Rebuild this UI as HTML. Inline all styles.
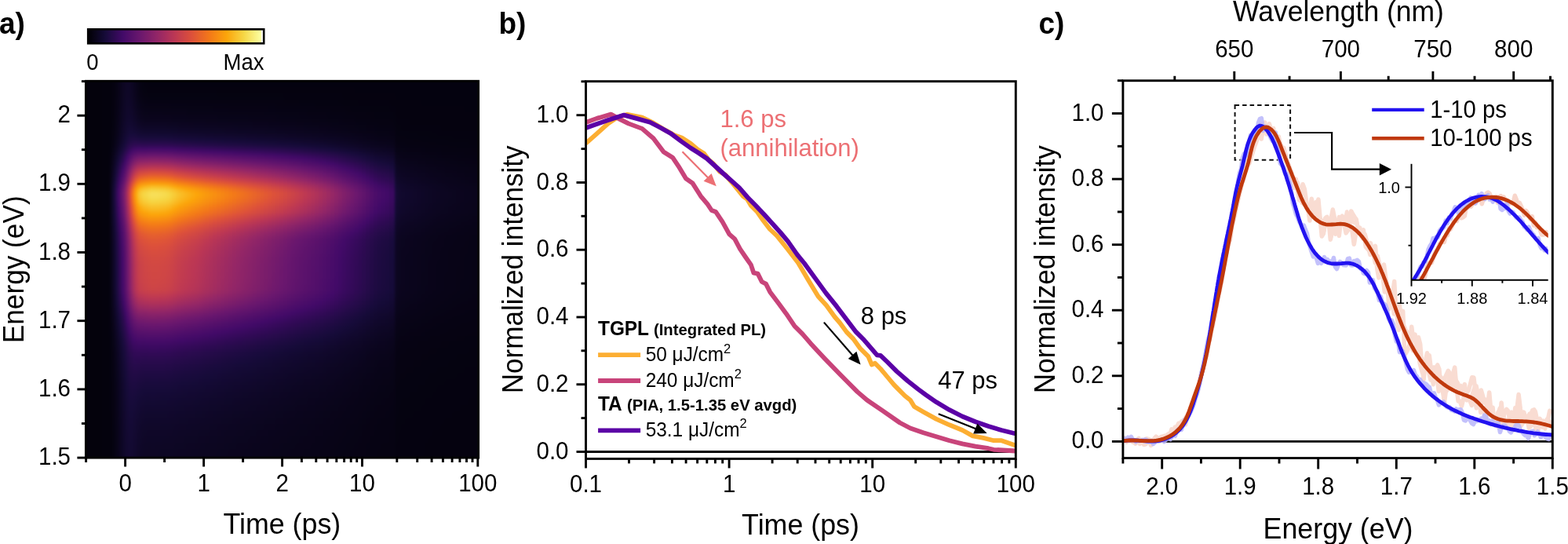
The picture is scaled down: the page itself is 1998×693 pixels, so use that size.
<!DOCTYPE html>
<html><head><meta charset="utf-8"><style>
html,body{margin:0;padding:0;background:#fff}
body{width:1998px;height:693px;overflow:hidden;position:relative}
#hm{position:absolute;left:109px;top:103px;width:501px;height:481px;overflow:hidden}
#hmi div{position:absolute;top:0;height:100%}
svg{position:absolute;left:0;top:0}
text{font-family:"Liberation Sans", Arial, sans-serif}
</style></head><body>
<div id="hm"><div id="hmi" style="position:absolute;left:-6px;top:-6px;width:513px;height:493px;filter:blur(1.2px)"><div style="left:0px;width:3px;background:linear-gradient(#04020c 0px,#04020c 493px)"></div><div style="left:3px;width:3px;background:linear-gradient(#04020c 0px,#04020c 493px)"></div><div style="left:6px;width:3px;background:linear-gradient(#04020c 0px,#04020c 493px)"></div><div style="left:9px;width:3px;background:linear-gradient(#04020c 0px,#04020c 493px)"></div><div style="left:12px;width:3px;background:linear-gradient(#04020c 0px,#04020c 493px)"></div><div style="left:15px;width:3px;background:linear-gradient(#04020c 0px,#04020c 493px)"></div><div style="left:18px;width:3px;background:linear-gradient(#04020c 0px,#04020c 493px)"></div><div style="left:21px;width:3px;background:linear-gradient(#04020c 0px,#04020c 493px)"></div><div style="left:24px;width:3px;background:linear-gradient(#04020c 0px,#04020c 493px)"></div><div style="left:27px;width:3px;background:linear-gradient(#04020d 0px,#04020d 493px)"></div><div style="left:30px;width:3px;background:linear-gradient(#04020d 0px,#04020d 493px)"></div><div style="left:33px;width:3px;background:linear-gradient(#04020d 0px,#04020d 493px)"></div><div style="left:36px;width:2px;background:linear-gradient(#04020d 0px,#04020d 64px,#04020e 72px,#04020e 93px,#04020f 96px,#04020f 97px,#05020f 101px,#05020f 105px,#050210 109px,#050210 112px,#050310 113px,#050311 117px,#050311 121px,#060311 125px,#060312 128px,#060312 136px,#060313 137px,#060313 177px,#060312 181px,#060312 200px,#060311 201px,#060311 208px,#050311 216px,#050311 281px,#050310 285px,#050310 293px,#050210 296px,#050210 305px,#05020f 309px,#05020f 321px,#04020f 325px,#04020f 329px,#04020e 336px,#04020e 424px,#04020d 432px,#04020d 493px)"></div><div style="left:38px;width:2px;background:linear-gradient(#04020e 0px,#04020e 56px,#04020f 64px,#05020f 72px,#05020f 73px,#050210 77px,#050210 81px,#050310 85px,#050311 88px,#050311 89px,#060312 93px,#060313 96px,#060313 97px,#070314 101px,#070315 104px,#070415 105px,#080416 109px,#080417 112px,#080417 113px,#090419 117px,#090419 120px,#09051a 121px,#0a051b 125px,#0a051c 128px,#0a051c 129px,#0b051d 133px,#0b051e 136px,#0b061f 137px,#0c0620 141px,#0c0621 144px,#0c0621 145px,#0c0622 149px,#0c0622 153px,#0c0621 157px,#0c0621 161px,#0c0620 165px,#0c0620 169px,#0b061f 173px,#0b061f 177px,#0b051e 181px,#0b051e 185px,#0a051d 189px,#0a051d 192px,#0a051c 193px,#0a051c 201px,#0a051b 208px,#09051b 216px,#09051a 224px,#09051a 256px,#09041a 264px,#090419 272px,#090419 281px,#080418 285px,#080418 289px,#080417 293px,#080417 297px,#070416 301px,#070416 304px,#070415 305px,#070415 309px,#070315 312px,#070314 313px,#070314 320px,#060314 321px,#060313 325px,#060313 329px,#060312 336px,#060312 344px,#050311 352px,#050311 360px,#050310 368px,#050310 376px,#050210 384px,#050210 400px,#05020f 408px,#05020f 456px,#04020f 464px,#04020f 493px)"></div><div style="left:40px;width:2px;background:linear-gradient(#05020f 0px,#05020f 32px,#050210 40px,#050210 48px,#050310 56px,#050311 64px,#060311 72px,#060311 73px,#060312 77px,#060312 80px,#060313 81px,#060313 85px,#070314 88px,#070314 89px,#070416 93px,#080417 96px,#080418 97px,#090419 101px,#09051b 104px,#0a051b 105px,#0a051d 109px,#0b051e 112px,#0b061f 113px,#0c0621 117px,#0d0622 120px,#0d0623 121px,#0e0725 125px,#0e0726 128px,#0e0727 129px,#0f0829 133px,#10082b 136px,#10082b 137px,#11092e 141px,#12092f 144px,#12092f 145px,#120930 149px,#120930 157px,#12092f 160px,#12092f 161px,#12092e 165px,#11092e 168px,#11092d 169px,#11082d 173px,#11082c 176px,#10082c 177px,#10082b 181px,#10082a 184px,#10082a 185px,#0f0829 189px,#0f0728 192px,#0f0728 193px,#0e0727 197px,#0e0726 200px,#0e0726 201px,#0e0725 208px,#0d0724 216px,#0d0724 224px,#0d0723 232px,#0d0623 240px,#0d0623 272px,#0d0622 273px,#0c0622 277px,#0c0621 280px,#0c0621 281px,#0c0620 285px,#0c0620 288px,#0b0620 289px,#0b061f 293px,#0b051e 296px,#0b051e 297px,#0a051d 301px,#0a051c 304px,#0a051c 305px,#0a051b 309px,#09051a 312px,#09051a 313px,#090419 317px,#090419 321px,#080418 325px,#080418 328px,#080417 329px,#080416 336px,#070415 344px,#070314 352px,#070314 360px,#060313 368px,#060313 384px,#060312 392px,#060312 416px,#060311 424px,#060311 432px,#050311 440px,#050311 493px)"></div><div style="left:42px;width:2px;background:linear-gradient(#050311 0px,#050311 24px,#060311 32px,#060312 40px,#060312 56px,#060313 64px,#070314 72px,#070314 73px,#070415 77px,#070416 80px,#070416 81px,#080417 85px,#080418 88px,#090419 89px,#09051b 93px,#0a051d 96px,#0a051d 97px,#0c0620 101px,#0c0622 104px,#0d0622 105px,#0e0725 109px,#0f0727 112px,#0f0728 113px,#10082b 117px,#11082d 120px,#11092e 121px,#120930 125px,#130a32 128px,#140a33 129px,#150a36 133px,#160b39 136px,#170b3a 137px,#190b3c 141px,#1b0b3e 144px,#1b0b3f 145px,#1c0b40 149px,#1c0b40 153px,#1c0b3f 157px,#1b0b3f 160px,#1b0b3e 161px,#1a0b3d 165px,#190b3c 168px,#190b3c 169px,#180b3b 173px,#170b3a 176px,#170b3a 177px,#160b39 181px,#150b37 184px,#150b37 185px,#150a36 189px,#140a35 192px,#140a34 193px,#140a33 197px,#130a32 200px,#130a32 201px,#130931 208px,#120930 216px,#12092f 224px,#12092e 232px,#11092e 240px,#11092e 256px,#11092d 264px,#11082d 272px,#11082d 273px,#11082c 277px,#10082b 280px,#10082b 281px,#10082a 285px,#0f0829 288px,#0f0829 289px,#0f0727 293px,#0e0726 296px,#0e0726 297px,#0e0725 301px,#0d0724 304px,#0d0623 305px,#0c0622 309px,#0c0621 312px,#0c0621 313px,#0c0620 317px,#0b061f 320px,#0b061f 321px,#0b051e 325px,#0a051d 328px,#0a051d 329px,#0a051b 336px,#09051a 344px,#090419 352px,#080418 360px,#080417 368px,#080416 376px,#070416 384px,#070416 392px,#070415 400px,#070315 408px,#070314 416px,#070314 440px,#060314 448px,#060313 456px,#060313 493px)"></div><div style="left:44px;width:2px;background:linear-gradient(#060313 0px,#060313 24px,#070314 32px,#070314 40px,#070315 48px,#070415 56px,#080416 64px,#080417 72px,#080418 73px,#090419 77px,#09041a 80px,#09051a 81px,#0a051b 85px,#0a051d 88px,#0b051d 89px,#0c0620 93px,#0d0623 96px,#0d0723 97px,#0f0727 101px,#10082a 104px,#10082a 105px,#11092e 109px,#130931 112px,#130932 113px,#150a35 117px,#160b38 120px,#160b39 121px,#190b3d 125px,#1c0b3f 128px,#1c0b40 129px,#200b44 133px,#230b47 136px,#240b48 137px,#270b4b 141px,#290b4e 144px,#2a0b4e 145px,#2b0b50 149px,#2b0b50 153px,#2b0b4f 157px,#2a0b4e 160px,#290b4e 161px,#280b4c 165px,#270b4b 168px,#270b4b 169px,#260b4a 173px,#240b48 176px,#240b48 177px,#220b46 181px,#210b45 184px,#210b44 185px,#1f0b43 189px,#1e0b42 192px,#1e0b41 193px,#1c0b40 197px,#1b0b3f 200px,#1b0b3e 201px,#1a0b3d 208px,#190b3c 216px,#180b3b 224px,#170b3a 232px,#170b3a 240px,#160b3a 248px,#160b39 256px,#160b39 264px,#160b38 272px,#160b38 273px,#150b37 277px,#150a36 280px,#150a36 281px,#140a34 285px,#140a33 288px,#130a33 289px,#130931 293px,#120930 296px,#12092f 297px,#11092e 301px,#11082c 304px,#10082c 305px,#10082a 309px,#0f0829 312px,#0f0828 313px,#0f0727 317px,#0e0726 320px,#0e0726 321px,#0d0724 325px,#0d0723 328px,#0d0623 329px,#0c0621 336px,#0b061f 344px,#0b051d 352px,#0a051c 360px,#0a051b 368px,#09051b 376px,#09051a 384px,#090419 392px,#090419 400px,#080418 408px,#080418 424px,#080417 432px,#080417 456px,#080416 464px,#080416 472px,#070416 480px,#070416 493px)"></div><div style="left:46px;width:2px;background:linear-gradient(#070416 0px,#070416 8px,#080416 16px,#080416 24px,#080417 32px,#080417 40px,#080418 48px,#090419 56px,#09051a 64px,#0a051b 72px,#0a051c 73px,#0a051d 77px,#0b051e 80px,#0b061f 81px,#0c0620 85px,#0d0622 88px,#0d0623 89px,#0e0726 93px,#10082a 96px,#10082b 97px,#12092f 101px,#130a32 104px,#140a33 105px,#150b38 109px,#180b3b 112px,#190b3c 113px,#1d0b40 117px,#200b44 120px,#210b45 121px,#250b49 125px,#280b4c 128px,#290b4d 129px,#2d0a52 133px,#310a55 136px,#320a57 137px,#360a5b 141px,#390a5e 144px,#3a0a5f 145px,#3b0a61 149px,#3b0a61 153px,#3a0a60 157px,#390a5f 160px,#390a5e 161px,#370a5d 165px,#360a5b 168px,#360a5b 169px,#340a59 173px,#330a58 176px,#320a57 177px,#300a55 181px,#2f0a53 184px,#2e0a53 185px,#2c0a51 189px,#2b0b4f 192px,#2a0b4f 193px,#290b4d 197px,#270b4c 200px,#270b4b 201px,#250b49 208px,#240b48 216px,#230b47 224px,#220b46 232px,#210b45 240px,#210b45 256px,#210b44 264px,#200b44 272px,#200b43 273px,#1f0b42 277px,#1e0b41 280px,#1d0b41 281px,#1c0b3f 285px,#1b0b3e 288px,#1a0b3d 289px,#180b3c 293px,#170b3a 296px,#170b3a 297px,#150b37 301px,#150a35 304px,#140a35 305px,#130a33 309px,#130931 312px,#130931 313px,#12092f 317px,#11092e 320px,#11092d 321px,#10082c 325px,#10082a 328px,#10082a 329px,#0f0727 336px,#0e0725 344px,#0d0623 352px,#0c0622 360px,#0c0620 368px,#0b061f 376px,#0b061f 384px,#0b051e 392px,#0a051d 400px,#0a051d 408px,#0a051c 416px,#0a051c 424px,#0a051b 432px,#09051b 440px,#09051a 448px,#09051a 472px,#09041a 480px,#09041a 493px)"></div><div style="left:48px;width:2px;background:linear-gradient(#090419 0px,#090419 24px,#09051a 32px,#09051a 40px,#0a051b 48px,#0a051c 56px,#0b051d 64px,#0b0620 72px,#0c0620 73px,#0c0621 77px,#0d0623 80px,#0d0623 81px,#0e0726 85px,#0f0728 88px,#0f0829 89px,#11082d 93px,#130931 96px,#130a32 97px,#150b37 101px,#180b3b 104px,#190b3c 105px,#1d0b41 109px,#210b45 112px,#220b46 113px,#270b4b 117px,#2b0b4f 120px,#2c0b50 121px,#310a56 125px,#340a59 128px,#350a5b 129px,#3b0a60 133px,#3f0a65 136px,#400a66 137px,#450b69 141px,#480c69 144px,#490c69 145px,#4b0d69 149px,#4b0d69 153px,#4a0d69 157px,#490c69 160px,#490c69 161px,#470c69 165px,#450b69 168px,#450b68 169px,#430a68 173px,#420a68 176px,#410a67 177px,#3f0a64 181px,#3d0a62 184px,#3c0a62 185px,#390a5f 189px,#380a5d 192px,#370a5d 193px,#350a5a 197px,#340a59 200px,#330a58 201px,#310a56 208px,#2f0a54 216px,#2e0a53 224px,#2d0a52 232px,#2d0a51 240px,#2c0a51 248px,#2c0a51 256px,#2c0b50 264px,#2b0b4f 272px,#2b0b4f 273px,#290b4e 277px,#280b4c 280px,#270b4c 281px,#260b4a 285px,#240b48 288px,#240b48 289px,#220b45 293px,#200b44 296px,#1f0b43 297px,#1d0b40 301px,#1b0b3e 304px,#1b0b3e 305px,#180b3c 309px,#170b3a 312px,#160b3a 313px,#150b37 317px,#150a36 320px,#140a35 321px,#140a33 325px,#130932 328px,#130931 329px,#11092e 336px,#10082b 344px,#0f0829 352px,#0f0727 360px,#0e0726 368px,#0d0724 376px,#0d0623 384px,#0d0622 392px,#0c0622 400px,#0c0621 408px,#0c0620 416px,#0b0620 424px,#0b061f 432px,#0b061f 440px,#0b051e 448px,#0b051e 472px,#0b051d 480px,#0a051d 488px,#0a051d 493px)"></div><div style="left:50px;width:2px;background:linear-gradient(#0a051c 0px,#0a051c 16px,#0a051d 24px,#0b051d 32px,#0b051e 40px,#0b061f 48px,#0c0620 56px,#0c0622 64px,#0d0724 72px,#0d0724 73px,#0e0726 77px,#0f0728 80px,#0f0828 81px,#10082b 85px,#11092e 88px,#12092f 89px,#140a34 93px,#160b38 96px,#160b39 97px,#1c0b3f 101px,#200b43 104px,#210b45 105px,#260b4a 109px,#2a0b4e 112px,#2c0b50 113px,#310a56 117px,#360a5b 120px,#370a5c 121px,#3d0a62 125px,#410a67 128px,#420a68 129px,#480c69 133px,#4c0d6a 136px,#4e0e6a 137px,#53106b 141px,#57116b 144px,#58116b 145px,#5a126c 149px,#5a126c 153px,#59116b 157px,#58116b 160px,#57116b 161px,#55106b 165px,#54106b 168px,#53106b 169px,#510f6a 173px,#4f0e6a 176px,#4e0e6a 177px,#4c0d69 181px,#4a0d69 184px,#490c69 185px,#460b69 189px,#450b68 192px,#440b68 193px,#420a68 197px,#400a66 200px,#400a66 201px,#3d0a63 208px,#3b0a61 216px,#390a5f 224px,#380a5e 232px,#380a5d 240px,#370a5d 248px,#370a5c 256px,#370a5c 264px,#360a5b 272px,#350a5b 273px,#340a59 277px,#320a57 280px,#320a57 281px,#300a54 285px,#2e0a53 288px,#2d0a52 289px,#2b0b4f 293px,#290b4d 296px,#280b4c 297px,#250b49 301px,#230b47 304px,#230b46 305px,#200b44 309px,#1e0b42 312px,#1e0b41 313px,#1c0b3f 317px,#1a0b3d 320px,#1a0b3d 321px,#180b3b 325px,#160b39 328px,#160b39 329px,#140a35 336px,#130931 344px,#12092f 352px,#11082d 360px,#10082b 368px,#10082a 376px,#0f0828 384px,#0f0727 392px,#0e0726 400px,#0e0726 408px,#0e0725 416px,#0d0724 424px,#0d0724 432px,#0d0623 440px,#0d0623 448px,#0d0622 456px,#0c0622 464px,#0c0622 472px,#0c0621 480px,#0c0621 493px)"></div><div style="left:52px;width:2px;background:linear-gradient(#0b0620 0px,#0b0620 8px,#0c0620 16px,#0c0620 24px,#0c0621 32px,#0c0622 40px,#0d0623 48px,#0d0724 56px,#0e0726 64px,#0f0828 72px,#0f0829 73px,#10082b 77px,#11082d 80px,#11092d 81px,#120930 85px,#140a33 88px,#140a35 89px,#170b3a 93px,#1b0b3e 96px,#1d0b40 97px,#230b46 101px,#270b4b 104px,#280b4d 105px,#2e0a53 109px,#330a58 112px,#350a5a 113px,#3b0a61 117px,#400a66 120px,#420a68 121px,#480c69 125px,#4c0d69 128px,#4d0e6a 129px,#54106b 133px,#59116b 136px,#5a126c 137px,#61146d 141px,#65156d 144px,#66166d 145px,#69176e 149px,#69176e 152px,#68176e 153px,#67166e 157px,#66166d 160px,#65156d 161px,#63156d 165px,#61146d 168px,#60146d 169px,#5e136c 173px,#5c126c 176px,#5b126c 177px,#58116b 181px,#56106b 184px,#55106b 185px,#520f6a 189px,#500f6a 192px,#4f0e6a 193px,#4d0e6a 197px,#4b0d69 200px,#4b0d69 201px,#480c69 208px,#460b69 216px,#440b68 224px,#430a68 232px,#420a68 240px,#420a68 256px,#410a67 264px,#400a66 272px,#400a66 273px,#3e0a64 277px,#3c0a62 280px,#3c0a61 281px,#390a5f 285px,#370a5d 288px,#370a5c 289px,#340a59 293px,#320a56 296px,#310a56 297px,#2e0a52 301px,#2b0b50 304px,#2a0b4f 305px,#280b4c 309px,#260b4a 312px,#250b49 313px,#230b46 317px,#210b45 320px,#200b44 321px,#1e0b42 325px,#1c0b40 328px,#1c0b3f 329px,#180b3b 336px,#160b38 344px,#140a35 352px,#130a32 360px,#120930 368px,#12092f 376px,#11092d 384px,#11082c 392px,#10082b 400px,#10082a 408px,#0f0829 416px,#0f0829 424px,#0f0728 432px,#0f0727 440px,#0e0727 448px,#0e0726 456px,#0e0726 480px,#0e0725 488px,#0e0725 493px)"></div><div style="left:54px;width:2px;background:linear-gradient(#0d0623 0px,#0d0623 16px,#0d0723 24px,#0d0724 32px,#0e0725 40px,#0e0726 48px,#0f0727 56px,#10082a 64px,#11082d 72px,#11092d 73px,#120930 77px,#130932 80px,#130a32 81px,#150a36 85px,#160b39 88px,#170b3a 89px,#1d0b40 93px,#210b45 96px,#230b47 97px,#2a0b4e 101px,#2f0a54 104px,#310a56 105px,#370a5d 109px,#3d0a62 112px,#3f0a64 113px,#460b69 117px,#4b0d69 120px,#4c0d6a 121px,#53106b 125px,#58116b 128px,#5a126c 129px,#61146d 133px,#67166e 136px,#69176e 137px,#70196d 141px,#751b6c 144px,#761b6c 145px,#791d6b 149px,#791d6b 153px,#781c6c 157px,#761b6c 160px,#751b6c 161px,#731a6d 165px,#70196d 168px,#70196d 169px,#6d186e 173px,#6b176e 176px,#6a176e 177px,#66166d 181px,#63156d 184px,#63156d 185px,#5f136c 189px,#5d136c 192px,#5c126c 193px,#59126b 197px,#57116b 200px,#57116b 201px,#54106b 208px,#510f6a 216px,#4f0e6a 224px,#4e0e6a 232px,#4d0e6a 240px,#4d0e6a 248px,#4d0d6a 256px,#4c0d69 264px,#4b0d69 272px,#4b0d69 273px,#490c69 277px,#470c69 280px,#460b69 281px,#440b68 285px,#420a68 288px,#410a67 289px,#3e0a63 293px,#3b0a61 296px,#3a0a60 297px,#370a5c 301px,#340a59 304px,#330a58 305px,#300a55 309px,#2d0a52 312px,#2d0a51 313px,#2a0b4e 317px,#280b4c 320px,#270b4b 321px,#250b49 325px,#230b47 328px,#220b46 329px,#1e0b42 336px,#1a0b3e 344px,#170b3a 352px,#160b38 360px,#150a36 368px,#140a34 376px,#130a32 384px,#130931 392px,#120930 400px,#12092f 408px,#11092e 416px,#11092d 424px,#11082c 432px,#10082c 440px,#10082b 448px,#10082b 456px,#10082a 464px,#10082a 472px,#100829 480px,#0f0829 488px,#0f0829 493px)"></div><div style="left:56px;width:2px;background:linear-gradient(#0e0725 0px,#0e0725 16px,#0e0726 24px,#0e0727 32px,#0f0728 40px,#0f0829 48px,#10082b 56px,#11092d 64px,#130931 72px,#130931 73px,#140a34 77px,#150b37 80px,#150b38 81px,#180b3b 85px,#1b0b3f 88px,#1d0b40 89px,#230b47 93px,#290b4d 96px,#2b0b4f 97px,#330a58 101px,#390a5e 104px,#3b0a60 105px,#420a68 109px,#480c69 112px,#4a0d69 113px,#520f6a 117px,#58116b 120px,#5a126c 121px,#62146d 125px,#67166e 128px,#69176e 129px,#721a6d 133px,#791d6b 136px,#7c1d6b 137px,#842169 141px,#8a2369 144px,#8b2368 145px,#8f2568 149px,#8f2568 153px,#8d2468 157px,#8b2368 160px,#8b2368 161px,#872269 165px,#852169 168px,#84206a 169px,#811f6a 173px,#7e1e6b 176px,#7d1e6b 177px,#791c6c 181px,#751b6c 184px,#741b6c 185px,#70196d 189px,#6d186d 192px,#6c186e 193px,#69176e 197px,#67166e 200px,#66166d 201px,#62156d 208px,#60146c 216px,#5d136c 224px,#5c126c 232px,#5b126c 240px,#5a126c 248px,#5a126c 256px,#59126c 264px,#58116b 272px,#58116b 273px,#56106b 277px,#53106b 280px,#530f6b 281px,#500e6a 285px,#4d0e6a 288px,#4d0d6a 289px,#490c69 293px,#460b69 296px,#450b69 297px,#410a67 301px,#3e0a64 304px,#3d0a63 305px,#390a5f 309px,#370a5c 312px,#360a5b 313px,#330a58 317px,#300a55 320px,#2f0a54 321px,#2c0a51 325px,#2a0b4f 328px,#2a0b4e 329px,#250b49 336px,#200b44 344px,#1d0b40 352px,#1a0b3e 360px,#180b3b 368px,#160b39 376px,#150b38 384px,#150a36 392px,#140a35 400px,#140a33 408px,#130a32 416px,#130931 424px,#120930 432px,#12092f 440px,#12092f 448px,#12092e 456px,#11092e 464px,#11092d 472px,#11092d 480px,#11082d 488px,#11082d 493px)"></div><div style="left:58px;width:2px;background:linear-gradient(#0e0726 0px,#0e0726 8px,#0e0727 16px,#0f0727 24px,#0f0828 32px,#10082a 40px,#10082b 48px,#11082d 56px,#120930 64px,#140a34 72px,#140a35 73px,#160b38 77px,#180b3b 80px,#190b3c 81px,#1d0b40 85px,#210b44 88px,#220b46 89px,#2a0b4e 93px,#300a55 96px,#320a57 97px,#3c0a61 101px,#430a68 104px,#450b68 105px,#4d0e6a 109px,#54106b 112px,#56116b 113px,#60146c 117px,#67166e 120px,#69176e 121px,#731a6d 125px,#7a1d6b 128px,#7c1e6b 129px,#862169 133px,#8f2468 136px,#922567 137px,#9c2a63 141px,#a22c60 144px,#a42d5f 145px,#a82f5d 149px,#a92f5d 152px,#a82f5d 153px,#a62e5e 157px,#a42d5f 160px,#a32d60 161px,#9f2b61 165px,#9c2a63 168px,#9b2963 169px,#972865 173px,#942667 176px,#932667 177px,#8e2468 181px,#8a2369 184px,#892269 185px,#84206a 189px,#811f6a 192px,#801f6a 193px,#7c1d6b 197px,#791c6b 200px,#781c6c 201px,#731a6c 208px,#70196d 216px,#6d186d 224px,#6c186e 232px,#6a176e 240px,#6a176e 248px,#69176e 256px,#69176e 264px,#67166e 272px,#67166e 273px,#64156d 277px,#62146d 280px,#61146d 281px,#5d136c 285px,#5a126c 288px,#59126c 289px,#55106b 293px,#520f6a 296px,#510f6a 297px,#4c0d6a 301px,#490c69 304px,#480c69 305px,#440b68 309px,#410a67 312px,#400a66 313px,#3c0a61 317px,#390a5e 320px,#380a5e 321px,#350a5a 325px,#320a57 328px,#310a56 329px,#2c0b50 336px,#260b4a 344px,#220b46 352px,#1f0b43 360px,#1d0b40 368px,#1b0b3e 376px,#190b3c 384px,#170b3a 392px,#160b39 400px,#150b37 408px,#150a36 416px,#140a35 424px,#140a34 432px,#130a33 440px,#130a32 448px,#130931 456px,#130931 464px,#120930 472px,#120930 493px)"></div><div style="left:60px;width:2px;background:linear-gradient(#0e0726 0px,#0e0726 8px,#0e0727 16px,#0f0727 24px,#0f0829 32px,#10082a 40px,#11082c 48px,#11092e 56px,#130932 64px,#150b37 72px,#150b37 73px,#180b3b 77px,#1b0b3e 80px,#1c0b3f 81px,#200b44 85px,#250b49 88px,#270b4b 89px,#2f0a54 93px,#370a5c 96px,#3a0a5f 97px,#450b68 101px,#4c0d6a 104px,#4f0e6a 105px,#58116b 109px,#60146d 112px,#63156d 113px,#6e186d 117px,#771c6c 120px,#791d6b 121px,#842169 125px,#8c2468 128px,#8f2568 129px,#9b2963 133px,#a52e5f 136px,#a82f5d 137px,#b53457 141px,#bc3754 144px,#be3853 145px,#c23c4f 149px,#c23c4f 152px,#c23b50 153px,#c03a51 157px,#be3853 160px,#bd3853 161px,#b83556 165px,#b53457 168px,#b43358 169px,#af325a 173px,#ab305c 176px,#aa2f5c 177px,#a42d5f 181px,#a02b61 184px,#9e2b62 185px,#982865 189px,#942766 192px,#932667 193px,#8f2468 197px,#8b2368 200px,#8a2368 201px,#852169 208px,#81206a 216px,#7e1e6b 224px,#7c1e6b 232px,#7b1d6b 240px,#7a1d6b 248px,#791d6b 256px,#791c6c 264px,#771c6c 272px,#761b6c 273px,#731a6c 277px,#70196d 280px,#6f196d 281px,#6b176e 285px,#68166e 288px,#66166d 289px,#62146d 293px,#5e136c 296px,#5d136c 297px,#57116b 301px,#53106b 304px,#520f6a 305px,#4d0e6a 309px,#4a0d69 312px,#490c69 313px,#450b68 317px,#420a68 320px,#410a66 321px,#3c0a62 325px,#390a5f 328px,#380a5e 329px,#320a57 336px,#2c0b50 344px,#270b4b 352px,#230b47 360px,#200b44 368px,#1e0b41 376px,#1c0b3f 384px,#1a0b3d 392px,#180b3b 400px,#170b3a 408px,#160b38 416px,#150b37 424px,#150a36 432px,#140a35 440px,#140a34 448px,#140a33 456px,#130a32 464px,#130a32 472px,#130931 480px,#130931 493px)"></div><div style="left:62px;width:2px;background:linear-gradient(#0e0725 0px,#0e0725 16px,#0e0726 24px,#0f0728 32px,#100829 40px,#10082b 48px,#11092e 56px,#130a32 64px,#160b38 72px,#160b39 73px,#1a0b3d 77px,#1d0b40 80px,#1e0b42 81px,#240b48 85px,#290b4d 88px,#2b0b4f 89px,#350a5a 93px,#3e0a64 96px,#410a67 97px,#4d0e6a 101px,#56106b 104px,#59116b 105px,#64156d 109px,#6d186d 112px,#70196d 113px,#7e1e6b 117px,#872269 120px,#8b2368 121px,#982865 125px,#a12c61 128px,#a42d5f 129px,#b23358 133px,#bd3853 136px,#c03b50 137px,#cc4348 141px,#d34942 144px,#d54a41 145px,#d94e3d 149px,#da4e3d 152px,#d94e3d 153px,#d74c3f 157px,#d54a41 160px,#d44a41 161px,#cf4645 165px,#cc4447 168px,#cb4348 169px,#c73f4c 173px,#c33d4e 176px,#c23c4f 177px,#bc3754 181px,#b73556 184px,#b63457 185px,#af325a 189px,#aa305c 192px,#a92f5d 193px,#a42d5f 197px,#a02b61 200px,#9f2b62 201px,#982864 208px,#942667 216px,#902567 224px,#8e2468 232px,#8c2468 240px,#8c2368 248px,#8b2368 256px,#8a2369 264px,#882269 272px,#872269 273px,#83206a 277px,#801f6a 280px,#7f1f6a 281px,#7a1d6b 285px,#761b6c 288px,#751b6c 289px,#6f196d 293px,#6a176e 296px,#69176e 297px,#63156d 301px,#5e136c 304px,#5c136c 305px,#57116b 309px,#53106b 312px,#520f6a 313px,#4d0e6a 317px,#490c69 320px,#480c69 321px,#440b68 325px,#410a67 328px,#3f0a65 329px,#380a5d 336px,#310a56 344px,#2b0b4f 352px,#270b4b 360px,#240b47 368px,#210b44 376px,#1e0b42 384px,#1c0b3f 392px,#1a0b3d 400px,#180b3c 408px,#170b3a 416px,#160b38 424px,#150b37 432px,#150a36 440px,#140a35 448px,#140a34 456px,#140a33 464px,#130a32 472px,#130a32 480px,#130932 488px,#130932 493px)"></div><div style="left:64px;width:2px;background:linear-gradient(#0d0623 0px,#0d0623 16px,#0d0724 24px,#0e0726 32px,#0f0728 40px,#10082a 48px,#11082d 56px,#130931 64px,#160b38 72px,#160b39 73px,#1a0b3e 77px,#1e0b42 80px,#200b43 81px,#260b4a 85px,#2c0b50 88px,#2e0a53 89px,#3a0a5f 93px,#440b68 96px,#470c69 97px,#54106b 101px,#5e136c 104px,#61146d 105px,#6e196d 109px,#791d6b 112px,#7d1e6b 113px,#8c2368 117px,#972865 120px,#9b2963 121px,#a92f5d 125px,#b43458 128px,#b73556 129px,#c53e4d 133px,#d04744 136px,#d34942 137px,#df5537 141px,#e45e2f 144px,#e6612d 145px,#e96727 149px,#ea6727 152px,#e96727 153px,#e8642a 157px,#e6612d 160px,#e55f2e 161px,#e25933 165px,#df5537 168px,#de5338 169px,#da4f3c 173px,#d64c3f 176px,#d54b40 177px,#cf4645 181px,#ca4249 184px,#c8414a 185px,#c23c4f 189px,#be3952 192px,#bd3853 193px,#b73556 197px,#b23358 200px,#b13259 201px,#aa305c 208px,#a52d5f 216px,#a12c61 224px,#9e2b62 232px,#9c2a63 240px,#9c2a63 248px,#9b2963 256px,#9a2964 264px,#972865 272px,#972765 273px,#922667 277px,#8e2468 280px,#8d2468 281px,#882269 285px,#83206a 288px,#81206a 289px,#7b1d6b 293px,#761b6c 296px,#741b6c 297px,#6d186e 301px,#67166e 304px,#66166d 305px,#5f146c 309px,#5b126c 312px,#5a126c 313px,#54106b 317px,#500f6a 320px,#4f0e6a 321px,#4a0d69 325px,#460b69 328px,#450b68 329px,#3d0a63 336px,#350a5a 344px,#2e0a53 352px,#290b4e 360px,#260b4a 368px,#220b46 376px,#200b43 384px,#1d0b41 392px,#1b0b3e 400px,#190b3c 408px,#170b3a 416px,#160b39 424px,#150b37 432px,#150a36 440px,#140a35 448px,#140a34 456px,#130a33 464px,#130a32 472px,#130931 480px,#130931 493px)"></div><div style="left:66px;width:2px;background:linear-gradient(#0b0620 0px,#0b0620 8px,#0c0620 16px,#0c0621 24px,#0d0623 32px,#0e0725 40px,#0f0728 48px,#10082b 56px,#120930 64px,#150b37 72px,#160b39 73px,#1a0b3e 77px,#1f0b42 80px,#200b44 81px,#270b4b 85px,#2e0a52 88px,#300a55 89px,#3d0a63 93px,#480c69 96px,#4b0d69 97px,#5a126c 101px,#65156d 104px,#69176e 105px,#771c6c 109px,#83206a 112px,#872269 113px,#982865 117px,#a42d5f 120px,#a82f5d 121px,#b93656 125px,#c33c4f 128px,#c63f4c 129px,#d44a41 133px,#df5437 136px,#e25933 137px,#eb6a25 141px,#f1741c 144px,#f3771a 145px,#f47f17 149px,#f58016 152px,#f47f17 153px,#f47b18 157px,#f2771a 160px,#f2761b 161px,#ee6f20 165px,#eb6a25 168px,#ea6926 169px,#e7622b 173px,#e45d30 176px,#e35b32 177px,#de5338 181px,#d94e3d 184px,#d84d3e 185px,#d14744 189px,#cc4447 192px,#cb4348 193px,#c53e4d 197px,#c13b50 200px,#c03a51 201px,#ba3655 208px,#b43458 216px,#af325a 224px,#ac305b 232px,#aa305c 240px,#a92f5d 248px,#a92f5d 256px,#a72e5e 264px,#a52d5f 272px,#a42d5f 273px,#9f2b61 277px,#9b2963 280px,#992964 281px,#932667 285px,#8e2468 288px,#8d2468 289px,#852169 293px,#801f6a 296px,#7e1e6b 297px,#761b6c 301px,#70196d 304px,#6e186d 305px,#67166d 309px,#62146d 312px,#60146d 313px,#5a126c 317px,#56106b 320px,#54106b 321px,#4f0e6a 325px,#4b0d69 328px,#490c69 329px,#410a67 336px,#380a5d 344px,#300a55 352px,#2b0b50 360px,#270b4b 368px,#230b47 376px,#200b44 384px,#1d0b41 392px,#1b0b3e 400px,#190b3c 408px,#170b3a 416px,#160b38 424px,#150a36 432px,#140a35 440px,#140a33 448px,#130a32 456px,#130931 464px,#120931 472px,#120930 480px,#12092f 488px,#12092f 493px)"></div><div style="left:68px;width:2px;background:linear-gradient(#0a051c 0px,#0a051c 8px,#0a051d 16px,#0b051e 24px,#0c0620 32px,#0d0622 40px,#0e0725 48px,#0f0829 56px,#11092e 64px,#150a36 72px,#150b38 73px,#1a0b3d 77px,#1e0b42 80px,#200b44 81px,#280b4c 85px,#2f0a53 88px,#320a57 89px,#400a66 93px,#4b0d69 96px,#4f0e6a 97px,#5f136c 101px,#6b176e 104px,#6f196d 105px,#7f1f6a 109px,#8c2368 112px,#902567 113px,#a22c60 117px,#b0325a 120px,#b43457 121px,#c43d4e 125px,#ce4645 128px,#d24843 129px,#e05735 133px,#e96529 136px,#eb6a24 137px,#f47e17 141px,#f78b13 144px,#f78e12 145px,#f9970f 149px,#f9980e 152px,#f9970f 153px,#f89310 157px,#f78e12 160px,#f78c12 161px,#f58415 165px,#f47e17 168px,#f47c18 169px,#f1751c 173px,#ee6f21 176px,#ed6d23 177px,#e8642a 181px,#e45d30 184px,#e25b32 185px,#de5239 189px,#d94e3d 192px,#d74d3e 193px,#d14843 197px,#cd4546 200px,#cc4348 201px,#c53e4d 208px,#c03a51 216px,#bc3754 224px,#b93656 232px,#b73556 240px,#b63457 248px,#b53457 256px,#b33358 264px,#b03259 272px,#b0325a 273px,#aa305c 277px,#a62e5e 280px,#a42d5f 281px,#9d2a62 285px,#982865 288px,#962766 289px,#8e2468 293px,#882269 296px,#862169 297px,#7d1e6b 301px,#771c6c 304px,#741b6c 305px,#6d186e 309px,#67166e 312px,#66166d 313px,#5f136c 317px,#5a126c 320px,#59116b 321px,#530f6a 325px,#4e0e6a 328px,#4d0d6a 329px,#430a68 336px,#3a0a5f 344px,#320a57 352px,#2c0a51 360px,#270b4c 368px,#240b47 376px,#200b44 384px,#1d0b41 392px,#1a0b3e 400px,#180b3b 408px,#160b39 416px,#150b37 424px,#140a35 432px,#140a33 440px,#130a32 448px,#130931 456px,#120930 464px,#12092f 472px,#11092e 480px,#11092d 488px,#11092d 493px)"></div><div style="left:70px;width:2px;background:linear-gradient(#090419 0px,#090419 8px,#09041a 16px,#0a051b 24px,#0a051d 32px,#0b061f 40px,#0d0622 48px,#0e0726 56px,#11082c 64px,#140a35 72px,#150a36 73px,#190b3c 77px,#1e0b41 80px,#200b43 81px,#270b4c 85px,#2f0a54 88px,#320a57 89px,#410a67 93px,#4d0e6a 96px,#510f6a 97px,#62146d 101px,#6f196d 104px,#731a6c 105px,#852169 109px,#922667 112px,#972865 113px,#aa305c 117px,#b93656 120px,#bd3853 121px,#cc4447 125px,#d74d3e 128px,#db4f3c 129px,#e7632b 133px,#f0721e 136px,#f37819 137px,#f78e12 141px,#fa9c0d 144px,#fba00c 145px,#fbaa10 149px,#fbaa11 152px,#fbaa10 153px,#fca50a 157px,#fba00c 160px,#fb9e0c 161px,#f9950f 165px,#f88f11 168px,#f78c12 169px,#f58415 173px,#f47d17 176px,#f37a18 177px,#ef711f 181px,#eb6925 184px,#e96727 185px,#e45e2f 189px,#e15735 192px,#e05636 193px,#da4f3c 197px,#d64b40 200px,#d54a41 201px,#cd4546 208px,#c8414a 216px,#c43d4e 224px,#c13b50 232px,#bf3952 240px,#be3952 248px,#bd3853 256px,#bc3754 264px,#b93655 272px,#b83556 273px,#b33358 277px,#ae315b 280px,#ac305b 281px,#a52d5f 285px,#9f2b61 288px,#9d2a62 289px,#952766 293px,#8e2468 296px,#8c2368 297px,#83206a 301px,#7c1d6b 304px,#791d6b 305px,#711a6d 309px,#6b176e 312px,#69176e 313px,#62156d 317px,#5d136c 320px,#5c126c 321px,#55106b 325px,#500f6a 328px,#4f0e6a 329px,#450b68 336px,#3b0a60 344px,#320a57 352px,#2c0a51 360px,#270b4c 368px,#230b47 376px,#200b43 384px,#1c0b40 392px,#1a0b3d 400px,#170b3a 408px,#150b38 416px,#150a35 424px,#140a33 432px,#130931 440px,#120930 448px,#12092f 456px,#11092e 464px,#11082d 472px,#11082c 480px,#10082b 488px,#10082b 493px)"></div><div style="left:72px;width:2px;background:linear-gradient(#070416 0px,#070416 8px,#080417 16px,#080418 24px,#09051a 32px,#0a051d 40px,#0c0620 48px,#0d0724 56px,#10082a 64px,#140a33 72px,#140a35 73px,#180b3b 77px,#1d0b41 80px,#1f0b43 81px,#270b4c 85px,#2f0a54 88px,#330a58 89px,#420a68 93px,#4f0e6a 96px,#53106b 97px,#65156d 101px,#731a6c 104px,#771c6c 105px,#892269 109px,#982865 112px,#9d2a62 113px,#b13259 117px,#bf3a51 120px,#c33d4e 121px,#d34942 125px,#de5338 128px,#e15834 129px,#ed6d23 133px,#f47e17 136px,#f68515 137px,#fa9d0d 141px,#fbac12 144px,#fbb018 145px,#f9bb25 149px,#f9bc25 152px,#f9bb25 153px,#fab61f 157px,#fbb017 160px,#fbae15 161px,#fca40a 165px,#fa9d0d 168px,#fa9b0d 169px,#f89210 173px,#f78a13 176px,#f68714 177px,#f47c18 181px,#f1741c 184px,#ef711f 185px,#ea6827 189px,#e6612c 192px,#e55f2e 193px,#e05735 197px,#dd513a 200px,#dc503b 201px,#d44a41 208px,#cf4645 216px,#ca4249 224px,#c7404b 232px,#c53e4d 240px,#c43e4d 248px,#c43d4e 256px,#c23c4f 264px,#c03a51 272px,#bf3952 273px,#ba3655 277px,#b53457 280px,#b33358 281px,#ab305c 285px,#a52e5f 288px,#a32d5f 289px,#9a2964 293px,#942667 296px,#912567 297px,#872269 301px,#801f6a 304px,#7d1e6b 305px,#751b6c 309px,#6f196d 312px,#6d186e 313px,#65156d 317px,#60146c 320px,#5e136c 321px,#57116b 325px,#520f6a 328px,#510f6a 329px,#460b69 336px,#3c0a61 344px,#330a58 352px,#2c0a51 360px,#270b4b 368px,#230b47 376px,#1f0b43 384px,#1c0b3f 392px,#190b3c 400px,#160b39 408px,#150a36 416px,#140a34 424px,#130a32 432px,#120930 440px,#12092e 448px,#11082d 456px,#10082c 464px,#10082b 472px,#10082a 480px,#100829 488px,#100829 493px)"></div><div style="left:74px;width:2px;background:linear-gradient(#060314 0px,#060314 8px,#070314 16px,#070416 24px,#080418 32px,#09051b 40px,#0b051e 48px,#0c0622 56px,#0f0828 64px,#130a32 72px,#140a33 73px,#170b3a 77px,#1c0b40 80px,#1e0b42 81px,#270b4b 85px,#2f0a54 88px,#330a58 89px,#430a68 93px,#500e6a 96px,#54106b 97px,#67166e 101px,#751b6c 104px,#7a1d6b 105px,#8c2468 109px,#9b2963 112px,#a02c61 113px,#b53457 117px,#c33d4e 120px,#c7404b 121px,#d84d3e 125px,#e15933 128px,#e45e2f 129px,#f0731d 133px,#f68714 136px,#f78d12 137px,#fca60b 141px,#fab71f 144px,#f9bb25 145px,#f8c733 149px,#f8c733 152px,#f8c732 153px,#f9c12c 157px,#f9bb25 160px,#fab922 161px,#fbae15 165px,#fca60c 168px,#fca40a 169px,#fa9b0d 173px,#f89310 176px,#f89011 177px,#f58415 181px,#f47b18 184px,#f37819 185px,#ed6e21 189px,#ea6727 192px,#e86529 193px,#e45d30 197px,#e05735 200px,#df5536 201px,#d94e3d 208px,#d34942 216px,#cf4645 224px,#cb4348 232px,#c94249 240px,#c8414a 248px,#c8404b 256px,#c63f4c 264px,#c43d4e 272px,#c33c4f 273px,#be3952 277px,#b93655 280px,#b73556 281px,#af325a 285px,#a92f5d 288px,#a72e5e 289px,#9e2b62 293px,#972865 296px,#942766 297px,#8a2369 301px,#82206a 304px,#801f6a 305px,#771c6c 309px,#71196d 312px,#6f196d 313px,#67166e 317px,#61146d 320px,#5f146c 321px,#58116b 325px,#53106b 328px,#520f6a 329px,#470c69 336px,#3c0a62 344px,#330a58 352px,#2c0a51 360px,#270b4b 368px,#220b46 376px,#1e0b42 384px,#1b0b3e 392px,#180b3b 400px,#160b38 408px,#140a35 416px,#130a33 424px,#120930 432px,#12092e 440px,#11082d 448px,#10082b 456px,#10082a 464px,#0f0829 472px,#0f0728 480px,#0f0728 493px)"></div><div style="left:76px;width:2px;background:linear-gradient(#060312 0px,#060312 16px,#070314 24px,#080416 32px,#090419 40px,#0a051c 48px,#0c0620 56px,#0f0727 64px,#130931 72px,#130a32 73px,#160b39 77px,#1c0b3f 80px,#1e0b41 81px,#260b4a 85px,#2f0a54 88px,#320a57 89px,#430a68 93px,#500e6a 96px,#54106b 97px,#67166e 101px,#761b6c 104px,#7b1d6b 105px,#8e2468 109px,#9d2a62 112px,#a22c60 113px,#b73556 117px,#c53e4d 120px,#c94249 121px,#da4f3c 125px,#e35c31 128px,#e6612d 129px,#f2771a 133px,#f78b13 136px,#f89210 137px,#fbab12 141px,#f9bd26 144px,#f9c12c 145px,#f7cd3a 149px,#f7ce3b 152px,#f7cd3a 153px,#f8c733 157px,#f9c12c 160px,#f9bf29 161px,#fab41c 165px,#fbac12 168px,#fba90f 169px,#fb9f0c 173px,#f9980e 176px,#f9950f 177px,#f68913 181px,#f47f17 184px,#f47c18 185px,#ef721e 189px,#eb6b24 192px,#ea6826 193px,#e6602d 197px,#e25a32 200px,#e15834 201px,#db503b 208px,#d54b40 216px,#d14744 224px,#cd4546 232px,#cb4348 240px,#ca4249 248px,#ca4249 256px,#c8414a 264px,#c63e4d 272px,#c53e4d 273px,#c03a51 277px,#bb3754 280px,#b93655 281px,#b13359 285px,#ab305c 288px,#a92f5d 289px,#a02b61 293px,#982865 296px,#962766 297px,#8b2368 301px,#84206a 304px,#811f6a 305px,#781c6c 309px,#711a6d 312px,#6f196d 313px,#67166e 317px,#62146d 320px,#60146c 321px,#59116b 325px,#54106b 328px,#520f6a 329px,#470c69 336px,#3c0a61 344px,#320a57 352px,#2c0b50 360px,#260b4a 368px,#220b45 376px,#1e0b41 384px,#1a0b3d 392px,#170b3a 400px,#150b37 408px,#140a34 416px,#130931 424px,#12092f 432px,#11092d 440px,#10082b 448px,#10082a 456px,#0f0829 464px,#0f0728 472px,#0e0727 480px,#0e0726 488px,#0e0726 493px)"></div><div style="left:78px;width:2px;background:linear-gradient(#050311 0px,#050311 16px,#060313 24px,#070415 32px,#080418 40px,#0a051b 48px,#0b061f 56px,#0e0726 64px,#120930 72px,#130931 73px,#160b39 77px,#1b0b3f 80px,#1d0b41 81px,#260b4a 85px,#2f0a53 88px,#320a57 89px,#430a68 93px,#500f6a 96px,#55106b 97px,#68166e 101px,#771c6c 104px,#7b1d6b 105px,#8f2468 109px,#9e2b62 112px,#a32d5f 113px,#b93655 117px,#c73f4c 120px,#cb4348 121px,#dc503b 125px,#e55e2f 128px,#e7632b 129px,#f37a18 133px,#f78e12 136px,#f9950f 137px,#fbb017 141px,#f9c12c 144px,#f8c632 145px,#f7d240 149px,#f7d240 153px,#f7cc39 157px,#f8c631 160px,#f8c32e 161px,#fab922 165px,#fbb017 168px,#fbae14 169px,#fca30b 173px,#fa9b0d 176px,#f9980e 177px,#f78c12 181px,#f58315 184px,#f58016 185px,#f1741c 189px,#ed6d22 192px,#ec6b24 193px,#e7632b 197px,#e35d30 200px,#e25b32 201px,#dd513a 208px,#d74c3f 216px,#d24942 224px,#cf4645 232px,#cd4447 240px,#cc4447 248px,#cb4348 256px,#ca4249 264px,#c7404b 272px,#c63f4c 273px,#c13b50 277px,#bd3754 280px,#bb3755 281px,#b33358 285px,#ad315b 288px,#aa305c 289px,#a12c61 293px,#9a2964 296px,#972865 297px,#8c2468 301px,#852169 304px,#82206a 305px,#791c6b 309px,#721a6d 312px,#70196d 313px,#68166e 317px,#62146d 320px,#60146d 321px,#59126b 325px,#54106b 328px,#520f6a 329px,#470c69 336px,#3c0a61 344px,#320a57 352px,#2b0b50 360px,#260b4a 368px,#210b45 376px,#1d0b41 384px,#1a0b3d 392px,#160b39 400px,#150a36 408px,#140a33 416px,#130931 424px,#12092e 432px,#11082c 440px,#10082a 448px,#0f0829 456px,#0f0728 464px,#0e0727 472px,#0e0726 480px,#0e0725 488px,#0e0725 493px)"></div><div style="left:80px;width:3px;background:linear-gradient(#050210 0px,#050210 8px,#050310 16px,#060312 24px,#070314 32px,#080417 40px,#09051a 48px,#0b051e 56px,#0e0725 64px,#12092f 72px,#130931 73px,#160b38 77px,#1b0b3e 80px,#1d0b40 81px,#260b4a 85px,#2f0a53 88px,#320a57 89px,#430a68 93px,#500f6a 96px,#55106b 97px,#68166e 101px,#771c6c 104px,#7c1e6b 105px,#902568 109px,#9f2b61 112px,#a52d5f 113px,#ba3655 117px,#c8414a 120px,#cc4447 121px,#dd5239 125px,#e6612d 128px,#e96629 129px,#f47d17 133px,#f89210 136px,#f9980e 137px,#fab41c 141px,#f8c531 144px,#f8ca37 145px,#f6d645 149px,#f6d746 152px,#f6d645 153px,#f7d03e 157px,#f8ca36 160px,#f8c733 161px,#f9bd26 165px,#fab41c 168px,#fbb119 169px,#fca70c 173px,#fb9e0c 176px,#fa9c0d 177px,#f88f11 181px,#f68614 184px,#f58315 185px,#f2771a 189px,#ee6f20 192px,#ed6d22 193px,#e86529 197px,#e55f2e 200px,#e45d30 201px,#de5338 208px,#d94e3d 216px,#d44a41 224px,#d14744 232px,#cf4645 240px,#ce4546 248px,#cd4447 256px,#cb4348 264px,#c8414a 272px,#c8404b 273px,#c33c4f 277px,#be3952 280px,#bc3754 281px,#b53457 285px,#ae315a 288px,#ac305c 289px,#a22c60 293px,#9b2963 296px,#982865 297px,#8d2468 301px,#852169 304px,#83206a 305px,#791d6b 309px,#731a6c 312px,#71196d 313px,#69176e 317px,#63156d 320px,#61146d 321px,#5a126c 325px,#54106b 328px,#530f6a 329px,#470c69 336px,#3c0a61 344px,#320a57 352px,#2b0b50 360px,#260b4a 368px,#210b45 376px,#1d0b40 384px,#190b3c 392px,#160b39 400px,#150a36 408px,#130a33 416px,#120930 424px,#11092e 432px,#10082c 440px,#10082a 448px,#0f0828 456px,#0f0727 464px,#0e0726 472px,#0e0725 480px,#0d0725 488px,#0d0725 493px)"></div><div style="left:83px;width:3px;background:linear-gradient(#05020f 0px,#05020f 8px,#050210 16px,#060311 24px,#060314 32px,#080417 40px,#09051a 48px,#0b051e 56px,#0e0725 64px,#12092f 72px,#120930 73px,#160b38 77px,#1b0b3e 80px,#1d0b40 81px,#260b4a 85px,#2f0a53 88px,#320a57 89px,#430a68 93px,#510f6a 96px,#55106b 97px,#69176e 101px,#781c6c 104px,#7d1e6b 105px,#912567 109px,#a12c61 112px,#a62e5e 113px,#bc3754 117px,#c94249 120px,#ce4546 121px,#df5438 125px,#e7632b 128px,#ea6827 129px,#f47f17 133px,#f99410 136px,#fa9b0d 137px,#fab720 141px,#f8c935 144px,#f7ce3b 145px,#f6d94c 149px,#f6da4d 152px,#f6d94b 153px,#f6d443 157px,#f7ce3b 160px,#f7cb38 161px,#f9c02b 165px,#fab821 168px,#fab51d 169px,#fbaa10 173px,#fba10b 176px,#fb9f0c 177px,#f89210 181px,#f68814 184px,#f68515 185px,#f37919 189px,#ef721e 192px,#ee6f20 193px,#e96727 197px,#e6612d 200px,#e55f2e 201px,#df5537 208px,#da4f3c 216px,#d54b40 224px,#d24843 232px,#d04744 240px,#cf4645 248px,#ce4546 256px,#cd4447 264px,#ca4249 272px,#c9414a 273px,#c43d4e 277px,#bf3a51 280px,#be3853 281px,#b63557 285px,#af325a 288px,#ad315b 289px,#a32d5f 293px,#9c2a63 296px,#992964 297px,#8e2468 301px,#862169 304px,#84206a 305px,#7a1d6b 309px,#741b6c 312px,#721a6d 313px,#69176e 317px,#63156d 320px,#61146d 321px,#5a126c 325px,#55106b 328px,#53106b 329px,#480c69 336px,#3c0a62 344px,#320a57 352px,#2b0b50 360px,#260b4a 368px,#210b45 376px,#1d0b40 384px,#190b3c 392px,#160b39 400px,#140a35 408px,#130a32 416px,#120930 424px,#11092d 432px,#10082b 440px,#100829 448px,#0f0728 456px,#0e0727 464px,#0e0726 472px,#0e0725 480px,#0d0724 488px,#0d0724 493px)"></div><div style="left:86px;width:3px;background:linear-gradient(#04020f 0px,#04020f 8px,#05020f 16px,#050311 24px,#060313 32px,#080416 40px,#09041a 48px,#0b051e 56px,#0e0725 64px,#12092f 72px,#120931 73px,#160b38 77px,#1b0b3e 80px,#1d0b40 81px,#260b4a 85px,#2f0a54 88px,#330a58 89px,#440b68 93px,#510f6a 96px,#56116b 97px,#6a176e 101px,#791d6b 104px,#7e1e6b 105px,#922667 109px,#a22c60 112px,#a72e5e 113px,#bd3853 117px,#cb4348 120px,#cf4645 121px,#e05636 125px,#e8642a 128px,#eb6a25 129px,#f58216 133px,#f9970f 136px,#fb9e0c 137px,#f9bb24 141px,#f7cc39 144px,#f7d13f 145px,#f7dc52 149px,#f7dd53 152px,#f7dc52 153px,#f6d847 157px,#f7d13f 160px,#f7cf3c 161px,#f8c42f 165px,#f9bb24 168px,#fab821 169px,#fbad14 173px,#fca40a 176px,#fba10b 177px,#f9950f 181px,#f78b13 184px,#f68814 185px,#f47b18 189px,#f1741d 192px,#ef711f 193px,#ea6926 197px,#e7632b 200px,#e6612d 201px,#e05735 208px,#dc503b 216px,#d74c3f 224px,#d34942 232px,#d14843 240px,#d04744 248px,#cf4645 256px,#ce4546 264px,#cb4348 272px,#ca4249 273px,#c53e4d 277px,#c03a51 280px,#bf3952 281px,#b73556 285px,#b13259 288px,#ae315a 289px,#a52d5f 293px,#9d2a62 296px,#9b2964 297px,#902568 301px,#872269 304px,#852169 305px,#7b1d6b 309px,#751b6c 312px,#721a6d 313px,#6a176e 317px,#64156d 320px,#62146d 321px,#5b126c 325px,#55106b 328px,#54106b 329px,#480c69 336px,#3c0a62 344px,#330a58 352px,#2c0b50 360px,#260b4a 368px,#210b45 376px,#1d0b40 384px,#190b3c 392px,#160b39 400px,#150a35 408px,#130a32 416px,#120930 424px,#11092d 432px,#10082b 440px,#100829 448px,#0f0728 456px,#0e0727 464px,#0e0725 472px,#0e0725 480px,#0d0724 488px,#0d0724 493px)"></div><div style="left:89px;width:3px;background:linear-gradient(#04020f 0px,#04020f 8px,#05020f 16px,#050311 24px,#060313 32px,#080416 40px,#09041a 48px,#0b051e 56px,#0e0725 64px,#12092f 72px,#130931 73px,#160b38 77px,#1b0b3e 80px,#1d0b41 81px,#260b4a 85px,#2f0a54 88px,#330a58 89px,#440b68 93px,#520f6a 96px,#56116b 97px,#6a176e 101px,#7a1d6b 104px,#7f1f6a 105px,#932667 109px,#a32c60 112px,#a82f5d 113px,#be3952 117px,#cc4348 120px,#d04744 121px,#e05735 125px,#e96629 128px,#ec6b24 129px,#f58315 133px,#fa990e 136px,#fba00c 137px,#f9bd26 141px,#f7cf3c 144px,#f6d342 145px,#f7de56 149px,#f7de57 152px,#f7de56 153px,#f6d94b 157px,#f6d342 160px,#f7d13e 161px,#f8c631 165px,#f9bd27 168px,#f9ba23 169px,#fbaf16 173px,#fca60b 176px,#fca30b 177px,#f9960f 181px,#f78d12 184px,#f68913 185px,#f47d17 189px,#f1751c 192px,#f0731d 193px,#eb6a25 197px,#e8642a 200px,#e6622c 201px,#e15834 208px,#dd513a 216px,#d84d3e 224px,#d44a41 232px,#d24843 240px,#d14843 248px,#d04744 256px,#cf4645 264px,#cc4447 272px,#cb4348 273px,#c63f4c 277px,#c13b50 280px,#c03a51 281px,#b83656 285px,#b23359 288px,#af325a 289px,#a62e5e 293px,#9e2b62 296px,#9b2963 297px,#902567 301px,#882269 304px,#852169 305px,#7c1e6b 309px,#751b6c 312px,#731a6c 313px,#6a176e 317px,#65156d 320px,#63156d 321px,#5b126c 325px,#56106b 328px,#54106b 329px,#480c69 336px,#3d0a62 344px,#330a58 352px,#2c0b50 360px,#260b4a 368px,#210b45 376px,#1d0b41 384px,#190b3d 392px,#160b39 400px,#150a36 408px,#130a33 416px,#120930 424px,#11092d 432px,#10082b 440px,#100829 448px,#0f0728 456px,#0e0727 464px,#0e0726 472px,#0e0725 480px,#0d0724 488px,#0d0724 493px)"></div><div style="left:92px;width:3px;background:linear-gradient(#04020f 0px,#04020f 8px,#05020f 16px,#050311 24px,#060313 32px,#080416 40px,#09041a 48px,#0b051e 56px,#0e0725 64px,#12092f 72px,#130931 73px,#160b38 77px,#1b0b3e 80px,#1d0b41 81px,#260b4a 85px,#2f0a54 88px,#330a58 89px,#440b68 93px,#520f6a 96px,#57116b 97px,#6a176e 101px,#7a1d6b 104px,#7f1f6a 105px,#932667 109px,#a32d60 112px,#a82f5d 113px,#be3952 117px,#cc4348 120px,#d04744 121px,#e05735 125px,#e96628 128px,#ec6b24 129px,#f58315 133px,#fa990e 136px,#fba00c 137px,#f9bd26 141px,#f7cf3c 144px,#f6d442 145px,#f7de57 149px,#f7df58 152px,#f7de57 153px,#f6d94c 157px,#f6d342 160px,#f7d13f 161px,#f8c631 165px,#f9bd27 168px,#f9ba24 169px,#fbaf16 173px,#fca60b 176px,#fca30b 177px,#f9960f 181px,#f78d12 184px,#f68913 185px,#f47d17 189px,#f1751c 192px,#f0731d 193px,#eb6a25 197px,#e8642a 200px,#e7622c 201px,#e15834 208px,#dd513a 216px,#d84d3e 224px,#d44a41 232px,#d24942 240px,#d14843 248px,#d04744 256px,#cf4645 264px,#cc4447 272px,#cb4348 273px,#c63f4c 277px,#c13b50 280px,#c03a51 281px,#b83656 285px,#b23359 288px,#af325a 289px,#a62e5e 293px,#9e2b62 296px,#9b2963 297px,#902567 301px,#882269 304px,#862169 305px,#7c1e6b 309px,#751b6c 312px,#731a6c 313px,#6b176e 317px,#65156d 320px,#63156d 321px,#5b126c 325px,#56106b 328px,#54106b 329px,#480c69 336px,#3d0a62 344px,#330a58 352px,#2c0b50 360px,#260b4a 368px,#210b45 376px,#1d0b41 384px,#190b3d 392px,#160b39 400px,#150a36 408px,#130a33 416px,#120930 424px,#11092d 432px,#10082b 440px,#100829 448px,#0f0728 456px,#0e0727 464px,#0e0726 472px,#0e0725 480px,#0d0724 488px,#0d0724 493px)"></div><div style="left:95px;width:3px;background:linear-gradient(#04020f 0px,#04020f 8px,#05020f 16px,#050311 24px,#060313 32px,#080416 40px,#09041a 48px,#0b051e 56px,#0e0725 64px,#12092f 72px,#120931 73px,#160b38 77px,#1b0b3e 80px,#1d0b41 81px,#260b4a 85px,#2f0a54 88px,#330a58 89px,#440b68 93px,#520f6a 96px,#56116b 97px,#6a176e 101px,#7a1d6b 104px,#7f1f6a 105px,#932667 109px,#a32c60 112px,#a82f5d 113px,#be3853 117px,#cb4348 120px,#d04744 121px,#e05635 125px,#e96529 128px,#eb6b24 129px,#f58315 133px,#f9980e 136px,#fba00c 137px,#f9bc26 141px,#f7ce3c 144px,#f6d341 145px,#f7de56 149px,#f7de57 152px,#f7de56 153px,#f6d94b 157px,#f6d341 160px,#f7d03e 161px,#f8c531 165px,#f9bd26 168px,#f9ba23 169px,#fbaf16 173px,#fca60b 176px,#fca30b 177px,#f9960f 181px,#f78c12 184px,#f68913 185px,#f47d17 189px,#f1751c 192px,#f0731e 193px,#eb6a25 197px,#e7642a 200px,#e6622c 201px,#e15834 208px,#dd513a 216px,#d84d3e 224px,#d44a41 232px,#d24843 240px,#d14843 248px,#d04744 256px,#cf4645 264px,#cc4348 272px,#cb4348 273px,#c63f4c 277px,#c13b50 280px,#bf3a51 281px,#b83556 285px,#b13359 288px,#af325a 289px,#a52e5e 293px,#9e2a62 296px,#9b2963 297px,#902567 301px,#882269 304px,#852169 305px,#7c1d6b 309px,#751b6c 312px,#731a6c 313px,#6a176e 317px,#64156d 320px,#63156d 321px,#5b126c 325px,#56106b 328px,#54106b 329px,#480c69 336px,#3d0a62 344px,#330a58 352px,#2c0b50 360px,#260b4a 368px,#210b45 376px,#1d0b41 384px,#190b3d 392px,#160b39 400px,#150a35 408px,#130a32 416px,#120930 424px,#11092d 432px,#10082b 440px,#100829 448px,#0f0728 456px,#0e0727 464px,#0e0725 472px,#0e0725 480px,#0d0724 488px,#0d0724 493px)"></div><div style="left:98px;width:3px;background:linear-gradient(#04020f 0px,#04020f 8px,#05020f 16px,#050311 24px,#060313 32px,#080416 40px,#09041a 48px,#0b051e 56px,#0e0725 64px,#12092f 72px,#120930 73px,#160b38 77px,#1b0b3e 80px,#1d0b40 81px,#260b4a 85px,#2f0a54 88px,#330a58 89px,#440b68 93px,#510f6a 96px,#56116b 97px,#6a176e 101px,#791d6b 104px,#7e1e6b 105px,#922667 109px,#a22c60 112px,#a82f5d 113px,#be3853 117px,#cb4348 120px,#d04645 121px,#e05636 125px,#e86529 128px,#eb6a25 129px,#f58216 133px,#f9980e 136px,#fb9f0c 137px,#f9bb25 141px,#f7cd3a 144px,#f7d240 145px,#f7dd54 149px,#f7dd55 152px,#f7dd54 153px,#f6d849 157px,#f7d240 160px,#f7d03d 161px,#f8c430 165px,#f9bc25 168px,#fab922 169px,#fbae15 173px,#fca50a 176px,#fba20b 177px,#f9950f 181px,#f78c12 184px,#f68814 185px,#f47c18 189px,#f1741c 192px,#f0721e 193px,#eb6925 197px,#e7632b 200px,#e6612c 201px,#e15735 208px,#dc503b 216px,#d74c3f 224px,#d44a41 232px,#d24843 240px,#d14744 248px,#d04744 256px,#ce4546 264px,#cb4348 272px,#cb4348 273px,#c53e4d 277px,#c13b50 280px,#bf3952 281px,#b83556 285px,#b13259 288px,#af315a 289px,#a52d5f 293px,#9d2a62 296px,#9b2963 297px,#902568 301px,#882269 304px,#852169 305px,#7b1d6b 309px,#751b6c 312px,#731a6d 313px,#6a176e 317px,#64156d 320px,#62156d 321px,#5b126c 325px,#55106b 328px,#54106b 329px,#480c69 336px,#3c0a62 344px,#330a58 352px,#2c0b50 360px,#260b4a 368px,#210b45 376px,#1d0b40 384px,#190b3c 392px,#160b39 400px,#150a35 408px,#130a32 416px,#120930 424px,#11092d 432px,#10082b 440px,#100829 448px,#0f0728 456px,#0e0727 464px,#0e0725 472px,#0d0725 480px,#0d0724 488px,#0d0724 493px)"></div><div style="left:101px;width:3px;background:linear-gradient(#04020f 0px,#04020f 8px,#05020f 16px,#050311 24px,#060313 32px,#080416 40px,#09041a 48px,#0b051e 56px,#0e0725 64px,#12092f 72px,#120930 73px,#160b38 77px,#1b0b3e 80px,#1d0b40 81px,#260b4a 85px,#2f0a54 88px,#320a57 89px,#440b68 93px,#510f6a 96px,#56106b 97px,#6a176e 101px,#791c6b 104px,#7e1e6b 105px,#922667 109px,#a22c60 112px,#a72e5e 113px,#bd3853 117px,#cb4249 120px,#cf4645 121px,#df5536 125px,#e8642a 128px,#eb6925 129px,#f58216 133px,#f9970f 136px,#fb9e0c 137px,#f9ba24 141px,#f7cc39 144px,#f7d13f 145px,#f7dc52 149px,#f7dc53 152px,#f7dc51 153px,#f6d747 157px,#f7d13f 160px,#f7ce3c 161px,#f8c32e 165px,#f9bb24 168px,#fab821 169px,#fbad14 173px,#fca40a 176px,#fba10b 177px,#f99410 181px,#f78b13 184px,#f68814 185px,#f47b18 189px,#f0731d 192px,#ef711f 193px,#ea6926 197px,#e7622b 200px,#e6602d 201px,#e05735 208px,#dc503b 216px,#d74c3f 224px,#d34942 232px,#d14843 240px,#d04744 248px,#cf4645 256px,#ce4546 264px,#cb4348 272px,#ca4249 273px,#c53e4d 277px,#c03a51 280px,#bf3952 281px,#b73556 285px,#b13259 288px,#ae315a 289px,#a52d5f 293px,#9d2a62 296px,#9a2964 297px,#8f2568 301px,#872269 304px,#852169 305px,#7b1d6b 309px,#741b6c 312px,#721a6d 313px,#6a176e 317px,#64156d 320px,#62146d 321px,#5b126c 325px,#55106b 328px,#53106b 329px,#480c69 336px,#3c0a62 344px,#320a57 352px,#2c0b50 360px,#260b4a 368px,#210b45 376px,#1d0b40 384px,#190b3c 392px,#160b39 400px,#140a35 408px,#130a32 416px,#120930 424px,#11092d 432px,#10082b 440px,#0f0829 448px,#0f0728 456px,#0e0727 464px,#0e0725 472px,#0d0724 480px,#0d0724 493px)"></div><div style="left:104px;width:3px;background:linear-gradient(#04020f 0px,#04020f 8px,#05020f 16px,#050311 24px,#060313 32px,#080416 40px,#090419 48px,#0b051e 56px,#0e0725 64px,#12092f 72px,#120930 73px,#160b38 77px,#1b0b3e 80px,#1d0b40 81px,#260b4a 85px,#2f0a53 88px,#320a57 89px,#430a68 93px,#510f6a 96px,#56106b 97px,#69176e 101px,#791c6c 104px,#7d1e6b 105px,#912567 109px,#a12c60 112px,#a72e5e 113px,#bd3754 117px,#ca4249 120px,#ce4645 121px,#df5537 125px,#e7632a 128px,#ea6926 129px,#f58116 133px,#f9960f 136px,#fa9d0d 137px,#fab922 141px,#f7cb37 144px,#f7d03d 145px,#f7db4f 149px,#f7db50 152px,#f7db4f 153px,#f6d645 157px,#f7cf3d 160px,#f7cd3a 161px,#f9c22d 165px,#fab922 168px,#fab71f 169px,#fbac12 173px,#fca30b 176px,#fba00c 177px,#f89310 181px,#f78a13 184px,#f68614 185px,#f37a18 189px,#f0731e 192px,#ef701f 193px,#ea6827 197px,#e6622c 200px,#e5602e 201px,#e05636 208px,#db4f3c 216px,#d64c3f 224px,#d34942 232px,#d14744 240px,#d04645 248px,#cf4645 256px,#cd4546 264px,#ca4249 272px,#ca4249 273px,#c43e4d 277px,#c03a51 280px,#be3952 281px,#b73556 285px,#b0325a 288px,#ae315b 289px,#a42d5f 293px,#9c2a63 296px,#9a2964 297px,#8f2468 301px,#872269 304px,#84216a 305px,#7b1d6b 309px,#741b6c 312px,#721a6d 313px,#69176e 317px,#64156d 320px,#62146d 321px,#5a126c 325px,#55106b 328px,#53106b 329px,#480c69 336px,#3c0a62 344px,#320a57 352px,#2b0b50 360px,#260b4a 368px,#210b45 376px,#1d0b40 384px,#190b3c 392px,#160b39 400px,#140a35 408px,#130a32 416px,#120930 424px,#11092d 432px,#10082b 440px,#0f0829 448px,#0f0728 456px,#0e0726 464px,#0e0725 472px,#0d0724 480px,#0d0724 493px)"></div><div style="left:107px;width:3px;background:linear-gradient(#04020f 0px,#04020f 8px,#05020f 16px,#050311 24px,#060313 32px,#080416 40px,#090419 48px,#0b051e 56px,#0e0725 64px,#12092f 72px,#120930 73px,#150b38 77px,#1a0b3e 80px,#1d0b40 81px,#260b4a 85px,#2e0a53 88px,#320a57 89px,#430a68 93px,#510f6a 96px,#55106b 97px,#69176e 101px,#781c6c 104px,#7d1e6b 105px,#912567 109px,#a02c61 112px,#a62e5e 113px,#bc3754 117px,#c9414a 120px,#ce4546 121px,#de5438 125px,#e7622b 128px,#ea6827 129px,#f47f17 133px,#f99410 136px,#fa9b0d 137px,#fab720 141px,#f8c935 144px,#f7ce3b 145px,#f6d94c 149px,#f6da4d 152px,#f6d94b 153px,#f6d443 157px,#f7ce3b 160px,#f7cb38 161px,#f9c02b 165px,#fab820 168px,#fab51d 169px,#fbaa10 173px,#fba10b 176px,#fb9e0c 177px,#f89210 181px,#f68814 184px,#f68515 185px,#f37919 189px,#ef721e 192px,#ee6f20 193px,#e96728 197px,#e6612d 200px,#e55f2e 201px,#df5537 208px,#da4f3c 216px,#d54b40 224px,#d24843 232px,#d04744 240px,#cf4645 248px,#ce4546 256px,#cd4447 264px,#ca4249 272px,#c9414a 273px,#c43d4e 277px,#bf3952 280px,#bd3853 281px,#b63457 285px,#af325a 288px,#ad315b 289px,#a32d5f 293px,#9c2a63 296px,#992964 297px,#8e2468 301px,#862169 304px,#84206a 305px,#7a1d6b 309px,#731a6c 312px,#711a6d 313px,#69176e 317px,#63156d 320px,#61146d 321px,#5a126c 325px,#54106b 328px,#530f6b 329px,#470c69 336px,#3c0a61 344px,#320a57 352px,#2b0b50 360px,#250b49 368px,#210b44 376px,#1d0b40 384px,#190b3c 392px,#160b38 400px,#140a35 408px,#130a32 416px,#12092f 424px,#11092d 432px,#10082b 440px,#0f0829 448px,#0f0728 456px,#0e0726 464px,#0e0725 472px,#0d0724 480px,#0d0724 493px)"></div><div style="left:110px;width:3px;background:linear-gradient(#04020f 0px,#04020f 8px,#05020f 16px,#050311 24px,#060313 32px,#080416 40px,#090419 48px,#0b051e 56px,#0d0724 64px,#12092e 72px,#120930 73px,#150b37 77px,#1a0b3d 80px,#1c0b40 81px,#250b49 85px,#2e0a53 88px,#320a56 89px,#420a68 93px,#500f6a 96px,#55106b 97px,#68166e 101px,#771c6c 104px,#7c1e6b 105px,#902568 109px,#9f2b61 112px,#a52d5f 113px,#ba3655 117px,#c8404b 120px,#cc4447 121px,#de5239 125px,#e6612d 128px,#e96628 129px,#f47d17 133px,#f89210 136px,#fa990e 137px,#fab41c 141px,#f8c632 144px,#f7cb37 145px,#f6d746 149px,#f6d747 152px,#f6d746 153px,#f7d13f 157px,#f7cb37 160px,#f8c834 161px,#f9bd27 165px,#fab51d 168px,#fab219 169px,#fca70d 173px,#fb9f0c 176px,#fa9c0d 177px,#f89011 181px,#f68614 184px,#f58315 185px,#f2771a 189px,#ee7020 192px,#ed6d22 193px,#e86529 197px,#e55f2e 200px,#e45d30 201px,#de5338 208px,#d94e3d 216px,#d44a41 224px,#d14744 232px,#cf4645 240px,#ce4546 248px,#cd4447 256px,#cb4348 264px,#c8414a 272px,#c8404b 273px,#c33c4f 277px,#be3853 280px,#bc3754 281px,#b53457 285px,#ae315b 288px,#ac305c 289px,#a22c60 293px,#9b2963 296px,#982865 297px,#8d2468 301px,#852169 304px,#83206a 305px,#791d6b 309px,#731a6d 312px,#70196d 313px,#68166e 317px,#62156d 320px,#61146d 321px,#59126b 325px,#54106b 328px,#520f6a 329px,#470c69 336px,#3b0a61 344px,#320a56 352px,#2b0b4f 360px,#250b49 368px,#200b44 376px,#1c0b40 384px,#190b3c 392px,#160b38 400px,#140a35 408px,#130932 416px,#12092f 424px,#11082d 432px,#10082b 440px,#0f0829 448px,#0f0727 456px,#0e0726 464px,#0e0725 472px,#0d0724 480px,#0d0724 493px)"></div><div style="left:113px;width:3px;background:linear-gradient(#04020f 0px,#04020f 8px,#05020f 16px,#050311 24px,#060313 32px,#070416 40px,#090419 48px,#0b051d 56px,#0d0724 64px,#11092e 72px,#120930 73px,#150b37 77px,#1a0b3d 80px,#1c0b3f 81px,#250b49 85px,#2d0a52 88px,#310a56 89px,#420a68 93px,#4f0e6a 96px,#54106b 97px,#67166e 101px,#761b6c 104px,#7b1d6b 105px,#8e2468 109px,#9e2a62 112px,#a32d60 113px,#b83656 117px,#c63f4c 120px,#cb4348 121px,#dc503b 125px,#e45e2f 128px,#e7632b 129px,#f37a18 133px,#f88f11 136px,#f9950f 137px,#fbb017 141px,#f9c22c 144px,#f8c632 145px,#f7d240 149px,#f6d341 152px,#f7d240 153px,#f7cd3a 157px,#f8c632 160px,#f8c42f 161px,#fab922 165px,#fbb118 168px,#fbae15 169px,#fca30b 173px,#fa9b0d 176px,#f9980e 177px,#f78c12 181px,#f58315 184px,#f58016 185px,#f1741c 189px,#ed6d22 192px,#ec6b24 193px,#e7622b 197px,#e35c30 200px,#e25a32 201px,#dd513a 208px,#d74c3f 216px,#d24843 224px,#cf4645 232px,#cd4447 240px,#cc4348 248px,#cb4348 256px,#ca4249 264px,#c73f4c 272px,#c63f4c 273px,#c13b50 277px,#bc3754 280px,#ba3655 281px,#b33358 285px,#ac305b 288px,#aa2f5c 289px,#a02c61 293px,#992864 296px,#962765 297px,#8c2368 301px,#84206a 304px,#811f6a 305px,#781c6c 309px,#711a6d 312px,#6f196d 313px,#67166e 317px,#61146d 320px,#5f146c 321px,#58116b 325px,#53106b 328px,#510f6a 329px,#460b69 336px,#3a0a60 344px,#310a56 352px,#2a0b4e 360px,#250b49 368px,#200b44 376px,#1c0b3f 384px,#180b3b 392px,#150b38 400px,#140a34 408px,#130931 416px,#12092f 424px,#11082c 432px,#10082a 440px,#0f0829 448px,#0f0727 456px,#0e0726 464px,#0e0725 472px,#0d0724 480px,#0d0723 488px,#0d0723 493px)"></div><div style="left:116px;width:3px;background:linear-gradient(#04020f 0px,#04020f 8px,#05020f 16px,#050311 24px,#060313 32px,#070416 40px,#090419 48px,#0a051d 56px,#0d0724 64px,#11092e 72px,#12092f 73px,#150a36 77px,#190b3d 80px,#1b0b3f 81px,#240b48 85px,#2d0a51 88px,#300a55 89px,#410a67 93px,#4e0e6a 96px,#530f6a 97px,#66166d 101px,#741b6c 104px,#791d6b 105px,#8c2468 109px,#9c2a63 112px,#a12c61 113px,#b63557 117px,#c43e4d 120px,#c9414a 121px,#da4e3d 125px,#e35b31 128px,#e6602d 129px,#f2761a 133px,#f78b13 136px,#f89111 137px,#fbab12 141px,#f9bd26 144px,#f9c12c 145px,#f7cd3a 149px,#f7ce3b 152px,#f7cd3a 153px,#f8c833 157px,#f9c12c 160px,#f9bf29 161px,#fab41c 165px,#fbac12 168px,#fca90f 169px,#fb9f0c 173px,#f9970f 176px,#f99410 177px,#f68814 181px,#f47f17 184px,#f47c18 185px,#ef711f 189px,#eb6a25 192px,#ea6827 193px,#e5602e 197px,#e25a33 200px,#e15834 201px,#db4f3c 208px,#d54a41 216px,#d04744 224px,#cd4447 232px,#cb4348 240px,#ca4249 248px,#c9414a 256px,#c7404b 264px,#c53e4d 272px,#c43d4e 273px,#bf3952 277px,#ba3655 280px,#b83556 281px,#b03259 285px,#aa2f5c 288px,#a82f5d 289px,#9e2b62 293px,#972865 296px,#942766 297px,#8a2369 301px,#82206a 304px,#801f6a 305px,#761c6c 309px,#70196d 312px,#6e186d 313px,#66166d 317px,#60146d 320px,#5e136c 321px,#57116b 325px,#520f6a 328px,#500f6a 329px,#450b68 336px,#3a0a5f 344px,#300a55 352px,#290b4e 360px,#240b48 368px,#1f0b43 376px,#1b0b3f 384px,#180b3b 392px,#150b37 400px,#140a34 408px,#130931 416px,#12092e 424px,#11082c 432px,#10082a 440px,#0f0828 448px,#0e0727 456px,#0e0726 464px,#0e0725 472px,#0d0724 480px,#0d0623 488px,#0d0623 493px)"></div><div style="left:119px;width:3px;background:linear-gradient(#04020f 0px,#04020f 8px,#05020f 16px,#050311 24px,#060313 32px,#070416 40px,#090419 48px,#0a051d 56px,#0d0724 64px,#11092d 72px,#12092f 73px,#150a36 77px,#190b3c 80px,#1b0b3e 81px,#230b47 85px,#2c0b50 88px,#2f0a54 89px,#400a66 93px,#4d0e6a 96px,#510f6a 97px,#64156d 101px,#731a6d 104px,#771c6c 105px,#8a2368 109px,#992964 112px,#9f2b62 113px,#b43458 117px,#c23c4f 120px,#c63f4c 121px,#d74c3f 125px,#e15834 128px,#e45d30 129px,#f0731d 133px,#f68714 136px,#f78d12 137px,#fca60c 141px,#fab720 144px,#f9bc26 145px,#f8c834 149px,#f8c834 152px,#f8c833 153px,#f9c22d 157px,#f9bc25 160px,#fab923 161px,#fbaf16 165px,#fca70c 168px,#fca40a 169px,#fa9b0d 173px,#f89310 176px,#f89011 177px,#f58415 181px,#f47b18 184px,#f37819 185px,#ed6e22 189px,#e96728 192px,#e86529 193px,#e35d30 197px,#e05735 200px,#df5537 201px,#d84d3e 208px,#d24942 216px,#ce4546 224px,#ca4249 232px,#c9414a 240px,#c8404b 248px,#c73f4c 256px,#c53e4d 264px,#c33c4f 272px,#c23c4f 273px,#bd3853 277px,#b83556 280px,#b63457 281px,#ae315a 285px,#a82f5d 288px,#a52e5e 289px,#9c2a63 293px,#952766 296px,#922667 297px,#882269 301px,#801f6a 304px,#7e1e6b 305px,#751b6c 309px,#6e196d 312px,#6c186e 313px,#64156d 317px,#5f136c 320px,#5d136c 321px,#56106b 325px,#510f6a 328px,#4f0e6a 329px,#440b68 336px,#390a5e 344px,#2f0a54 352px,#290b4d 360px,#230b47 368px,#1f0b42 376px,#1b0b3e 384px,#170b3a 392px,#150b37 400px,#140a33 408px,#120931 416px,#11092e 424px,#10082c 432px,#10082a 440px,#0f0728 448px,#0e0727 456px,#0e0725 464px,#0d0724 472px,#0d0723 480px,#0d0623 488px,#0d0623 493px)"></div><div style="left:122px;width:3px;background:linear-gradient(#04020f 0px,#04020f 8px,#05020f 16px,#050311 24px,#060313 32px,#070416 40px,#090419 48px,#0a051d 56px,#0d0723 64px,#11082d 72px,#12092e 73px,#150a35 77px,#180b3c 80px,#1a0b3e 81px,#230b47 85px,#2b0b50 88px,#2f0a53 89px,#3f0a65 93px,#4c0d69 96px,#500f6a 97px,#63156d 101px,#711a6d 104px,#761b6c 105px,#892269 109px,#972865 112px,#9d2a63 113px,#b13359 117px,#c03a51 120px,#c43e4d 121px,#d54b40 125px,#e05536 128px,#e25a32 129px,#ee7020 133px,#f58315 136px,#f68913 137px,#fba20b 141px,#fab21a 144px,#fab720 145px,#f8c22d 149px,#f8c32e 152px,#f8c22d 153px,#f9bd27 157px,#fab71f 160px,#fab41c 161px,#fbaa10 165px,#fba20b 168px,#fba00c 169px,#f9970f 173px,#f88f11 176px,#f78c12 177px,#f58016 181px,#f3771a 184px,#f1751c 185px,#eb6b24 189px,#e8642a 192px,#e6622c 193px,#e25a33 197px,#df5438 200px,#dd5239 201px,#d64b40 208px,#d04744 216px,#cc4348 224px,#c8414a 232px,#c63f4c 240px,#c53e4d 248px,#c53e4d 256px,#c33d4e 264px,#c13b50 272px,#c03a51 273px,#bb3655 277px,#b53457 280px,#b33358 281px,#ac305c 285px,#a52e5e 288px,#a32d5f 289px,#9a2964 293px,#932667 296px,#912567 297px,#862169 301px,#7f1f6a 304px,#7c1e6b 305px,#731a6c 309px,#6d186e 312px,#6b176e 313px,#63156d 317px,#5e136c 320px,#5c126c 321px,#55106b 325px,#500e6a 328px,#4e0e6a 329px,#430a68 336px,#380a5d 344px,#2f0a53 352px,#280b4c 360px,#230b47 368px,#1e0b42 376px,#1a0b3e 384px,#170b3a 392px,#150a36 400px,#130a33 408px,#120930 416px,#11092e 424px,#10082b 432px,#100829 440px,#0f0728 448px,#0e0726 456px,#0e0725 464px,#0d0724 472px,#0d0623 480px,#0d0623 493px)"></div><div style="left:125px;width:3px;background:linear-gradient(#04020f 0px,#04020f 8px,#05020f 16px,#050311 24px,#060313 32px,#070416 40px,#090419 48px,#0a051d 56px,#0d0623 64px,#11082c 72px,#11092e 73px,#140a35 77px,#180b3b 80px,#1a0b3d 81px,#220b46 85px,#2b0b4f 88px,#2e0a53 89px,#3e0a64 93px,#4b0d69 96px,#4f0e6a 97px,#62146d 101px,#70196d 104px,#741b6c 105px,#872269 109px,#962766 112px,#9b2963 113px,#af325a 117px,#be3952 120px,#c33c4f 121px,#d34942 125px,#de5338 128px,#e15834 129px,#ed6d22 133px,#f47f17 136px,#f68614 137px,#fb9e0c 141px,#fbae15 144px,#fab21a 145px,#f9be28 149px,#f9be28 153px,#fab821 157px,#fab21a 160px,#fbb017 161px,#fca60b 165px,#fb9e0c 168px,#fa9c0d 169px,#f89310 173px,#f78b13 176px,#f68814 177px,#f47d17 181px,#f1741c 184px,#ef721e 185px,#ea6827 189px,#e6612c 192px,#e55f2e 193px,#e05735 197px,#dd513a 200px,#dc503b 201px,#d44a41 208px,#ce4546 216px,#ca4249 224px,#c63f4c 232px,#c53e4d 240px,#c43d4e 248px,#c33c4f 256px,#c13b50 264px,#bf3952 272px,#be3952 273px,#b93656 277px,#b33358 280px,#b13359 281px,#aa2f5c 285px,#a32d5f 288px,#a12c60 289px,#982865 293px,#912567 296px,#8f2468 297px,#852169 301px,#7d1e6b 304px,#7b1d6b 305px,#721a6d 309px,#6c186e 312px,#6a176e 313px,#62146d 317px,#5c136c 320px,#5b126c 321px,#54106b 325px,#4f0e6a 328px,#4d0e6a 329px,#420a68 336px,#370a5c 344px,#2e0a53 352px,#280b4c 360px,#220b46 368px,#1e0b41 376px,#1a0b3d 384px,#160b39 392px,#150a36 400px,#130a33 408px,#120930 416px,#11092d 424px,#10082b 432px,#0f0829 440px,#0f0727 448px,#0e0726 456px,#0e0725 464px,#0d0724 472px,#0d0623 480px,#0d0622 488px,#0d0622 493px)"></div><div style="left:128px;width:3px;background:linear-gradient(#04020f 0px,#04020f 8px,#05020f 16px,#050311 24px,#060313 32px,#070416 40px,#090419 48px,#0a051d 56px,#0d0623 64px,#11082c 72px,#11092e 73px,#140a35 77px,#180b3b 80px,#190b3d 81px,#220b46 85px,#2a0b4e 88px,#2d0a52 89px,#3d0a63 93px,#4a0d69 96px,#4f0e6a 97px,#61146d 101px,#6f196d 104px,#731a6c 105px,#862169 109px,#942666 112px,#992964 113px,#ae315b 117px,#bd3853 120px,#c13b50 121px,#d14843 125px,#dd513a 128px,#e05536 129px,#eb6b24 133px,#f47c18 136px,#f58315 137px,#fa9b0d 141px,#fbaa10 144px,#fbaf16 145px,#faba23 149px,#f9ba24 152px,#faba23 153px,#fab41d 157px,#fbae15 160px,#fbac13 161px,#fba20b 165px,#fa9b0d 168px,#fa990e 169px,#f89011 173px,#f68814 176px,#f68515 177px,#f37a18 181px,#f0721e 184px,#ee6f20 185px,#e96529 189px,#e55f2e 192px,#e45d30 193px,#df5537 197px,#db503b 200px,#da4e3d 201px,#d24942 208px,#cd4447 216px,#c8404b 224px,#c53e4d 232px,#c33c4f 240px,#c23c4f 248px,#c13b50 256px,#c03a51 264px,#bd3853 272px,#bc3754 273px,#b73556 277px,#b13359 280px,#af325a 281px,#a82f5d 285px,#a22c60 288px,#a02b61 289px,#972865 293px,#902568 296px,#8d2468 297px,#83206a 301px,#7c1e6b 304px,#791d6b 305px,#71196d 309px,#6a176e 312px,#68176e 313px,#61146d 317px,#5c126c 320px,#5a126c 321px,#53106b 325px,#4e0e6a 328px,#4c0d6a 329px,#420a68 336px,#360a5c 344px,#2d0a52 352px,#270b4b 360px,#220b46 368px,#1d0b41 376px,#190b3d 384px,#160b39 392px,#150a35 400px,#130a32 408px,#12092f 416px,#11092d 424px,#10082b 432px,#0f0829 440px,#0f0727 448px,#0e0726 456px,#0e0725 464px,#0d0724 472px,#0d0623 480px,#0d0622 488px,#0d0622 493px)"></div><div style="left:131px;width:3px;background:linear-gradient(#04020f 0px,#04020f 8px,#05020f 16px,#050311 24px,#060313 32px,#070416 40px,#090419 48px,#0a051c 56px,#0d0623 64px,#11082c 72px,#11092d 73px,#140a34 77px,#170b3a 80px,#190b3c 81px,#210b45 85px,#2a0b4e 88px,#2d0a51 89px,#3d0a62 93px,#490c69 96px,#4e0e6a 97px,#60146c 101px,#6e186d 104px,#721a6d 105px,#84216a 109px,#932667 112px,#982865 113px,#ac305b 117px,#bb3754 120px,#bf3a51 121px,#d04645 125px,#db4f3c 128px,#de5338 129px,#ea6826 133px,#f37919 136px,#f58016 137px,#f9980e 141px,#fca60c 144px,#fbab11 145px,#fab61e 149px,#fab71f 152px,#fab61e 153px,#fbb118 157px,#fbab11 160px,#fca80e 161px,#fb9f0c 165px,#f9980e 168px,#f9960f 169px,#f78d12 173px,#f68515 176px,#f58216 177px,#f3771a 181px,#ee7020 184px,#ed6d22 185px,#e7632b 189px,#e45d30 192px,#e25b32 193px,#de5339 197px,#da4e3d 200px,#d84d3e 201px,#d14744 208px,#cb4348 216px,#c63f4c 224px,#c33d4e 232px,#c13b50 240px,#c03b50 248px,#c03a51 256px,#be3952 264px,#bc3754 272px,#bb3655 273px,#b53457 277px,#b0325a 280px,#ae315b 281px,#a62e5e 285px,#a02c61 288px,#9e2b62 289px,#952766 293px,#8e2468 296px,#8c2368 297px,#82206a 301px,#7b1d6b 304px,#781c6c 305px,#70196d 309px,#69176e 312px,#67166e 313px,#60146c 317px,#5b126c 320px,#59116b 321px,#520f6a 325px,#4d0e6a 328px,#4c0d69 329px,#410a67 336px,#360a5b 344px,#2d0a51 352px,#270b4b 360px,#210b45 368px,#1d0b40 376px,#190b3c 384px,#160b39 392px,#140a35 400px,#130a32 408px,#12092f 416px,#11082d 424px,#10082b 432px,#0f0829 440px,#0f0727 448px,#0e0726 456px,#0d0724 464px,#0d0723 472px,#0d0623 480px,#0c0622 488px,#0c0622 493px)"></div><div style="left:134px;width:3px;background:linear-gradient(#04020f 0px,#04020f 8px,#05020f 16px,#050311 24px,#060313 32px,#070415 40px,#080418 48px,#0a051c 56px,#0d0623 64px,#10082c 72px,#11092d 73px,#140a34 77px,#170b3a 80px,#190b3c 81px,#210b45 85px,#290b4d 88px,#2c0a51 89px,#3c0a62 93px,#490c69 96px,#4d0e6a 97px,#5f136c 101px,#6c186e 104px,#711a6d 105px,#83206a 109px,#912567 112px,#962766 113px,#aa305c 117px,#b93655 120px,#be3952 121px,#ce4546 125px,#d94e3d 128px,#dd513a 129px,#e96628 133px,#f2771a 136px,#f47d17 137px,#f9950f 141px,#fca30b 144px,#fca70d 145px,#fab21a 149px,#fab31b 152px,#fab21a 153px,#fbad14 157px,#fca70d 160px,#fca50a 161px,#fa9c0d 165px,#f9950f 168px,#f89310 169px,#f78a13 173px,#f58216 176px,#f58016 177px,#f1751c 181px,#ed6d22 184px,#eb6b24 185px,#e6612c 189px,#e25a32 192px,#e15834 193px,#dd513a 197px,#d84d3e 200px,#d64c3f 201px,#cf4645 208px,#c94249 216px,#c53e4d 224px,#c23c4f 232px,#c03a51 240px,#bf3952 248px,#be3952 256px,#bd3853 264px,#ba3655 272px,#b93655 273px,#b33358 277px,#ae315b 280px,#ac305b 281px,#a52d5f 285px,#9f2b62 288px,#9d2a63 289px,#942667 293px,#8d2468 296px,#8b2368 297px,#811f6a 301px,#791d6b 304px,#771c6c 305px,#6e196d 309px,#68166e 312px,#66166d 313px,#5f136c 317px,#5a126c 320px,#58116b 321px,#510f6a 325px,#4c0d6a 328px,#4b0d69 329px,#400a66 336px,#350a5a 344px,#2c0a51 352px,#260b4a 360px,#210b45 368px,#1d0b40 376px,#190b3c 384px,#160b38 392px,#140a35 400px,#130932 408px,#12092f 416px,#11082c 424px,#10082a 432px,#0f0828 440px,#0e0727 448px,#0e0725 456px,#0d0724 464px,#0d0623 472px,#0d0622 480px,#0c0622 488px,#0c0622 493px)"></div><div style="left:137px;width:3px;background:linear-gradient(#04020f 0px,#04020f 8px,#05020f 16px,#050311 24px,#060313 32px,#070415 40px,#080418 48px,#0a051c 56px,#0d0622 64px,#10082b 72px,#11082d 73px,#140a34 77px,#170b3a 80px,#180b3c 81px,#210b44 85px,#290b4d 88px,#2c0b50 89px,#3b0a61 93px,#480c69 96px,#4c0d6a 97px,#5e136c 101px,#6b186e 104px,#70196d 105px,#82206a 109px,#902568 112px,#952766 113px,#a92f5d 117px,#b83556 120px,#bd3754 121px,#cc4447 125px,#d84d3e 128px,#dc503b 129px,#e8642a 133px,#f1741c 136px,#f37a18 137px,#f89210 141px,#fba00c 144px,#fca40a 145px,#fbaf16 149px,#fbaf16 153px,#fbaa0f 157px,#fca40a 160px,#fba20b 161px,#fa990e 165px,#f89210 168px,#f89011 169px,#f68714 173px,#f47f17 176px,#f47d17 177px,#f0721e 181px,#ec6b24 184px,#ea6826 185px,#e55f2e 189px,#e15834 192px,#e05635 193px,#db4f3c 197px,#d64c3f 200px,#d54a41 201px,#cd4546 208px,#c8404b 216px,#c33d4e 224px,#c03a51 232px,#be3952 240px,#be3853 248px,#bd3853 256px,#bb3754 264px,#b83556 272px,#b73556 273px,#b23359 277px,#ac305b 280px,#aa305c 281px,#a32d5f 285px,#9d2a62 288px,#9b2963 289px,#932667 293px,#8c2368 296px,#892269 297px,#801f6a 301px,#781c6c 304px,#761b6c 305px,#6d186d 309px,#67166e 312px,#66166d 313px,#5e136c 317px,#59116b 320px,#57116b 321px,#510f6a 325px,#4c0d69 328px,#4a0d69 329px,#400a65 336px,#350a5a 344px,#2c0b50 352px,#260b4a 360px,#200b44 368px,#1c0b40 376px,#180b3c 384px,#160b38 392px,#140a34 400px,#130931 408px,#12092f 416px,#11082c 424px,#10082a 432px,#0f0728 440px,#0e0727 448px,#0e0725 456px,#0d0724 464px,#0d0623 472px,#0d0622 480px,#0c0622 488px,#0c0622 493px)"></div><div style="left:140px;width:3px;background:linear-gradient(#04020f 0px,#04020f 8px,#05020f 16px,#050311 24px,#060313 32px,#070415 40px,#080418 48px,#0a051c 56px,#0d0622 64px,#10082b 72px,#11082d 73px,#140a33 77px,#160b39 80px,#180b3b 81px,#200b44 85px,#280b4c 88px,#2b0b50 89px,#3b0a60 93px,#470c69 96px,#4c0d69 97px,#5d136c 101px,#6a176e 104px,#6f196d 105px,#811f6a 109px,#8f2468 112px,#932667 113px,#a72e5e 117px,#b63557 120px,#bb3754 121px,#cb4348 125px,#d64b40 128px,#da4f3c 129px,#e6622c 133px,#f0721e 136px,#f37719 137px,#f88f11 141px,#fa9d0d 144px,#fba10b 145px,#fbab12 149px,#fbac12 152px,#fbab11 153px,#fca60b 157px,#fba10b 160px,#fb9f0c 161px,#f9960f 165px,#f88f11 168px,#f78d12 169px,#f58415 173px,#f47d17 176px,#f37a18 177px,#ef7020 181px,#ea6926 184px,#e96628 185px,#e45d30 189px,#e05636 192px,#df5437 193px,#d94e3d 197px,#d54a41 200px,#d34942 201px,#cc4348 208px,#c63f4c 216px,#c23c4f 224px,#bf3952 232px,#bd3853 240px,#bc3754 248px,#bb3754 256px,#ba3655 264px,#b73557 272px,#b63457 273px,#b0325a 277px,#ab305c 280px,#a92f5d 281px,#a22c60 285px,#9c2a63 288px,#9a2964 289px,#912567 293px,#8a2368 296px,#882269 297px,#7e1e6b 301px,#771c6c 304px,#751b6c 305px,#6c186e 309px,#66166d 312px,#65156d 313px,#5d136c 317px,#58116b 320px,#56116b 321px,#500e6a 325px,#4b0d69 328px,#490c69 329px,#3f0a65 336px,#340a59 344px,#2b0b50 352px,#250b49 360px,#200b44 368px,#1c0b3f 376px,#180b3b 384px,#150b38 392px,#140a34 400px,#130931 408px,#12092e 416px,#11082c 424px,#10082a 432px,#0f0728 440px,#0e0726 448px,#0e0725 456px,#0d0724 464px,#0d0623 472px,#0c0622 480px,#0c0622 493px)"></div><div style="left:143px;width:3px;background:linear-gradient(#04020f 0px,#04020f 8px,#05020f 16px,#050311 24px,#060313 32px,#070415 40px,#080418 48px,#0a051c 56px,#0c0622 64px,#10082b 72px,#11082c 73px,#140a33 77px,#160b39 80px,#180b3b 81px,#200b43 85px,#280b4c 88px,#2b0b4f 89px,#3a0a5f 93px,#470c69 96px,#4b0d69 97px,#5c136c 101px,#69176e 104px,#6e186d 105px,#7f1f6a 109px,#8d2468 112px,#922667 113px,#a62e5e 117px,#b43458 120px,#b93655 121px,#c9414a 125px,#d44a41 128px,#d84d3e 129px,#e5602e 133px,#ee7020 136px,#f1751b 137px,#f78c12 141px,#fa9a0e 144px,#fb9e0c 145px,#fca80d 149px,#fca80e 152px,#fca80d 153px,#fca30b 157px,#fb9e0c 160px,#fa9c0d 161px,#f89310 165px,#f78c12 168px,#f78a13 169px,#f58116 173px,#f37a18 176px,#f37819 177px,#ed6e21 181px,#e96728 184px,#e8642a 185px,#e25b32 189px,#df5437 192px,#de5239 193px,#d84d3e 197px,#d34942 200px,#d24843 201px,#ca4249 208px,#c53e4d 216px,#c13b50 224px,#bd3853 232px,#bc3754 240px,#bb3655 248px,#ba3655 256px,#b83556 264px,#b53457 272px,#b43458 273px,#ae315a 277px,#a92f5d 280px,#a72e5e 281px,#a02c61 285px,#9a2964 288px,#982865 289px,#902568 293px,#892269 296px,#872269 297px,#7d1e6b 301px,#761b6c 304px,#741b6c 305px,#6b176e 309px,#66166d 312px,#64156d 313px,#5c136c 317px,#57116b 320px,#56106b 321px,#4f0e6a 325px,#4a0d69 328px,#490c69 329px,#3e0a64 336px,#330a58 344px,#2b0b4f 352px,#250b49 360px,#200b43 368px,#1b0b3f 376px,#180b3b 384px,#150b37 392px,#140a34 400px,#130931 408px,#11092e 416px,#10082c 424px,#10082a 432px,#0f0728 440px,#0e0726 448px,#0e0725 456px,#0d0724 464px,#0d0623 472px,#0c0622 480px,#0c0621 488px,#0c0621 493px)"></div><div style="left:146px;width:3px;background:linear-gradient(#04020f 0px,#04020f 8px,#05020f 16px,#050311 24px,#060313 32px,#070415 40px,#080418 48px,#0a051c 56px,#0c0622 64px,#10082b 72px,#11082c 73px,#130a33 77px,#160b39 80px,#170b3b 81px,#1f0b43 85px,#270b4b 88px,#2a0b4f 89px,#390a5f 93px,#460b69 96px,#4a0d69 97px,#5c126c 101px,#68176e 104px,#6d186e 105px,#7e1e6b 109px,#8c2368 112px,#912567 113px,#a42d5f 117px,#b33358 120px,#b83556 121px,#c8404b 125px,#d34942 128px,#d74c3f 129px,#e45e2f 133px,#ed6e22 136px,#f0731d 137px,#f68913 141px,#f9970f 144px,#fa9b0d 145px,#fca50a 149px,#fca50a 152px,#fca40a 153px,#fba00c 157px,#fa9b0d 160px,#fa990e 161px,#f89011 165px,#f68913 168px,#f68714 169px,#f47f17 173px,#f37719 176px,#f1751b 177px,#ec6c23 181px,#e8642a 184px,#e7622c 185px,#e15934 189px,#de5239 192px,#dc513a 193px,#d64b40 197px,#d14843 200px,#d04744 201px,#c9414a 208px,#c33d4e 216px,#bf3952 224px,#bc3754 232px,#ba3655 240px,#b93656 248px,#b83556 256px,#b63557 264px,#b33358 272px,#b23359 273px,#ad315b 277px,#a72e5e 280px,#a62e5e 281px,#9f2b62 285px,#992864 288px,#972865 289px,#8e2468 293px,#882269 296px,#852169 297px,#7c1e6b 301px,#751b6c 304px,#731a6d 305px,#6a176e 309px,#65156d 312px,#63156d 313px,#5c126c 317px,#56116b 320px,#55106b 321px,#4e0e6a 325px,#4a0c69 328px,#480c69 329px,#3e0a63 336px,#330a58 344px,#2a0b4f 352px,#240b48 360px,#1f0b43 368px,#1b0b3e 376px,#170b3b 384px,#150b37 392px,#140a33 400px,#120930 408px,#11092e 416px,#10082b 424px,#0f0829 432px,#0f0727 440px,#0e0726 448px,#0e0725 456px,#0d0723 464px,#0d0622 472px,#0c0622 480px,#0c0621 488px,#0c0621 493px)"></div><div style="left:149px;width:3px;background:linear-gradient(#04020f 0px,#04020f 8px,#05020f 16px,#050311 24px,#060313 32px,#070415 40px,#080418 48px,#0a051c 56px,#0c0622 64px,#10082a 72px,#11082c 73px,#130a32 77px,#160b38 80px,#170b3a 81px,#1f0b43 85px,#270b4b 88px,#2a0b4e 89px,#390a5e 93px,#450b69 96px,#4a0c69 97px,#5b126c 101px,#68166e 104px,#6c186e 105px,#7d1e6b 109px,#8b2368 112px,#8f2568 113px,#a32c60 117px,#b13359 120px,#b63557 121px,#c63f4c 125px,#d14843 128px,#d54b40 129px,#e35b31 133px,#ec6b24 136px,#ef711f 137px,#f68614 141px,#f99410 144px,#f9980e 145px,#fba20b 149px,#fba20b 152px,#fba10b 153px,#fa9d0d 157px,#f9980e 160px,#f9960f 161px,#f78d12 165px,#f68714 168px,#f58415 169px,#f47c18 173px,#f1751b 176px,#f0731d 177px,#eb6925 181px,#e7622c 184px,#e5602e 185px,#e05636 189px,#dc503b 192px,#da4f3c 193px,#d44a41 197px,#cf4645 200px,#ce4546 201px,#c73f4c 208px,#c13b50 216px,#bd3853 224px,#ba3655 232px,#b73556 240px,#b63557 248px,#b53457 256px,#b43458 264px,#b13259 272px,#b0325a 273px,#aa305c 277px,#a52e5f 280px,#a42d5f 281px,#9d2a63 285px,#972865 288px,#952766 289px,#8d2468 293px,#862169 296px,#84206a 297px,#7a1d6b 301px,#731a6c 304px,#711a6d 305px,#69176e 309px,#63156d 312px,#61146d 313px,#5a126c 317px,#55106b 320px,#54106b 321px,#4d0e6a 325px,#490c69 328px,#470c69 329px,#3d0a62 336px,#320a57 344px,#2a0b4e 352px,#240b48 360px,#1f0b42 368px,#1b0b3e 376px,#170b3a 384px,#150a36 392px,#130a33 400px,#120930 408px,#11092d 416px,#10082b 424px,#0f0829 432px,#0f0727 440px,#0e0726 448px,#0d0724 456px,#0d0623 464px,#0d0622 472px,#0c0621 480px,#0c0621 493px)"></div><div style="left:152px;width:3px;background:linear-gradient(#04020f 0px,#04020f 8px,#05020f 16px,#050311 24px,#060313 32px,#070415 40px,#080418 48px,#0a051c 56px,#0c0622 64px,#10082a 72px,#10082c 73px,#130a32 77px,#160b38 80px,#170b3a 81px,#1f0b42 85px,#260b4a 88px,#290b4e 89px,#380a5e 93px,#450b68 96px,#490c69 97px,#5a126c 101px,#67166d 104px,#6b176e 105px,#7c1e6b 109px,#8a2369 112px,#8e2468 113px,#a12c60 117px,#b0325a 120px,#b43458 121px,#c53e4d 125px,#d04744 128px,#d44a41 129px,#e25933 133px,#eb6925 136px,#ee6f21 137px,#f58415 141px,#f89111 144px,#f9950f 145px,#fb9f0c 149px,#fb9f0c 153px,#fa9a0e 157px,#f9950f 160px,#f89310 161px,#f78b13 165px,#f58415 168px,#f58216 169px,#f37919 173px,#f0731d 176px,#ef711f 177px,#e96727 181px,#e5602e 184px,#e45d30 185px,#df5438 189px,#da4f3c 192px,#d84d3e 193px,#d24843 197px,#cd4546 200px,#cc4348 201px,#c43e4d 208px,#bf3a51 216px,#bb3655 224px,#b73556 232px,#b53457 240px,#b43458 248px,#b33358 256px,#b13359 264px,#ae315a 272px,#ae315b 273px,#a82f5d 277px,#a32d60 280px,#a12c60 281px,#9b2963 285px,#952766 288px,#932667 289px,#8b2368 293px,#84216a 296px,#82206a 297px,#791c6c 301px,#721a6d 304px,#70196d 305px,#67166e 309px,#62146d 312px,#60146d 313px,#59126b 317px,#54106b 320px,#520f6a 321px,#4c0d6a 325px,#480c69 328px,#460b69 329px,#3c0a61 336px,#310a56 344px,#290b4d 352px,#230b47 360px,#1e0b42 368px,#1a0b3d 376px,#170b3a 384px,#150a36 392px,#130a32 400px,#120930 408px,#11082d 416px,#10082b 424px,#0f0829 432px,#0e0727 440px,#0e0725 448px,#0d0724 456px,#0d0623 464px,#0c0622 472px,#0c0621 480px,#0c0621 493px)"></div><div style="left:155px;width:3px;background:linear-gradient(#04020f 0px,#04020f 8px,#05020f 16px,#050311 24px,#060313 32px,#070415 40px,#080418 48px,#0a051c 56px,#0c0621 64px,#10082a 72px,#10082b 73px,#130a32 77px,#150b38 80px,#170b3a 81px,#1e0b42 85px,#260b4a 88px,#290b4d 89px,#380a5d 93px,#440b68 96px,#480c69 97px,#59116b 101px,#66166d 104px,#6a176e 105px,#7b1d6b 109px,#882269 112px,#8d2468 113px,#a02b61 117px,#ae315a 120px,#b33358 121px,#c43d4e 125px,#ce4546 128px,#d24843 129px,#e15834 133px,#ea6727 136px,#ec6c23 137px,#f58116 141px,#f88f11 144px,#f89210 145px,#fa9c0d 149px,#fa9c0d 153px,#f9970f 157px,#f89210 160px,#f89011 161px,#f68814 165px,#f58116 168px,#f47f17 169px,#f2771a 173px,#ef701f 176px,#ed6e21 177px,#e86529 181px,#e45d30 184px,#e35b32 185px,#dd513a 189px,#d84d3e 192px,#d64c3f 193px,#d04744 197px,#cb4348 200px,#ca4249 201px,#c23c4f 208px,#bd3853 216px,#b83556 224px,#b53457 232px,#b33358 240px,#b13359 248px,#b13259 256px,#af325a 264px,#ac305b 272px,#ab305c 273px,#a62e5e 277px,#a12c61 280px,#9f2b61 281px,#992864 285px,#932667 288px,#912567 289px,#892269 293px,#82206a 296px,#801f6a 297px,#771c6c 301px,#70196d 304px,#6e186d 305px,#66166d 309px,#61146d 312px,#5f136c 313px,#58116b 317px,#53106b 320px,#510f6a 321px,#4b0d69 325px,#470b69 328px,#450b68 329px,#3b0a60 336px,#300a55 344px,#280b4c 352px,#220b46 360px,#1e0b41 368px,#1a0b3d 376px,#160b39 384px,#140a35 392px,#130a32 400px,#12092f 408px,#11082d 416px,#10082a 424px,#0f0828 432px,#0e0727 440px,#0e0725 448px,#0d0724 456px,#0d0623 464px,#0c0622 472px,#0c0621 480px,#0c0621 493px)"></div><div style="left:158px;width:5px;background:linear-gradient(#04020f 0px,#04020f 8px,#05020f 16px,#050311 24px,#060313 32px,#070415 40px,#080418 48px,#0a051b 56px,#0c0621 64px,#10082a 72px,#10082b 73px,#130931 77px,#150b37 80px,#160b39 81px,#1e0b41 85px,#250b49 88px,#280b4d 89px,#370a5c 93px,#430a68 96px,#470c69 97px,#58116b 101px,#64156d 104px,#69176e 105px,#791d6b 109px,#872169 112px,#8b2368 113px,#9e2b62 117px,#ac305b 120px,#b13259 121px,#c23b50 125px,#cc4447 128px,#d04744 129px,#df5537 133px,#e8642a 136px,#eb6a25 137px,#f47d17 141px,#f78b13 144px,#f88f11 145px,#f9980e 149px,#f9980e 153px,#f89310 157px,#f78e12 160px,#f78d12 161px,#f58415 165px,#f47e17 168px,#f47c18 169px,#f1741c 173px,#ed6d22 176px,#ec6b24 177px,#e6612c 181px,#e25a32 184px,#e15834 185px,#db4f3c 189px,#d54b40 192px,#d44a41 193px,#cd4447 197px,#c8414a 200px,#c7404b 201px,#c03a51 208px,#ba3655 216px,#b53457 224px,#b13359 232px,#af325a 240px,#ae315a 248px,#ad315b 256px,#ac305b 264px,#a92f5d 272px,#a82f5d 273px,#a32d60 277px,#9e2b62 280px,#9c2a63 281px,#962766 285px,#902567 288px,#8e2468 289px,#862169 293px,#801f6a 296px,#7e1e6b 297px,#751b6c 301px,#6e196d 304px,#6c186e 305px,#64156d 309px,#5f136c 312px,#5d136c 313px,#56116b 317px,#510f6a 320px,#500f6a 321px,#4a0d69 325px,#450b68 328px,#440b68 329px,#3a0a5f 336px,#2f0a54 344px,#270b4c 352px,#220b45 360px,#1d0b40 368px,#190b3c 376px,#160b38 384px,#140a35 392px,#130931 400px,#12092f 408px,#11082c 416px,#10082a 424px,#0f0728 432px,#0e0726 440px,#0e0725 448px,#0d0723 456px,#0d0622 464px,#0c0621 472px,#0c0621 480px,#0c0620 488px,#0c0620 493px)"></div><div style="left:163px;width:5px;background:linear-gradient(#04020f 0px,#04020f 8px,#05020f 16px,#050311 24px,#060312 32px,#070415 40px,#080418 48px,#0a051b 56px,#0c0621 64px,#0f0829 72px,#10082b 73px,#130931 77px,#150a37 80px,#160b39 81px,#1d0b41 85px,#250b49 88px,#280b4c 89px,#360a5b 93px,#420a68 96px,#460b69 97px,#57116b 101px,#63156d 104px,#67166e 105px,#771c6c 109px,#852169 112px,#892269 113px,#9c2a63 117px,#aa2f5d 120px,#ae315a 121px,#bf3a51 125px,#ca4249 128px,#cd4546 129px,#dd5239 133px,#e6612c 136px,#e96628 137px,#f37919 141px,#f68614 144px,#f78a13 145px,#f89310 149px,#f99410 152px,#f89310 153px,#f88f11 157px,#f78a13 160px,#f68814 161px,#f58016 165px,#f37919 168px,#f3771a 169px,#ef7020 173px,#eb6a25 176px,#ea6727 177px,#e45e2f 181px,#e05636 184px,#df5438 185px,#d74d3e 189px,#d24843 192px,#d04744 193px,#ca4249 197px,#c53e4d 200px,#c43d4e 201px,#bc3754 208px,#b63557 216px,#b13259 224px,#ae315b 232px,#ac305c 240px,#ab305c 248px,#aa2f5d 256px,#a82f5d 264px,#a52e5e 272px,#a52d5f 273px,#9f2b61 277px,#9b2963 280px,#992864 281px,#932667 285px,#8d2468 288px,#8b2368 289px,#83206a 293px,#7d1e6b 296px,#7b1d6b 297px,#721a6d 301px,#6c186e 304px,#6a176e 305px,#62146d 309px,#5d136c 312px,#5b126c 313px,#54106b 317px,#500e6a 320px,#4e0e6a 321px,#480c69 325px,#440b68 328px,#420a68 329px,#380a5d 336px,#2e0a53 344px,#260b4a 352px,#210b44 360px,#1c0b3f 368px,#180b3b 376px,#150b38 384px,#140a34 392px,#130931 400px,#11092e 408px,#10082b 416px,#0f0829 424px,#0f0727 432px,#0e0726 440px,#0d0724 448px,#0d0623 456px,#0c0622 464px,#0c0621 472px,#0c0620 480px,#0c0620 493px)"></div><div style="left:168px;width:5px;background:linear-gradient(#04020f 0px,#04020f 8px,#05020f 16px,#050311 24px,#060312 32px,#070315 40px,#080418 48px,#0a051b 56px,#0c0621 64px,#0f0829 72px,#10082a 73px,#120930 77px,#150a36 80px,#160b38 81px,#1d0b40 85px,#240b48 88px,#270b4b 89px,#350a5a 93px,#410a67 96px,#450b68 97px,#55106b 101px,#62146d 104px,#66166d 105px,#761b6c 109px,#83206a 112px,#872269 113px,#992964 117px,#a72e5e 120px,#ac305c 121px,#bd3853 125px,#c8404b 128px,#cb4348 129px,#db4f3c 133px,#e45e2f 136px,#e7632b 137px,#f1751b 141px,#f58216 144px,#f68614 145px,#f88f11 149px,#f88f11 153px,#f78a13 157px,#f68614 160px,#f58415 161px,#f47c18 165px,#f2761b 168px,#f1741d 169px,#ed6d23 173px,#e96628 176px,#e8642a 177px,#e25a32 181px,#de5339 184px,#dc503b 185px,#d44a41 189px,#cf4645 192px,#cd4447 193px,#c73f4c 197px,#c23c4f 200px,#c03a51 201px,#b83556 208px,#b23359 216px,#ad315b 224px,#aa2f5c 232px,#a82f5d 240px,#a72e5e 248px,#a62e5e 256px,#a52d5f 264px,#a22c60 272px,#a12c61 273px,#9c2a63 277px,#972865 280px,#962766 281px,#8f2568 285px,#8a2369 288px,#882269 289px,#801f6a 293px,#7a1d6b 296px,#781c6c 297px,#70196d 301px,#69176e 304px,#67166e 305px,#60146c 309px,#5b126c 312px,#59116b 313px,#530f6a 317px,#4e0e6a 320px,#4c0d6a 321px,#460b69 325px,#420a68 328px,#410a67 329px,#370a5c 336px,#2d0a52 344px,#250b49 352px,#200b43 360px,#1b0b3f 368px,#170b3a 376px,#150b37 384px,#140a33 392px,#120930 400px,#11092d 408px,#10082b 416px,#0f0829 424px,#0e0727 432px,#0e0725 440px,#0d0724 448px,#0d0623 456px,#0c0622 464px,#0c0621 472px,#0c0620 480px,#0b061f 488px,#0b061f 493px)"></div><div style="left:173px;width:5px;background:linear-gradient(#04020f 0px,#04020f 8px,#05020f 16px,#050310 24px,#060312 32px,#070315 40px,#080417 48px,#09051b 56px,#0c0620 64px,#0f0829 72px,#10082a 73px,#120930 77px,#150a35 80px,#150b37 81px,#1c0b3f 85px,#230b47 88px,#260b4a 89px,#340a59 93px,#400a66 96px,#440b68 97px,#54106b 101px,#60146d 104px,#64156d 105px,#741b6c 109px,#811f6a 112px,#852169 113px,#972865 117px,#a52d5f 120px,#a92f5d 121px,#bb3755 125px,#c53e4d 128px,#c9414a 129px,#d84d3e 133px,#e25a32 136px,#e55f2e 137px,#ef721e 141px,#f47e17 144px,#f58116 145px,#f78a13 149px,#f78b13 152px,#f78a13 153px,#f68614 157px,#f58116 160px,#f47f17 161px,#f37719 165px,#f0721e 168px,#ef7020 169px,#eb6926 173px,#e7632b 176px,#e6602d 177px,#e05635 181px,#db503b 184px,#d94e3d 185px,#d14843 189px,#cc4348 192px,#ca4249 193px,#c33d4e 197px,#bf3952 200px,#bd3853 201px,#b43458 208px,#ae315a 216px,#aa2f5d 224px,#a62e5e 232px,#a42d5f 240px,#a32d5f 248px,#a22c60 256px,#a12c61 264px,#9e2b62 272px,#9d2a62 273px,#992864 277px,#942667 280px,#922667 281px,#8c2468 285px,#872269 288px,#852169 289px,#7e1e6b 293px,#781c6c 296px,#761b6c 297px,#6d186d 301px,#67166e 304px,#65156d 305px,#5e136c 309px,#59116b 312px,#57116b 313px,#510f6a 317px,#4c0d6a 320px,#4b0d69 321px,#450b68 325px,#410a66 328px,#3f0a65 329px,#350a5a 336px,#2c0b50 344px,#240b48 352px,#1f0b42 360px,#1a0b3e 368px,#170b3a 376px,#150a36 384px,#130a32 392px,#12092f 400px,#11082d 408px,#10082a 416px,#0f0828 424px,#0e0726 432px,#0e0725 440px,#0d0623 448px,#0d0622 456px,#0c0621 464px,#0c0620 472px,#0b0620 480px,#0b061f 488px,#0b061f 493px)"></div><div style="left:178px;width:5px;background:linear-gradient(#04020f 0px,#04020f 8px,#05020f 16px,#050310 24px,#060312 32px,#070315 40px,#080417 48px,#09051b 56px,#0c0620 64px,#0f0828 72px,#10082a 73px,#120930 77px,#140a35 80px,#150b37 81px,#1b0b3f 85px,#230b46 88px,#260b4a 89px,#330a58 93px,#3f0a65 96px,#430a68 97px,#53106b 101px,#5f136c 104px,#63156d 105px,#721a6d 109px,#7f1f6a 112px,#83206a 113px,#952766 117px,#a22c60 120px,#a72e5e 121px,#b83556 125px,#c33d4e 128px,#c63f4c 129px,#d64b40 133px,#e15735 136px,#e35c31 137px,#ee6e21 141px,#f37a18 144px,#f47d17 145px,#f68614 149px,#f68614 153px,#f58216 157px,#f47d17 160px,#f47b18 161px,#f1741c 165px,#ee6f21 168px,#ed6d23 169px,#e96628 173px,#e55f2e 176px,#e45d30 177px,#de5338 181px,#d84d3e 184px,#d64c3f 185px,#ce4546 189px,#c9414a 192px,#c7404b 193px,#c03a51 197px,#bc3754 200px,#ba3655 201px,#b03259 208px,#aa305c 216px,#a62e5e 224px,#a32c60 232px,#a12c61 240px,#a02b61 248px,#9f2b62 256px,#9d2a62 264px,#9b2963 272px,#9a2964 273px,#952766 277px,#912567 280px,#8f2568 281px,#892269 285px,#84216a 288px,#82206a 289px,#7b1d6b 293px,#751b6c 296px,#731a6c 297px,#6b176e 301px,#65156d 304px,#63156d 305px,#5c126c 309px,#57116b 312px,#55106b 313px,#4f0e6a 317px,#4a0d69 320px,#490c69 321px,#430a68 325px,#3f0a65 328px,#3d0a63 329px,#340a59 336px,#2b0b4f 344px,#230b47 352px,#1e0b41 360px,#1a0b3d 368px,#160b39 376px,#140a35 384px,#130932 392px,#12092f 400px,#11082c 408px,#10082a 416px,#0f0728 424px,#0e0726 432px,#0d0724 440px,#0d0623 448px,#0c0622 456px,#0c0621 464px,#0c0620 472px,#0b061f 480px,#0b061f 493px)"></div><div style="left:183px;width:5px;background:linear-gradient(#04020f 0px,#04020f 8px,#05020f 16px,#050310 24px,#060312 32px,#070315 40px,#080417 48px,#09051b 56px,#0c0620 64px,#0f0728 72px,#0f0829 73px,#12092f 77px,#140a34 80px,#150a36 81px,#1b0b3e 85px,#220b46 88px,#250b49 89px,#320a57 93px,#3e0a64 96px,#420a68 97px,#520f6a 101px,#5d136c 104px,#61146d 105px,#71196d 109px,#7d1e6b 112px,#81206a 113px,#932667 117px,#a02b61 120px,#a42d5f 121px,#b63457 125px,#c13b50 128px,#c43d4e 129px,#d34942 133px,#df5437 136px,#e15933 137px,#ec6b24 141px,#f2761b 144px,#f37919 145px,#f58116 149px,#f58216 152px,#f58116 153px,#f47d17 157px,#f37919 160px,#f2771a 161px,#ef701f 165px,#ec6b24 168px,#eb6925 169px,#e7622b 173px,#e35c31 176px,#e25933 177px,#dc503b 181px,#d54b40 184px,#d34942 185px,#cb4348 189px,#c63f4c 192px,#c43d4e 193px,#bd3853 197px,#b83556 200px,#b63457 201px,#ac315b 208px,#a72e5e 216px,#a22c60 224px,#9f2b61 232px,#9d2a62 240px,#9c2a63 248px,#9b2963 256px,#9a2964 264px,#972865 272px,#972865 273px,#922667 277px,#8d2468 280px,#8c2368 281px,#862169 285px,#811f6a 288px,#7f1f6a 289px,#781c6c 293px,#721a6d 296px,#71196d 297px,#68166e 301px,#63156d 304px,#61146d 305px,#5a126c 309px,#55106b 312px,#53106b 313px,#4d0e6a 317px,#490c69 320px,#470c69 321px,#420a68 325px,#3d0a63 328px,#3c0a62 329px,#320a57 336px,#290b4e 344px,#220b46 352px,#1d0b40 360px,#190b3c 368px,#160b38 376px,#140a34 384px,#130931 392px,#11092e 400px,#10082b 408px,#0f0829 416px,#0f0727 424px,#0e0725 432px,#0d0724 440px,#0d0622 448px,#0c0621 456px,#0c0620 464px,#0b0620 472px,#0b061f 480px,#0b051e 488px,#0b051e 493px)"></div><div style="left:188px;width:5px;background:linear-gradient(#04020f 0px,#04020f 8px,#05020f 16px,#050310 24px,#060312 32px,#070314 40px,#080417 48px,#09051a 56px,#0c0620 64px,#0f0728 72px,#0f0829 73px,#12092f 77px,#140a34 80px,#150a36 81px,#1a0b3e 85px,#210b45 88px,#240b48 89px,#310a56 93px,#3d0a63 96px,#410a67 97px,#510f6a 101px,#5c126c 104px,#60146c 105px,#6f196d 109px,#7b1d6b 112px,#7f1f6a 113px,#912567 117px,#9e2a62 120px,#a22c60 121px,#b33358 125px,#be3952 128px,#c23c4f 129px,#d14744 133px,#dd513a 136px,#e05636 137px,#ea6727 141px,#f0721e 144px,#f1751c 145px,#f47d17 149px,#f47d17 153px,#f37919 157px,#f1751c 160px,#f0731d 161px,#ed6d23 165px,#ea6827 168px,#e96628 169px,#e55f2e 173px,#e15834 176px,#e05636 177px,#d94e3d 181px,#d24942 184px,#d04744 185px,#c8414a 189px,#c33c4f 192px,#c13b50 193px,#ba3655 197px,#b43458 200px,#b23359 201px,#a92f5d 208px,#a32d60 216px,#9f2b62 224px,#9b2a63 232px,#9a2964 240px,#992864 248px,#982865 256px,#972765 264px,#942667 272px,#932667 273px,#8f2468 277px,#8a2368 280px,#892269 281px,#83206a 285px,#7e1e6b 288px,#7c1e6b 289px,#751b6c 293px,#70196d 296px,#6e186d 297px,#66166d 301px,#60146d 304px,#5e136c 305px,#58116b 309px,#530f6b 312px,#510f6a 313px,#4b0d69 317px,#470c69 320px,#460b69 321px,#400a66 325px,#3c0a61 328px,#3a0a60 329px,#310a56 336px,#280b4d 344px,#210b45 352px,#1c0b3f 360px,#180b3b 368px,#150b37 376px,#140a33 384px,#120930 392px,#11092d 400px,#10082b 408px,#0f0829 416px,#0e0727 424px,#0e0725 432px,#0d0723 440px,#0c0622 448px,#0c0621 456px,#0c0620 464px,#0b061f 472px,#0b051e 480px,#0b051e 493px)"></div><div style="left:193px;width:5px;background:linear-gradient(#04020f 0px,#04020f 8px,#05020f 16px,#050310 24px,#060312 32px,#070314 40px,#080417 48px,#09051a 56px,#0b0620 64px,#0f0727 72px,#0f0828 73px,#12092e 77px,#140a33 80px,#140a35 81px,#1a0b3d 85px,#210b44 88px,#230b47 89px,#310a55 93px,#3c0a62 96px,#400a66 97px,#4f0e6a 101px,#5b126c 104px,#5e136c 105px,#6d186d 109px,#791d6b 112px,#7e1e6b 113px,#8e2468 117px,#9b2963 120px,#a02b61 121px,#b03259 125px,#bc3754 128px,#bf3a51 129px,#ce4546 133px,#da4f3c 136px,#de5239 137px,#e8642a 141px,#ee6e21 144px,#ef711f 145px,#f37919 149px,#f37919 153px,#f1751b 157px,#ef711f 160px,#ee7020 161px,#eb6926 165px,#e8642a 168px,#e7622b 169px,#e35b31 173px,#df5537 176px,#de5239 177px,#d64b40 181px,#cf4645 184px,#cd4546 185px,#c53e4d 189px,#c03a51 192px,#be3853 193px,#b63557 197px,#b03259 200px,#ae315a 201px,#a52d5f 208px,#9f2b61 216px,#9b2963 224px,#982865 232px,#962766 240px,#952766 248px,#942766 256px,#932667 264px,#912567 272px,#902568 273px,#8b2368 277px,#872269 280px,#862169 281px,#801f6a 285px,#7b1d6b 288px,#7a1d6b 289px,#731a6d 293px,#6d186d 296px,#6b186e 297px,#64156d 301px,#5e136c 304px,#5c136c 305px,#56106b 309px,#510f6a 312px,#4f0e6a 313px,#4a0c69 317px,#450b69 320px,#440b68 321px,#3e0a64 325px,#3a0a60 328px,#390a5e 329px,#300a55 336px,#270b4b 344px,#200b44 352px,#1b0b3f 360px,#170b3a 368px,#150a36 376px,#130a33 384px,#12092f 392px,#11082d 400px,#10082a 408px,#0f0728 416px,#0e0726 424px,#0d0724 432px,#0d0623 440px,#0c0622 448px,#0c0621 456px,#0b0620 464px,#0b061f 472px,#0b051e 480px,#0b051e 493px)"></div><div style="left:198px;width:5px;background:linear-gradient(#04020f 0px,#04020f 8px,#05020f 16px,#050310 24px,#060312 32px,#070314 40px,#080417 48px,#09051a 56px,#0b061f 64px,#0e0727 72px,#0f0728 73px,#11092e 77px,#130a33 80px,#140a35 81px,#190b3c 85px,#200b44 88px,#230b47 89px,#300a54 93px,#3b0a60 96px,#3f0a65 97px,#4e0e6a 101px,#59126b 104px,#5d136c 105px,#6c186e 109px,#771c6c 112px,#7c1d6b 113px,#8c2468 117px,#992864 120px,#9d2a62 121px,#ae315b 125px,#b93655 128px,#bd3853 129px,#cc4348 133px,#d74d3e 136px,#db503b 137px,#e6602d 141px,#eb6b24 144px,#ed6e22 145px,#f1751c 149px,#f1751c 153px,#ef711f 157px,#ed6d22 160px,#ec6c23 161px,#e96529 165px,#e6602d 168px,#e55f2e 169px,#e15834 173px,#dd513a 176px,#db503b 177px,#d34942 181px,#cc4447 184px,#ca4249 185px,#c23c4f 189px,#bd3754 192px,#bb3655 193px,#b23358 197px,#ac315b 200px,#ab305c 201px,#a12c60 208px,#9c2a63 216px,#972865 224px,#942766 232px,#932667 240px,#922667 248px,#912567 256px,#902568 264px,#8d2468 272px,#8d2468 273px,#882269 277px,#84216a 280px,#83206a 281px,#7d1e6b 285px,#781c6c 288px,#771c6c 289px,#70196d 293px,#6b176e 296px,#69176e 297px,#61146d 301px,#5c126c 304px,#5a126c 305px,#54106b 309px,#4f0e6a 312px,#4e0e6a 313px,#480c69 317px,#440b68 320px,#420a68 321px,#3d0a62 325px,#390a5e 328px,#370a5d 329px,#2e0a53 336px,#260b4a 344px,#1f0b43 352px,#1a0b3e 360px,#160b39 368px,#140a35 376px,#130a32 384px,#12092f 392px,#11082c 400px,#10082a 408px,#0f0727 416px,#0e0726 424px,#0d0724 432px,#0d0622 440px,#0c0621 448px,#0c0620 456px,#0b061f 464px,#0b051e 472px,#0b051e 480px,#0b051d 488px,#0b051d 493px)"></div><div style="left:203px;width:5px;background:linear-gradient(#04020f 0px,#04020f 8px,#05020f 16px,#050310 24px,#060312 32px,#070314 40px,#080417 48px,#09051a 56px,#0b061f 64px,#0e0726 72px,#0f0728 73px,#11092d 77px,#130a32 80px,#140a34 81px,#190b3c 85px,#1f0b43 88px,#220b46 89px,#2f0a53 93px,#3a0a5f 96px,#3e0a63 97px,#4d0e6a 101px,#58116b 104px,#5b126c 105px,#6a176e 109px,#761b6c 112px,#7a1d6b 113px,#8a2369 117px,#972765 120px,#9b2963 121px,#ab305c 125px,#b63557 128px,#ba3655 129px,#c9414a 133px,#d54a41 136px,#d94d3e 137px,#e45d30 141px,#e96727 144px,#eb6a25 145px,#ef711f 149px,#ef711f 153px,#ed6d22 157px,#eb6a25 160px,#ea6826 161px,#e6622c 165px,#e45d30 168px,#e35b31 169px,#df5537 173px,#da4f3c 176px,#d84d3e 177px,#d04744 181px,#c9414a 184px,#c7404b 185px,#bf3952 189px,#b93655 192px,#b73556 193px,#af315a 197px,#a92f5d 200px,#a72e5e 201px,#9d2a62 208px,#982865 216px,#942667 224px,#912567 232px,#8f2568 240px,#8e2468 248px,#8e2468 256px,#8c2468 264px,#8a2369 272px,#892269 273px,#852169 277px,#811f6a 280px,#801f6a 281px,#7a1d6b 285px,#751b6c 288px,#741b6c 289px,#6d186d 293px,#68166e 296px,#66166d 297px,#5f136c 301px,#5a126c 304px,#58116b 305px,#520f6a 309px,#4d0e6a 312px,#4c0d69 313px,#460b69 317px,#420a68 320px,#410a67 321px,#3b0a61 325px,#370a5c 328px,#360a5b 329px,#2d0a52 336px,#250b49 344px,#1e0b42 352px,#190b3d 360px,#160b38 368px,#140a34 376px,#130931 384px,#11092e 392px,#10082b 400px,#0f0829 408px,#0e0727 416px,#0e0725 424px,#0d0723 432px,#0c0622 440px,#0c0621 448px,#0c0620 456px,#0b061f 464px,#0b051e 472px,#0b051d 480px,#0a051d 488px,#0a051d 493px)"></div><div style="left:208px;width:5px;background:linear-gradient(#04020f 0px,#04020f 8px,#05020f 16px,#050310 24px,#060312 32px,#070314 40px,#080417 48px,#09051a 56px,#0b061f 64px,#0e0726 72px,#0f0727 73px,#11082d 77px,#130932 80px,#140a34 81px,#180b3b 85px,#1f0b42 88px,#210b45 89px,#2e0a52 93px,#390a5e 96px,#3d0a62 97px,#4c0d69 101px,#56116b 104px,#5a126c 105px,#68166e 109px,#741b6c 112px,#781c6c 113px,#882269 117px,#942666 120px,#982865 121px,#a82f5d 125px,#b43458 128px,#b83556 129px,#c73f4c 133px,#d24843 136px,#d64b40 137px,#e25933 141px,#e7632b 144px,#e96628 145px,#ed6d22 149px,#ed6d22 153px,#eb6a25 157px,#e96628 160px,#e8642a 161px,#e45e2f 165px,#e25933 168px,#e15834 169px,#dd513a 173px,#d74c3f 176px,#d54b40 177px,#cd4447 181px,#c63f4c 184px,#c43d4e 185px,#bc3754 189px,#b53457 192px,#b33358 193px,#ab305c 197px,#a52d5f 200px,#a32d5f 201px,#9a2964 208px,#942766 216px,#902567 224px,#8d2468 232px,#8c2368 240px,#8b2368 248px,#8a2369 256px,#892269 264px,#872169 272px,#862169 273px,#82206a 277px,#7e1e6b 280px,#7c1e6b 281px,#771c6c 285px,#731a6d 288px,#711a6d 289px,#6b176e 293px,#66166d 296px,#64156d 297px,#5d136c 301px,#58116b 304px,#56106b 305px,#500e6a 309px,#4b0d69 312px,#4a0d69 313px,#440b68 317px,#400a66 320px,#3f0a65 321px,#3a0a5f 325px,#360a5b 328px,#340a59 329px,#2c0b50 336px,#240b48 344px,#1d0b41 352px,#190b3c 360px,#150b37 368px,#140a34 376px,#120930 384px,#11092d 392px,#10082b 400px,#0f0828 408px,#0e0726 416px,#0e0725 424px,#0d0623 432px,#0c0622 440px,#0c0620 448px,#0b061f 456px,#0b061f 464px,#0b051e 472px,#0a051d 480px,#0a051d 493px)"></div><div style="left:213px;width:5px;background:linear-gradient(#04020f 0px,#04020f 8px,#05020f 16px,#050310 24px,#060312 32px,#070314 40px,#080416 48px,#09041a 56px,#0b061f 64px,#0e0726 72px,#0e0727 73px,#11082c 77px,#130931 80px,#140a33 81px,#180b3b 85px,#1e0b42 88px,#210b44 89px,#2d0a52 93px,#380a5d 96px,#3c0a61 97px,#4a0d69 101px,#55106b 104px,#59116b 105px,#66166d 109px,#721a6d 112px,#761b6c 113px,#862169 117px,#922667 120px,#962766 121px,#a52e5e 125px,#b13259 128px,#b53457 129px,#c43d4e 133px,#cf4645 136px,#d34942 137px,#e05536 141px,#e55f2e 144px,#e7622b 145px,#eb6926 149px,#eb6925 152px,#eb6926 153px,#e96628 157px,#e7622c 160px,#e6612d 161px,#e25b32 165px,#e05636 168px,#df5437 169px,#da4f3c 173px,#d44a41 176px,#d24843 177px,#ca4249 181px,#c33d4e 184px,#c13b50 185px,#b83656 189px,#b23359 192px,#b0325a 193px,#a72e5e 197px,#a12c60 200px,#a02b61 201px,#962766 208px,#912567 216px,#8d2468 224px,#8a2369 232px,#882269 240px,#882269 248px,#872269 256px,#862169 264px,#83206a 272px,#83206a 273px,#7f1f6a 277px,#7b1d6b 280px,#791d6b 281px,#741b6c 285px,#70196d 288px,#6e196d 289px,#68166e 293px,#63156d 296px,#62146d 297px,#5b126c 301px,#55106b 304px,#54106b 305px,#4e0e6a 309px,#490c69 312px,#480c69 313px,#430a68 317px,#3f0a64 320px,#3d0a63 321px,#380a5d 325px,#340a59 328px,#330a58 329px,#2b0b4f 336px,#230b46 344px,#1c0b40 352px,#180b3b 360px,#150a37 368px,#130a33 376px,#120930 384px,#11082d 392px,#10082a 400px,#0f0728 408px,#0e0726 416px,#0d0724 424px,#0d0623 432px,#0c0621 440px,#0c0620 448px,#0b061f 456px,#0b051e 464px,#0b051d 472px,#0a051d 480px,#0a051c 488px,#0a051c 493px)"></div><div style="left:218px;width:5px;background:linear-gradient(#04020f 0px,#04020f 8px,#05020f 16px,#050310 24px,#060312 32px,#070314 40px,#080416 48px,#090419 56px,#0b051e 64px,#0e0725 72px,#0e0727 73px,#11082c 77px,#130931 80px,#130a32 81px,#170b3a 85px,#1d0b41 88px,#200b44 89px,#2c0a51 93px,#370a5c 96px,#3a0a60 97px,#490c69 101px,#54106b 104px,#57116b 105px,#65156d 109px,#70196d 112px,#741b6c 113px,#83206a 117px,#8f2568 120px,#932667 121px,#a32d60 125px,#ae315b 128px,#b23359 129px,#c13b50 133px,#cc4447 136px,#d04744 137px,#dd5239 141px,#e35c31 144px,#e55e2f 145px,#e86529 149px,#e96529 152px,#e86529 153px,#e7622c 157px,#e55e2f 160px,#e45d30 161px,#e05735 165px,#de5239 168px,#dd513a 169px,#d74c3f 173px,#d14843 176px,#cf4645 177px,#c73f4c 181px,#c03a51 184px,#be3952 185px,#b53457 189px,#ae315b 192px,#ac305b 193px,#a42d5f 197px,#9e2a62 200px,#9c2a63 201px,#922667 208px,#8d2468 216px,#892269 224px,#872169 232px,#852169 240px,#84216a 248px,#84206a 256px,#82206a 264px,#801f6a 272px,#801f6a 273px,#7b1d6b 277px,#781c6c 280px,#761c6c 281px,#711a6d 285px,#6d186d 288px,#6c186e 289px,#66166d 293px,#61146d 296px,#5f136c 297px,#58116b 301px,#53106b 304px,#520f6a 305px,#4c0d69 309px,#480c69 312px,#460b69 313px,#410a67 317px,#3d0a63 320px,#3c0a61 321px,#360a5c 325px,#330a58 328px,#310a56 329px,#290b4e 336px,#220b45 344px,#1b0b3f 352px,#170b3a 360px,#150a36 368px,#130a32 376px,#12092f 384px,#11082c 392px,#100829 400px,#0f0727 408px,#0e0725 416px,#0d0724 424px,#0c0622 432px,#0c0621 440px,#0b0620 448px,#0b061f 456px,#0b051e 464px,#0a051d 472px,#0a051c 480px,#0a051c 493px)"></div><div style="left:223px;width:5px;background:linear-gradient(#04020f 0px,#04020f 8px,#05020f 16px,#050310 24px,#060312 32px,#070314 40px,#080416 48px,#090419 56px,#0b051e 64px,#0e0725 72px,#0e0726 73px,#10082b 77px,#120930 80px,#130a32 81px,#160b39 85px,#1d0b40 88px,#1f0b43 89px,#2b0b50 93px,#360a5b 96px,#390a5f 97px,#480c69 101px,#520f6a 104px,#56106b 105px,#63156d 109px,#6e186d 112px,#721a6d 113px,#811f6a 117px,#8d2468 120px,#912567 121px,#a02b61 125px,#ab305c 128px,#af315a 129px,#bf3952 133px,#ca4249 136px,#cd4546 137px,#db4f3c 141px,#e15834 144px,#e25b32 145px,#e6612c 149px,#e6622c 152px,#e6612c 153px,#e45e2f 157px,#e25b32 160px,#e25933 161px,#de5338 165px,#db4f3c 168px,#da4e3d 169px,#d44a41 173px,#ce4546 176px,#cc4447 177px,#c43d4e 181px,#bd3853 184px,#bb3754 185px,#b13259 189px,#aa305c 192px,#a82f5d 193px,#a02b61 197px,#9a2964 200px,#982865 201px,#8f2468 208px,#8a2369 216px,#862169 224px,#83206a 232px,#82206a 240px,#811f6a 248px,#801f6a 256px,#7f1f6a 264px,#7d1e6b 272px,#7c1e6b 273px,#781c6c 277px,#751b6c 280px,#731a6c 281px,#6e196d 285px,#6a176e 288px,#69176e 289px,#63156d 293px,#5e136c 296px,#5d136c 297px,#56116b 301px,#510f6a 304px,#500e6a 305px,#4a0d69 309px,#460b69 312px,#450b68 313px,#3f0a65 317px,#3b0a61 320px,#3a0a5f 321px,#350a5a 325px,#310a56 328px,#300a55 329px,#280b4c 336px,#200b44 344px,#1a0b3e 352px,#160b39 360px,#140a35 368px,#130931 376px,#11092e 384px,#10082b 392px,#0f0829 400px,#0e0727 408px,#0e0725 416px,#0d0623 424px,#0c0622 432px,#0c0620 440px,#0b061f 448px,#0b051e 456px,#0b051d 464px,#0a051d 472px,#0a051c 480px,#0a051c 493px)"></div><div style="left:228px;width:5px;background:linear-gradient(#04020f 0px,#04020f 8px,#05020f 16px,#050310 24px,#060312 32px,#070314 40px,#080416 48px,#090419 56px,#0b051e 64px,#0e0725 72px,#0e0726 73px,#10082b 77px,#120930 80px,#130931 81px,#160b39 85px,#1c0b3f 88px,#1e0b42 89px,#2a0b4f 93px,#340a5a 96px,#380a5d 97px,#470b69 101px,#510f6a 104px,#54106b 105px,#61146d 109px,#6c186e 112px,#70196d 113px,#7f1f6a 117px,#8a2368 120px,#8e2468 121px,#9d2a62 125px,#a82f5d 128px,#ac305c 129px,#bc3754 133px,#c7404b 136px,#ca4249 137px,#d84d3e 141px,#df5437 144px,#e05735 145px,#e45d30 149px,#e45e2f 152px,#e45d30 153px,#e25a32 157px,#e05735 160px,#df5536 161px,#dc503b 165px,#d84d3e 168px,#d74c3f 169px,#d14843 173px,#cb4348 176px,#c9414a 177px,#c13b50 181px,#ba3655 184px,#b73556 185px,#ad315b 189px,#a72e5e 192px,#a52d5f 193px,#9c2a63 197px,#962765 200px,#952766 201px,#8b2368 208px,#862169 216px,#83206a 224px,#801f6a 232px,#7e1e6b 240px,#7e1e6b 248px,#7d1e6b 256px,#7c1e6b 264px,#7a1d6b 272px,#791d6b 273px,#751b6c 277px,#721a6d 280px,#70196d 281px,#6c186e 285px,#68166e 288px,#66166d 289px,#60146d 293px,#5c126c 296px,#5a126c 297px,#54106b 301px,#4f0e6a 304px,#4e0e6a 305px,#480c69 309px,#440b68 312px,#430a68 313px,#3d0a63 317px,#390a5f 320px,#380a5d 321px,#330a58 325px,#300a54 328px,#2e0a53 329px,#270b4b 336px,#1f0b43 344px,#190b3d 352px,#160b38 360px,#140a34 368px,#120930 376px,#11092d 384px,#10082b 392px,#0f0828 400px,#0e0726 408px,#0d0724 416px,#0d0623 424px,#0c0621 432px,#0c0620 440px,#0b061f 448px,#0b051e 456px,#0a051d 464px,#0a051c 472px,#0a051c 493px)"></div><div style="left:233px;width:5px;background:linear-gradient(#04020f 0px,#04020f 8px,#05020f 16px,#050310 24px,#060312 32px,#070314 40px,#070416 48px,#090419 56px,#0b051e 64px,#0d0724 72px,#0e0725 73px,#10082a 77px,#12092f 80px,#130931 81px,#160b38 85px,#1b0b3f 88px,#1e0b41 89px,#290b4e 93px,#330a58 96px,#370a5c 97px,#450b68 101px,#4f0e6a 104px,#530f6a 105px,#60146c 109px,#6a176e 112px,#6e186d 113px,#7d1e6b 117px,#882269 120px,#8c2368 121px,#9b2964 125px,#a52d5f 128px,#a92f5d 129px,#b93655 133px,#c43d4e 136px,#c8404b 137px,#d54a41 141px,#dd513a 144px,#de5338 145px,#e25933 149px,#e25a33 152px,#e25933 153px,#e05635 157px,#de5338 160px,#dd523a 161px,#d94e3d 165px,#d54a41 168px,#d34942 169px,#ce4546 173px,#c8414a 176px,#c63f4c 177px,#be3853 181px,#b63557 184px,#b43458 185px,#aa2f5c 189px,#a32d60 192px,#a12c61 193px,#992864 197px,#932667 200px,#912567 201px,#872269 208px,#83206a 216px,#7f1f6a 224px,#7d1e6b 232px,#7b1d6b 240px,#7a1d6b 248px,#7a1d6b 256px,#791c6b 264px,#771c6c 272px,#761b6c 273px,#721a6d 277px,#6f196d 280px,#6e186d 281px,#69176e 285px,#65156d 288px,#64156d 289px,#5e136c 293px,#5a126c 296px,#58116b 297px,#520f6a 301px,#4d0e6a 304px,#4c0d69 305px,#460b69 309px,#420a68 312px,#410a67 313px,#3c0a61 317px,#380a5d 320px,#360a5c 321px,#320a57 325px,#2e0a53 328px,#2d0a52 329px,#250b4a 336px,#1e0b42 344px,#180b3c 352px,#150b37 360px,#130a33 368px,#12092f 376px,#11082d 384px,#10082a 392px,#0f0728 400px,#0e0725 408px,#0d0724 416px,#0d0622 424px,#0c0621 432px,#0b061f 440px,#0b051e 448px,#0b051e 456px,#0a051d 464px,#0a051c 472px,#0a051c 480px,#0a051b 488px,#0a051b 493px)"></div><div style="left:238px;width:5px;background:linear-gradient(#04020f 0px,#04020f 8px,#05020f 16px,#050310 24px,#060312 32px,#060314 40px,#070416 48px,#090419 56px,#0a051d 64px,#0d0724 72px,#0e0725 73px,#10082a 77px,#12092f 80px,#120930 81px,#150b37 85px,#1b0b3e 88px,#1d0b40 89px,#280b4d 93px,#320a57 96px,#360a5b 97px,#440b68 101px,#4e0e6a 104px,#510f6a 105px,#5e136c 109px,#68166e 112px,#6c186e 113px,#7a1d6b 117px,#862169 120px,#892269 121px,#982865 125px,#a22c60 128px,#a62e5e 129px,#b63457 133px,#c13b50 136px,#c53e4d 137px,#d14843 141px,#d94e3d 144px,#db503b 145px,#e05536 149px,#e05636 152px,#df5536 153px,#de5239 157px,#db503b 160px,#da4f3c 161px,#d54b40 165px,#d24843 168px,#d04744 169px,#cb4348 173px,#c53e4d 176px,#c33d4e 177px,#bb3655 181px,#b33358 184px,#b0325a 185px,#a62e5e 189px,#9f2b61 192px,#9d2a62 193px,#952766 197px,#8f2568 200px,#8e2468 201px,#84206a 208px,#7f1f6a 216px,#7c1e6b 224px,#791d6b 232px,#781c6c 240px,#771c6c 248px,#771c6c 256px,#761b6c 264px,#731a6c 272px,#731a6c 273px,#6f196d 277px,#6c186e 280px,#6b176e 281px,#66166d 285px,#62156d 288px,#61146d 289px,#5c126c 293px,#57116b 296px,#56106b 297px,#500e6a 301px,#4b0d69 304px,#4a0c69 305px,#440b68 309px,#400a66 312px,#3f0a65 313px,#3a0a5f 317px,#360a5b 320px,#350a5a 321px,#300a55 325px,#2d0a51 328px,#2c0b50 329px,#240b48 336px,#1d0b41 344px,#180b3b 352px,#150a36 360px,#130a32 368px,#12092f 376px,#11082c 384px,#0f0829 392px,#0f0727 400px,#0e0725 408px,#0d0623 416px,#0c0622 424px,#0c0620 432px,#0b061f 440px,#0b051e 448px,#0a051d 456px,#0a051c 464px,#0a051c 472px,#0a051b 480px,#0a051b 493px)"></div><div style="left:243px;width:5px;background:linear-gradient(#04020f 0px,#04020f 8px,#05020f 16px,#050310 24px,#060312 32px,#060314 40px,#070416 48px,#090418 56px,#0a051d 64px,#0d0724 72px,#0e0725 73px,#10082a 77px,#11092e 80px,#120930 81px,#150b37 85px,#1a0b3d 88px,#1c0b40 89px,#270b4c 93px,#310a56 96px,#350a5a 97px,#430a68 101px,#4c0d6a 104px,#500e6a 105px,#5c136c 109px,#66166d 112px,#6a176e 113px,#781c6c 117px,#83206a 120px,#872269 121px,#952766 125px,#9f2b61 128px,#a32d60 129px,#b23358 133px,#be3952 136px,#c23c4f 137px,#ce4546 141px,#d64c3f 144px,#d84d3e 145px,#dd513a 149px,#dd5239 152px,#dd513a 153px,#db4f3c 157px,#d84d3e 160px,#d74c3f 161px,#d24942 165px,#cf4645 168px,#cd4546 169px,#c8414a 173px,#c23c4f 176px,#c03a51 177px,#b73556 181px,#af325a 184px,#ac315b 185px,#a32c60 189px,#9c2a63 192px,#9a2964 193px,#922567 197px,#8c2368 200px,#8a2369 201px,#801f6a 208px,#7c1e6b 216px,#791c6c 224px,#761b6c 232px,#751b6c 240px,#741b6c 248px,#731a6c 256px,#721a6d 264px,#70196d 272px,#70196d 273px,#6c186e 277px,#69176e 280px,#68166e 281px,#63156d 285px,#60146c 288px,#5e136c 289px,#59126b 293px,#55106b 296px,#54106b 297px,#4e0e6a 301px,#490c69 304px,#480c69 305px,#420a68 309px,#3e0a64 312px,#3d0a63 313px,#380a5d 317px,#340a59 320px,#330a58 321px,#2f0a53 325px,#2b0b50 328px,#2a0b4e 329px,#230b47 336px,#1c0b40 344px,#170b3a 352px,#140a35 360px,#130931 368px,#11092e 376px,#10082b 384px,#0f0829 392px,#0e0726 400px,#0d0724 408px,#0d0623 416px,#0c0621 424px,#0c0620 432px,#0b061f 440px,#0b051e 448px,#0a051d 456px,#0a051c 464px,#0a051b 472px,#09051b 480px,#09051b 493px)"></div><div style="left:248px;width:5px;background:linear-gradient(#04020f 0px,#04020f 8px,#05020f 16px,#050310 24px,#060312 32px,#060313 40px,#070416 48px,#080418 56px,#0a051d 64px,#0d0623 72px,#0d0724 73px,#0f0829 77px,#11092d 80px,#12092f 81px,#150a36 85px,#190b3c 88px,#1c0b3f 89px,#270b4b 93px,#300a55 96px,#330a58 97px,#410a67 101px,#4b0d69 104px,#4e0e6a 105px,#5a126c 109px,#64156d 112px,#68166e 113px,#761b6c 117px,#811f6a 120px,#84216a 121px,#922667 125px,#9c2a63 128px,#a02b61 129px,#af325a 133px,#bb3754 136px,#bf3952 137px,#cb4348 141px,#d34942 144px,#d54b40 145px,#da4f3c 149px,#da4f3c 153px,#d74d3e 157px,#d54a41 160px,#d44a41 161px,#cf4645 165px,#cb4348 168px,#ca4249 169px,#c53e4d 173px,#bf3952 176px,#bd3853 177px,#b33358 181px,#ab305c 184px,#a92f5d 185px,#9f2b61 189px,#982865 192px,#962766 193px,#8e2468 197px,#882269 200px,#862169 201px,#7d1e6b 208px,#791c6c 216px,#751b6c 224px,#731a6c 232px,#711a6d 240px,#71196d 248px,#70196d 256px,#6f196d 264px,#6d186d 272px,#6d186e 273px,#69176e 277px,#66166d 280px,#65156d 281px,#61146d 285px,#5d136c 288px,#5c126c 289px,#57116b 293px,#530f6a 296px,#510f6a 297px,#4b0d69 301px,#470c69 304px,#460b69 305px,#400a66 309px,#3c0a62 312px,#3b0a61 313px,#360a5b 317px,#330a58 320px,#310a56 321px,#2d0a52 325px,#2a0b4e 328px,#290b4d 329px,#220b46 336px,#1b0b3e 344px,#160b39 352px,#140a34 360px,#120930 368px,#11092d 376px,#10082a 384px,#0f0728 392px,#0e0726 400px,#0d0724 408px,#0d0622 416px,#0c0621 424px,#0b061f 432px,#0b051e 440px,#0a051d 448px,#0a051c 456px,#0a051c 464px,#0a051b 472px,#09051b 480px,#09051a 488px,#09051a 493px)"></div><div style="left:253px;width:5px;background:linear-gradient(#04020f 0px,#04020f 8px,#05020f 16px,#050310 24px,#060312 32px,#060313 40px,#070415 48px,#080418 56px,#0a051c 64px,#0d0623 72px,#0d0724 73px,#0f0829 77px,#11082d 80px,#12092e 81px,#140a35 85px,#180b3c 88px,#1b0b3e 89px,#260b4a 93px,#2f0a54 96px,#320a57 97px,#400a66 101px,#490c69 104px,#4c0d6a 105px,#59116b 109px,#62156d 112px,#66166d 113px,#731a6c 117px,#7e1e6b 120px,#82206a 121px,#8f2568 125px,#992964 128px,#9c2a63 129px,#ac305c 133px,#b83556 136px,#bc3754 137px,#c8404b 141px,#cf4645 144px,#d14843 145px,#d64c3f 149px,#d74c3f 152px,#d64c3f 153px,#d44a41 157px,#d14843 160px,#d04744 161px,#cc4348 165px,#c8404b 168px,#c7404b 169px,#c23c4f 173px,#bc3754 176px,#b93655 177px,#af325a 181px,#a72e5e 184px,#a52d5f 185px,#9b2963 189px,#942766 192px,#922667 193px,#8a2368 197px,#852169 200px,#83206a 201px,#791d6b 208px,#751b6c 216px,#721a6d 224px,#6f196d 232px,#6e196d 240px,#6d186d 248px,#6d186e 256px,#6c186e 264px,#6a176e 272px,#69176e 273px,#66166d 277px,#63156d 280px,#62146d 281px,#5e136c 285px,#5a126c 288px,#59126b 289px,#54106b 293px,#500f6a 296px,#4f0e6a 297px,#490c69 301px,#450b68 304px,#440b68 305px,#3e0a64 309px,#3a0a60 312px,#390a5f 313px,#340a59 317px,#310a56 320px,#300a55 321px,#2b0b50 325px,#280b4c 328px,#270b4b 329px,#200b44 336px,#1a0b3d 344px,#150b37 352px,#140a33 360px,#12092f 368px,#11082c 376px,#10082a 384px,#0f0727 392px,#0e0725 400px,#0d0623 408px,#0c0622 416px,#0c0620 424px,#0b061f 432px,#0b051e 440px,#0a051d 448px,#0a051c 456px,#0a051b 464px,#09051b 472px,#09051a 480px,#09051a 493px)"></div><div style="left:258px;width:5px;background:linear-gradient(#04020f 0px,#04020f 8px,#05020f 16px,#050210 24px,#060311 32px,#060313 40px,#070415 48px,#080418 56px,#0a051c 64px,#0d0622 72px,#0d0723 73px,#0f0728 77px,#11082c 80px,#11092e 81px,#140a34 85px,#180b3b 88px,#1a0b3d 89px,#250b49 93px,#2e0a52 96px,#310a56 97px,#3e0a64 101px,#480c69 104px,#4b0d69 105px,#57116b 109px,#60146d 112px,#64156d 113px,#711a6d 117px,#7b1d6b 120px,#7f1f6a 121px,#8c2368 125px,#962766 128px,#992964 129px,#a82f5d 133px,#b43458 136px,#b83556 137px,#c43e4d 141px,#cc4348 144px,#ce4546 145px,#d34942 149px,#d34942 153px,#d04744 157px,#ce4546 160px,#cd4447 161px,#c8414a 165px,#c53e4d 168px,#c33d4e 169px,#be3952 173px,#b83556 176px,#b53457 177px,#ab305c 181px,#a32d5f 184px,#a12c61 185px,#972865 189px,#912567 192px,#8f2468 193px,#872169 197px,#811f6a 200px,#7f1f6a 201px,#761b6c 208px,#721a6d 216px,#6e196d 224px,#6c186e 232px,#6b176e 240px,#6a176e 248px,#6a176e 256px,#69176e 264px,#67166e 272px,#66166d 273px,#63156d 277px,#60146d 280px,#5f136c 281px,#5b126c 285px,#58116b 288px,#57116b 289px,#520f6a 293px,#4e0e6a 296px,#4c0d6a 297px,#470c69 301px,#430a68 304px,#410a67 305px,#3c0a62 309px,#380a5e 312px,#370a5c 313px,#330a57 317px,#2f0a54 320px,#2e0a53 321px,#2a0b4e 325px,#270b4b 328px,#260b4a 329px,#1f0b43 336px,#190b3c 344px,#150a36 352px,#130a32 360px,#12092e 368px,#10082b 376px,#0f0829 384px,#0e0727 392px,#0d0724 400px,#0d0623 408px,#0c0621 416px,#0b0620 424px,#0b051e 432px,#0b051d 440px,#0a051c 448px,#0a051c 456px,#0a051b 464px,#09051a 472px,#09051a 480px,#09041a 488px,#09041a 493px)"></div><div style="left:263px;width:5px;background:linear-gradient(#04020f 0px,#04020f 8px,#05020f 16px,#050210 24px,#060311 32px,#060313 40px,#070415 48px,#080418 56px,#0a051c 64px,#0c0622 72px,#0d0623 73px,#0f0727 77px,#10082c 80px,#11092d 81px,#140a34 85px,#170b3a 88px,#190b3c 89px,#230b47 93px,#2c0a51 96px,#300a54 97px,#3d0a62 101px,#460b69 104px,#490c69 105px,#55106b 109px,#5e136c 112px,#61146d 113px,#6e196d 117px,#781c6c 120px,#7c1e6b 121px,#892269 125px,#922667 128px,#962766 129px,#a42d5f 133px,#b0325a 136px,#b43458 137px,#c13b50 141px,#c8404b 144px,#ca4249 145px,#cf4645 149px,#cf4645 153px,#cc4447 157px,#ca4249 160px,#c9414a 161px,#c53e4d 165px,#c13b50 168px,#c03a51 169px,#bb3755 173px,#b43458 176px,#b13259 177px,#a72e5e 181px,#9f2b61 184px,#9d2a62 185px,#932667 189px,#8d2468 192px,#8b2368 193px,#83206a 197px,#7d1e6b 200px,#7b1d6b 201px,#721a6d 208px,#6e186d 216px,#6b176e 224px,#69176e 232px,#67166e 240px,#67166e 248px,#66166d 256px,#65166d 264px,#64156d 272px,#63156d 273px,#60146d 277px,#5d136c 280px,#5c136c 281px,#58116b 285px,#55106b 288px,#54106b 289px,#4f0e6a 293px,#4b0d69 296px,#4a0d69 297px,#450b68 301px,#410a66 304px,#3f0a65 305px,#3a0a5f 309px,#360a5c 312px,#350a5a 313px,#310a55 317px,#2d0a52 320px,#2c0a51 321px,#280b4c 325px,#250b49 328px,#240b48 329px,#1e0b41 336px,#180b3b 344px,#140a35 352px,#130931 360px,#11092d 368px,#10082b 376px,#0f0728 384px,#0e0726 392px,#0d0724 400px,#0c0622 408px,#0c0621 416px,#0b061f 424px,#0b051e 432px,#0a051d 440px,#0a051c 448px,#0a051b 456px,#09051b 464px,#09051a 472px,#09041a 480px,#090419 488px,#090419 493px)"></div><div style="left:268px;width:5px;background:linear-gradient(#04020f 0px,#04020f 8px,#05020f 16px,#050210 24px,#060311 32px,#060313 40px,#070415 48px,#080418 56px,#0a051c 64px,#0c0622 72px,#0d0622 73px,#0f0727 77px,#10082b 80px,#11082c 81px,#130a33 85px,#160b39 88px,#180b3b 89px,#220b46 93px,#2b0b50 96px,#2e0a53 97px,#3b0a61 101px,#440b68 104px,#470c69 105px,#530f6b 109px,#5c126c 112px,#5f136c 113px,#6c186e 117px,#761b6c 120px,#791c6b 121px,#862169 125px,#8f2568 128px,#922667 129px,#a02c61 133px,#ac305c 136px,#af325a 137px,#bd3853 141px,#c43d4e 144px,#c63f4c 145px,#cb4348 149px,#cb4348 153px,#c9414a 157px,#c63f4c 160px,#c53e4d 161px,#c13b50 165px,#bd3853 168px,#bc3754 169px,#b63557 173px,#af325a 176px,#ad315b 177px,#a32d60 181px,#9b2963 184px,#992864 185px,#8f2568 189px,#892269 192px,#872269 193px,#7f1f6a 197px,#791d6b 200px,#781c6c 201px,#6e186d 208px,#6a176e 216px,#67166e 224px,#65156d 232px,#64156d 240px,#64156d 248px,#63156d 256px,#62146d 264px,#60146d 272px,#60146c 273px,#5d136c 277px,#5a126c 280px,#59126b 281px,#55106b 285px,#520f6a 288px,#510f6a 289px,#4c0d6a 293px,#490c69 296px,#480c69 297px,#420a68 301px,#3e0a64 304px,#3d0a62 305px,#380a5d 309px,#340a59 312px,#330a58 313px,#2f0a53 317px,#2c0b50 320px,#2b0b4f 321px,#270b4b 325px,#240b48 328px,#230b47 329px,#1d0b40 336px,#170b3a 344px,#140a34 352px,#120930 360px,#11082d 368px,#10082a 376px,#0f0727 384px,#0e0725 392px,#0d0623 400px,#0c0621 408px,#0c0620 416px,#0b061f 424px,#0b051e 432px,#0a051c 440px,#0a051c 448px,#0a051b 456px,#09051a 464px,#09051a 472px,#090419 480px,#090419 493px)"></div><div style="left:273px;width:5px;background:linear-gradient(#04020f 0px,#04020f 8px,#05020f 16px,#050210 24px,#060311 32px,#060313 40px,#070415 48px,#080417 56px,#0a051b 64px,#0c0621 72px,#0c0622 73px,#0e0726 77px,#10082a 80px,#10082c 81px,#130a32 85px,#160b38 88px,#170b3a 89px,#210b45 93px,#2a0b4e 96px,#2d0a51 97px,#390a5f 101px,#430a68 104px,#460b69 105px,#510f6a 109px,#5a126c 112px,#5d136c 113px,#69176e 117px,#731a6d 120px,#761b6c 121px,#82206a 125px,#8b2368 128px,#8f2468 129px,#9c2a63 133px,#a72e5e 136px,#ab305c 137px,#b93655 141px,#c03a51 144px,#c23c4f 145px,#c7404b 149px,#c7404b 152px,#c73f4c 153px,#c53e4d 157px,#c23c4f 160px,#c13b50 161px,#bd3853 165px,#b93655 168px,#b83556 169px,#b23359 173px,#ab305c 176px,#a82f5d 177px,#9e2b62 181px,#972865 184px,#952766 185px,#8b2368 189px,#852169 192px,#83206a 193px,#7b1d6b 197px,#751b6c 200px,#741b6c 201px,#6a176e 208px,#67166e 216px,#64156d 224px,#62146d 232px,#61146d 240px,#60146d 248px,#60146c 256px,#5f136c 264px,#5d136c 272px,#5d136c 273px,#5a126c 277px,#57116b 280px,#56116b 281px,#530f6a 285px,#4f0e6a 288px,#4e0e6a 289px,#4a0d69 293px,#460b69 296px,#450b68 297px,#400a66 301px,#3c0a61 304px,#3b0a60 305px,#360a5b 309px,#320a57 312px,#310a56 313px,#2d0a51 317px,#2a0b4e 320px,#290b4d 321px,#250b49 325px,#220b46 328px,#210b45 329px,#1b0b3f 336px,#160b38 344px,#130a33 352px,#12092f 360px,#10082c 368px,#0f0829 376px,#0e0727 384px,#0d0724 392px,#0d0623 400px,#0c0621 408px,#0b061f 416px,#0b051e 424px,#0a051d 432px,#0a051c 440px,#0a051b 448px,#09051b 456px,#09051a 464px,#090419 472px,#090419 493px)"></div><div style="left:278px;width:5px;background:linear-gradient(#04020f 0px,#04020f 8px,#05020f 16px,#050210 24px,#050311 32px,#060313 40px,#070315 48px,#080417 56px,#0a051b 64px,#0c0621 72px,#0c0622 73px,#0e0726 77px,#10082a 80px,#10082b 81px,#130931 85px,#150b37 88px,#160b3a 89px,#200b44 93px,#290b4d 96px,#2b0b50 97px,#380a5d 101px,#410a67 104px,#440b68 105px,#4f0e6a 109px,#57116b 112px,#5a126c 113px,#66166d 117px,#70196d 120px,#731a6d 121px,#7f1f6a 125px,#882269 128px,#8b2368 129px,#982865 133px,#a32d60 136px,#a72e5e 137px,#b43458 141px,#bc3754 144px,#be3952 145px,#c33c4f 149px,#c33c4f 153px,#c03b50 157px,#be3952 160px,#bd3853 161px,#b83556 165px,#b43458 168px,#b33358 169px,#ad315b 173px,#a62e5e 176px,#a42d5f 177px,#9a2964 181px,#932667 184px,#912567 185px,#872269 189px,#811f6a 192px,#7f1f6a 193px,#781c6c 197px,#721a6d 200px,#70196d 201px,#67166e 208px,#64156d 216px,#61146d 224px,#5f136c 232px,#5e136c 240px,#5d136c 248px,#5d136c 256px,#5c136c 264px,#5b126c 272px,#5a126c 273px,#57116b 277px,#55106b 280px,#54106b 281px,#500f6a 285px,#4d0e6a 288px,#4c0d6a 289px,#480c69 293px,#440b68 296px,#430a68 297px,#3e0a64 301px,#3a0a5f 304px,#390a5e 305px,#340a59 309px,#310a55 312px,#2f0a54 313px,#2b0b50 317px,#280b4d 320px,#270b4c 321px,#240b48 325px,#210b45 328px,#200b44 329px,#1a0b3d 336px,#150b37 344px,#130a32 352px,#11092e 360px,#10082b 368px,#0f0828 376px,#0e0726 384px,#0d0724 392px,#0c0622 400px,#0c0620 408px,#0b061f 416px,#0b051e 424px,#0a051d 432px,#0a051c 440px,#09051b 448px,#09051a 456px,#09041a 464px,#090419 472px,#090419 480px,#080418 488px,#080418 493px)"></div><div style="left:283px;width:5px;background:linear-gradient(#04020f 0px,#04020f 8px,#05020f 16px,#050210 24px,#050311 32px,#060313 40px,#070315 48px,#080417 56px,#09051b 64px,#0c0620 72px,#0c0621 73px,#0e0725 77px,#0f0829 80px,#10082a 81px,#120930 85px,#150a36 88px,#160b39 89px,#1f0b43 93px,#270b4b 96px,#2a0b4e 97px,#360a5b 101px,#3f0a65 104px,#420a68 105px,#4c0d6a 109px,#55106b 112px,#58116b 113px,#64156d 117px,#6d186e 120px,#70196d 121px,#7c1d6b 125px,#84216a 128px,#872269 129px,#942766 133px,#9f2b62 136px,#a22c60 137px,#af325a 141px,#b73556 144px,#ba3655 145px,#be3952 149px,#bf3952 152px,#be3952 153px,#bc3754 157px,#b93655 160px,#b83556 161px,#b33358 165px,#b0325a 168px,#ae315a 169px,#a92f5d 173px,#a22c60 176px,#a02b61 177px,#962766 181px,#8f2568 184px,#8d2468 185px,#84206a 189px,#7e1e6b 192px,#7c1d6b 193px,#741b6c 197px,#6f196d 200px,#6d186d 201px,#65156d 208px,#61146d 216px,#5e136c 224px,#5d136c 232px,#5b126c 240px,#5b126c 248px,#5a126c 256px,#5a126c 264px,#58116b 272px,#58116b 273px,#55106b 277px,#520f6a 280px,#510f6a 281px,#4e0e6a 285px,#4b0d69 288px,#4a0d69 289px,#460b69 293px,#420a68 296px,#410a67 297px,#3c0a62 301px,#380a5d 304px,#370a5c 305px,#320a57 309px,#2f0a54 312px,#2e0a53 313px,#2a0b4e 317px,#270b4b 320px,#260b4a 321px,#220b46 325px,#200b43 328px,#1f0b42 329px,#190b3c 336px,#150a36 344px,#130931 352px,#11092d 360px,#10082a 368px,#0f0728 376px,#0e0725 384px,#0d0623 392px,#0c0621 400px,#0c0620 408px,#0b061f 416px,#0b051d 424px,#0a051c 432px,#0a051b 440px,#09051b 448px,#09051a 456px,#090419 464px,#090419 472px,#080418 480px,#080418 493px)"></div><div style="left:288px;width:5px;background:linear-gradient(#04020f 0px,#04020f 8px,#05020f 16px,#050210 24px,#050311 32px,#060313 40px,#070314 48px,#080417 56px,#09051a 64px,#0b0620 72px,#0c0621 73px,#0e0725 77px,#0f0828 80px,#10082a 81px,#12092f 85px,#140a35 88px,#150b37 89px,#1e0b41 93px,#260b4a 96px,#290b4d 97px,#340a59 101px,#3d0a62 104px,#400a66 105px,#4a0d69 109px,#520f6a 112px,#55106b 113px,#61146d 117px,#69176e 120px,#6c186e 121px,#781c6c 125px,#801f6a 128px,#83206a 129px,#902567 133px,#9a2964 136px,#9e2a62 137px,#ab305c 141px,#b23358 144px,#b43457 145px,#ba3655 149px,#ba3655 153px,#b73556 157px,#b43458 160px,#b33358 161px,#ae315a 165px,#ab305c 168px,#a92f5d 169px,#a42d5f 173px,#9d2a62 176px,#9b2963 177px,#922667 181px,#8b2368 184px,#892269 185px,#801f6a 189px,#7a1d6b 192px,#781c6c 193px,#711a6d 197px,#6c186e 200px,#6a176e 201px,#62146d 208px,#5e136c 216px,#5c126c 224px,#5a126c 232px,#59116b 240px,#58116b 248px,#58116b 256px,#57116b 264px,#56106b 272px,#55106b 273px,#520f6a 277px,#500f6a 280px,#4f0e6a 281px,#4c0d69 285px,#490c69 288px,#480c69 289px,#440b68 293px,#400a66 296px,#3f0a65 297px,#3a0a5f 301px,#360a5b 304px,#350a5a 305px,#310a55 309px,#2d0a52 312px,#2c0a51 313px,#280b4d 317px,#260b4a 320px,#250b49 321px,#210b45 325px,#1f0b42 328px,#1e0b41 329px,#180b3b 336px,#140a35 344px,#120930 352px,#11082c 360px,#100829 368px,#0e0727 376px,#0e0725 384px,#0d0623 392px,#0c0621 400px,#0b061f 408px,#0b051e 416px,#0a051d 424px,#0a051c 432px,#0a051b 440px,#09051a 448px,#09041a 456px,#090419 464px,#090419 472px,#080418 480px,#080418 493px)"></div><div style="left:293px;width:5px;background:linear-gradient(#04020f 0px,#04020f 8px,#05020f 16px,#050210 24px,#050311 32px,#060313 40px,#070314 48px,#080416 56px,#09051a 64px,#0b061f 72px,#0c0620 73px,#0d0724 77px,#0f0727 80px,#0f0829 81px,#12092e 85px,#140a34 88px,#150a36 89px,#1d0b40 93px,#240b48 96px,#270b4b 97px,#320a57 101px,#3b0a60 104px,#3e0a63 105px,#480c69 109px,#500f6a 112px,#530f6b 113px,#5e136c 117px,#66166d 120px,#69176e 121px,#751b6c 125px,#7d1e6b 128px,#7f1f6a 129px,#8c2368 133px,#962766 136px,#992964 137px,#a62e5e 141px,#ad315b 144px,#af325a 145px,#b43458 149px,#b53457 152px,#b43458 153px,#b23359 157px,#af325a 160px,#ae315a 161px,#a92f5d 165px,#a62e5e 168px,#a52d5f 169px,#9f2b61 173px,#992864 176px,#972865 177px,#8e2468 181px,#872269 184px,#852169 185px,#7c1e6b 189px,#761c6c 192px,#751b6c 193px,#6e186d 197px,#69176e 200px,#67166e 201px,#5f136c 208px,#5c126c 216px,#59126b 224px,#57116b 232px,#56116b 240px,#56106b 248px,#55106b 256px,#55106b 264px,#53106b 272px,#530f6b 273px,#500f6a 277px,#4e0e6a 280px,#4d0e6a 281px,#490c69 285px,#470c69 288px,#460b69 289px,#420a68 293px,#3e0a64 296px,#3d0a63 297px,#380a5d 301px,#340a59 304px,#330a58 305px,#2f0a54 309px,#2c0b50 312px,#2b0b4f 313px,#270b4b 317px,#240b48 320px,#230b47 321px,#200b44 325px,#1d0b41 328px,#1c0b40 329px,#170b3a 336px,#140a34 344px,#12092f 352px,#10082c 360px,#0f0829 368px,#0e0726 376px,#0d0724 384px,#0d0622 392px,#0c0620 400px,#0b061f 408px,#0b051e 416px,#0a051d 424px,#0a051c 432px,#09051b 440px,#09051a 448px,#090419 456px,#090419 464px,#080418 472px,#080418 493px)"></div><div style="left:298px;width:5px;background:linear-gradient(#04020f 0px,#04020f 8px,#05020f 16px,#050210 24px,#050311 32px,#060312 40px,#070314 48px,#080416 56px,#09051a 64px,#0b061f 72px,#0b0620 73px,#0d0723 77px,#0e0727 80px,#0f0728 81px,#11092e 85px,#130a33 88px,#140a35 89px,#1b0b3f 93px,#230b47 96px,#260b4a 97px,#300a55 101px,#390a5e 104px,#3b0a61 105px,#460b69 109px,#4e0e6a 112px,#500f6a 113px,#5b126c 117px,#63156d 120px,#66166d 121px,#711a6d 125px,#791c6b 128px,#7b1d6b 129px,#882269 133px,#912567 136px,#942766 137px,#a12c61 141px,#a82f5d 144px,#aa2f5c 145px,#af325a 149px,#af325a 153px,#ad315b 157px,#aa2f5c 160px,#a92f5d 161px,#a42d5f 165px,#a12c61 168px,#a02b61 169px,#9a2964 173px,#942666 176px,#922667 177px,#892269 181px,#83206a 184px,#811f6a 185px,#781c6c 189px,#731a6d 192px,#711a6d 193px,#6a176e 197px,#65166d 200px,#64156d 201px,#5c126c 208px,#59116b 216px,#56116b 224px,#55106b 232px,#54106b 240px,#53106b 248px,#530f6a 256px,#520f6a 264px,#510f6a 272px,#500f6a 273px,#4e0e6a 277px,#4b0d69 280px,#4a0d69 281px,#470c69 285px,#440b68 288px,#440a68 289px,#3f0a65 293px,#3c0a62 296px,#3b0a60 297px,#360a5b 301px,#320a57 304px,#310a56 305px,#2d0a52 309px,#2a0b4e 312px,#290b4d 313px,#250b49 317px,#230b47 320px,#220b46 321px,#1f0b42 325px,#1c0b3f 328px,#1b0b3f 329px,#160b39 336px,#140a33 344px,#12092e 352px,#10082b 360px,#0f0728 368px,#0e0726 376px,#0d0723 384px,#0c0622 392px,#0c0620 400px,#0b061f 408px,#0a051d 416px,#0a051c 424px,#0a051b 432px,#09051a 440px,#09041a 448px,#090419 456px,#080418 464px,#080418 480px,#080417 488px,#080417 493px)"></div><div style="left:303px;width:5px;background:linear-gradient(#04020f 0px,#04020f 8px,#05020f 16px,#050210 24px,#050311 32px,#060312 40px,#070314 48px,#070416 56px,#090419 64px,#0b051e 72px,#0b061f 73px,#0d0623 77px,#0e0726 80px,#0f0727 81px,#11082d 85px,#130a32 88px,#140a34 89px,#1a0b3d 93px,#210b45 96px,#240b48 97px,#2f0a53 101px,#370a5c 104px,#390a5f 105px,#430a68 109px,#4b0d69 112px,#4e0e6a 113px,#58116b 117px,#60146c 120px,#63156d 121px,#6d186d 125px,#751b6c 128px,#771c6c 129px,#83206a 133px,#8c2468 136px,#902568 137px,#9b2963 141px,#a22c60 144px,#a42d5f 145px,#a92f5d 149px,#a92f5d 153px,#a72e5e 157px,#a42d5f 160px,#a32d5f 161px,#9f2b62 165px,#9b2963 168px,#9a2964 169px,#952766 173px,#8f2568 176px,#8d2468 177px,#852169 181px,#7e1e6b 184px,#7c1e6b 185px,#741b6c 189px,#6f196d 192px,#6d186d 193px,#67166e 197px,#62146d 200px,#61146d 201px,#59116b 208px,#56106b 216px,#54106b 224px,#520f6a 232px,#510f6a 240px,#500f6a 248px,#500f6a 256px,#4f0e6a 264px,#4e0e6a 272px,#4d0e6a 273px,#4b0d69 277px,#490c69 280px,#480c69 281px,#450b68 285px,#420a68 288px,#410a67 289px,#3d0a63 293px,#3a0a5f 296px,#390a5e 297px,#340a59 301px,#300a55 304px,#2f0a54 305px,#2b0b50 309px,#280b4d 312px,#270b4c 313px,#240b48 317px,#210b45 320px,#200b44 321px,#1d0b41 325px,#1b0b3e 328px,#1a0b3d 329px,#150b38 336px,#130a32 344px,#11092d 352px,#10082a 360px,#0f0727 368px,#0e0725 376px,#0d0623 384px,#0c0621 392px,#0b061f 400px,#0b051e 408px,#0a051d 416px,#0a051c 424px,#09051b 432px,#09051a 440px,#090419 448px,#090419 456px,#080418 464px,#080418 472px,#080417 480px,#080417 493px)"></div><div style="left:308px;width:5px;background:linear-gradient(#04020f 0px,#04020f 8px,#05020f 16px,#050210 24px,#050311 32px,#060312 40px,#070314 48px,#070416 56px,#090419 64px,#0b051e 72px,#0b051e 73px,#0c0622 77px,#0e0725 80px,#0e0726 81px,#10082c 85px,#130931 88px,#130a33 89px,#190b3c 93px,#200b44 96px,#220b46 97px,#2d0a51 101px,#340a59 104px,#370a5c 105px,#410a67 109px,#480c69 112px,#4b0d69 113px,#55106b 117px,#5d136c 120px,#5f136c 121px,#69176e 125px,#71196d 128px,#731a6c 129px,#7e1e6b 133px,#872269 136px,#8b2368 137px,#962766 141px,#9d2a63 144px,#9f2b62 145px,#a32d5f 149px,#a32d5f 153px,#a12c61 157px,#9e2b62 160px,#9e2a62 161px,#992964 165px,#962766 168px,#952766 169px,#902568 173px,#8a2369 176px,#882269 177px,#801f6a 181px,#7a1d6b 184px,#781c6c 185px,#70196d 189px,#6b176e 192px,#69176e 193px,#63156d 197px,#5f136c 200px,#5d136c 201px,#56106b 208px,#530f6b 216px,#510f6a 224px,#4f0e6a 232px,#4e0e6a 240px,#4d0e6a 248px,#4d0e6a 256px,#4c0d6a 264px,#4b0d69 272px,#4b0d69 273px,#480c69 277px,#460b69 280px,#450b68 281px,#420a68 285px,#400a65 288px,#3f0a64 289px,#3b0a60 293px,#370a5d 296px,#360a5c 297px,#320a57 301px,#2e0a53 304px,#2d0a52 305px,#290b4e 309px,#270b4b 312px,#260b4a 313px,#220b46 317px,#200b43 320px,#1f0b43 321px,#1c0b3f 325px,#190b3d 328px,#190b3c 329px,#150a36 336px,#130931 344px,#11082c 352px,#0f0829 360px,#0e0726 368px,#0d0724 376px,#0d0622 384px,#0c0620 392px,#0b061f 400px,#0b051e 408px,#0a051c 416px,#0a051b 424px,#09051a 432px,#09041a 440px,#090419 448px,#080418 456px,#080418 464px,#080417 472px,#080417 493px)"></div><div style="left:313px;width:5px;background:linear-gradient(#04020f 0px,#04020f 8px,#05020f 16px,#050210 24px,#050311 32px,#060312 40px,#060314 48px,#070415 56px,#090419 64px,#0a051d 72px,#0b051e 73px,#0c0621 77px,#0d0724 80px,#0e0726 81px,#10082a 85px,#12092f 88px,#130931 89px,#170b3b 93px,#1e0b42 96px,#210b44 97px,#2a0b4f 101px,#320a57 104px,#340a59 105px,#3e0a64 109px,#450b69 112px,#480c69 113px,#520f6a 117px,#59116b 120px,#5b126c 121px,#65156d 125px,#6c186e 128px,#6f196d 129px,#791d6b 133px,#82206a 136px,#852169 137px,#902568 141px,#972865 144px,#982864 145px,#9d2a62 149px,#9d2a62 153px,#9b2963 157px,#982865 160px,#972865 161px,#932667 165px,#902567 168px,#8f2568 169px,#8a2368 173px,#852169 176px,#83206a 177px,#7b1d6b 181px,#751b6c 184px,#731a6c 185px,#6c186e 189px,#67166e 192px,#65156d 193px,#5f136c 197px,#5b126c 200px,#5a126c 201px,#520f6a 208px,#500e6a 216px,#4d0e6a 224px,#4c0d69 232px,#4b0d69 240px,#4a0d69 248px,#4a0d69 256px,#490c69 264px,#480c69 272px,#480c69 273px,#450b69 277px,#430a68 280px,#430a68 281px,#3f0a65 285px,#3d0a62 288px,#3c0a61 289px,#380a5d 293px,#350a5a 296px,#340a59 297px,#2f0a54 301px,#2c0a51 304px,#2b0b50 305px,#270b4c 309px,#250b49 312px,#240b48 313px,#200b44 317px,#1e0b42 320px,#1d0b41 321px,#1a0b3e 325px,#180b3b 328px,#170b3a 329px,#140a35 336px,#12092f 344px,#10082b 352px,#0f0728 360px,#0e0725 368px,#0d0623 376px,#0c0621 384px,#0c0620 392px,#0b051e 400px,#0a051d 408px,#0a051c 416px,#09051b 424px,#09051a 432px,#090419 440px,#090419 448px,#080418 456px,#080417 464px,#080417 493px)"></div><div style="left:318px;width:5px;background:linear-gradient(#04020f 0px,#04020f 8px,#05020f 16px,#050210 24px,#050311 32px,#060312 40px,#060313 48px,#070415 56px,#080418 64px,#0a051d 72px,#0a051d 73px,#0c0621 77px,#0d0724 80px,#0e0725 81px,#0f0829 85px,#11092e 88px,#120930 89px,#160b39 93px,#1c0b40 96px,#1f0b42 97px,#280b4c 101px,#2f0a54 104px,#320a56 105px,#3b0a60 109px,#420a68 112px,#450b68 113px,#4e0e6a 117px,#55106b 120px,#57116b 121px,#61146d 125px,#67166e 128px,#6a176e 129px,#741b6c 133px,#7c1e6b 136px,#7f1f6a 137px,#8a2369 141px,#902568 144px,#922667 145px,#962766 149px,#962765 152px,#962766 153px,#942667 157px,#922667 160px,#912567 161px,#8d2468 165px,#8a2369 168px,#892269 169px,#842169 173px,#7f1f6a 176px,#7d1e6b 177px,#761b6c 181px,#70196d 184px,#6e186d 185px,#67166e 189px,#62146d 192px,#61146d 193px,#5b126c 197px,#57116b 200px,#56106b 201px,#4f0e6a 208px,#4c0d6a 216px,#4a0d69 224px,#480c69 232px,#480c69 240px,#470c69 248px,#470c69 256px,#460b69 264px,#450b68 272px,#440b68 273px,#420a68 277px,#400a66 280px,#3f0a65 281px,#3c0a62 285px,#3a0a5f 288px,#390a5e 289px,#350a5a 293px,#320a57 296px,#310a56 297px,#2d0a52 301px,#2a0b4e 304px,#290b4d 305px,#250b49 309px,#230b47 312px,#220b46 313px,#1f0b42 317px,#1c0b40 320px,#1c0b3f 321px,#190b3c 325px,#170b3a 328px,#160b39 329px,#140a33 336px,#11092e 344px,#10082a 352px,#0e0727 360px,#0d0724 368px,#0d0622 376px,#0c0621 384px,#0b061f 392px,#0b051e 400px,#0a051c 408px,#0a051b 416px,#09051a 424px,#090419 432px,#090419 440px,#080418 448px,#080418 456px,#080417 464px,#080417 472px,#080416 480px,#080416 493px)"></div><div style="left:323px;width:5px;background:linear-gradient(#04020f 0px,#04020f 8px,#05020f 16px,#050210 24px,#050311 32px,#060312 40px,#060313 48px,#070415 56px,#080418 64px,#0a051c 72px,#0a051d 73px,#0c0620 77px,#0d0623 80px,#0d0724 81px,#0f0728 85px,#11082d 88px,#12092e 89px,#150b37 93px,#1b0b3e 96px,#1d0b40 97px,#260b4a 101px,#2d0a51 104px,#2f0a53 105px,#380a5d 109px,#3f0a64 112px,#410a67 113px,#4a0d69 117px,#510f6a 120px,#53106b 121px,#5c126c 125px,#62156d 128px,#64156d 129px,#6e196d 133px,#761c6c 136px,#791c6b 137px,#83206a 141px,#892269 144px,#8b2368 145px,#8f2468 149px,#8f2568 152px,#8f2468 153px,#8d2468 157px,#8b2368 160px,#8a2369 161px,#862169 165px,#83206a 168px,#82206a 169px,#7e1e6b 173px,#791c6b 176px,#771c6c 177px,#70196d 181px,#6a176e 184px,#69176e 185px,#62146d 189px,#5d136c 192px,#5c126c 193px,#57116b 197px,#530f6b 200px,#510f6a 201px,#4b0d69 208px,#480c69 216px,#460b69 224px,#450b68 232px,#440b68 240px,#440b68 248px,#430a68 256px,#430a68 264px,#410a67 272px,#410a67 273px,#3f0a64 277px,#3d0a62 280px,#3c0a61 281px,#390a5e 285px,#360a5c 288px,#360a5b 289px,#320a57 293px,#2f0a54 296px,#2e0a53 297px,#2a0b4f 301px,#270b4c 304px,#260b4b 305px,#230b47 309px,#200b44 312px,#200b43 313px,#1d0b40 317px,#1a0b3e 320px,#1a0b3d 321px,#170b3a 325px,#150b38 328px,#150b37 329px,#130932 336px,#11082d 344px,#0f0829 352px,#0e0726 360px,#0d0723 368px,#0c0622 376px,#0c0620 384px,#0b051e 392px,#0a051d 400px,#0a051c 408px,#09051b 416px,#09051a 424px,#090419 432px,#080418 440px,#080418 448px,#080417 456px,#080417 464px,#080416 472px,#070416 480px,#070416 493px)"></div><div style="left:328px;width:5px;background:linear-gradient(#04020f 0px,#04020f 8px,#05020f 16px,#050210 24px,#050310 32px,#060312 40px,#060313 48px,#070315 56px,#080417 64px,#0a051b 72px,#0a051c 73px,#0b061f 77px,#0c0622 80px,#0d0623 81px,#0e0727 85px,#10082b 88px,#11082d 89px,#140a35 93px,#190b3c 96px,#1b0b3e 97px,#230b47 101px,#2a0b4e 104px,#2c0b50 105px,#340a59 109px,#3b0a60 112px,#3d0a63 113px,#460b69 117px,#4d0d6a 120px,#4f0e6a 121px,#57116b 125px,#5d136c 128px,#5f146c 129px,#69176e 133px,#70196d 136px,#731a6d 137px,#7c1e6b 141px,#82206a 144px,#84206a 145px,#872269 149px,#882269 152px,#872269 153px,#862169 157px,#83206a 160px,#83206a 161px,#7f1f6a 165px,#7c1e6b 168px,#7b1d6b 169px,#771c6c 173px,#721a6d 176px,#71196d 177px,#6a176e 181px,#65156d 184px,#63156d 185px,#5d136c 189px,#59116b 192px,#57116b 193px,#520f6a 197px,#4e0e6a 200px,#4d0e6a 201px,#470c69 208px,#440b68 216px,#430a68 224px,#410a67 232px,#400a66 240px,#400a66 248px,#3f0a65 256px,#3f0a65 264px,#3e0a63 272px,#3d0a63 273px,#3b0a60 277px,#390a5e 280px,#380a5e 281px,#350a5b 285px,#330a58 288px,#320a57 289px,#2f0a54 293px,#2c0a51 296px,#2b0b50 297px,#280b4c 301px,#250b49 304px,#240b48 305px,#210b44 309px,#1e0b42 312px,#1d0b41 313px,#1b0b3e 317px,#180b3c 320px,#180b3b 321px,#160b38 325px,#150a36 328px,#140a35 329px,#120930 336px,#10082b 344px,#0f0727 352px,#0e0725 360px,#0d0622 368px,#0c0621 376px,#0b061f 384px,#0b051e 392px,#0a051c 400px,#0a051b 408px,#09051a 416px,#090419 424px,#090418 432px,#080418 440px,#080417 448px,#080417 456px,#080416 464px,#070416 472px,#070416 480px,#070415 488px,#070415 493px)"></div><div style="left:333px;width:5px;background:linear-gradient(#04020f 0px,#04020f 8px,#05020f 16px,#05020f 24px,#050310 32px,#060311 40px,#060313 48px,#070314 56px,#080417 64px,#09051b 72px,#0a051b 73px,#0b051e 77px,#0c0621 80px,#0c0622 81px,#0e0726 85px,#10082a 88px,#10082b 89px,#140a33 93px,#170b3a 96px,#190b3c 97px,#210b45 101px,#270b4b 104px,#290b4d 105px,#310a56 109px,#370a5d 112px,#3a0a5f 113px,#420a68 117px,#490c69 120px,#4b0d69 121px,#530f6a 125px,#58116b 128px,#5a126c 129px,#63156d 133px,#6a176e 136px,#6d186e 137px,#761b6c 141px,#7b1d6b 144px,#7d1e6b 145px,#801f6a 149px,#801f6a 153px,#7e1e6b 157px,#7c1e6b 160px,#7c1d6b 161px,#781c6c 165px,#761b6c 168px,#751b6c 169px,#711a6d 173px,#6c186e 176px,#6b176e 177px,#64156d 181px,#60146c 184px,#5e136c 185px,#58116b 189px,#54106b 192px,#530f6a 193px,#4e0e6a 197px,#4a0d69 200px,#490c69 201px,#430a68 208px,#410a67 216px,#3f0a64 224px,#3d0a63 232px,#3c0a62 240px,#3c0a62 248px,#3c0a61 256px,#3b0a60 264px,#3a0a5f 272px,#390a5f 273px,#370a5d 277px,#350a5b 280px,#350a5a 281px,#320a57 285px,#300a55 288px,#2f0a54 289px,#2c0b50 293px,#290b4e 296px,#290b4d 297px,#250b49 301px,#220b46 304px,#210b45 305px,#1e0b42 309px,#1c0b3f 312px,#1b0b3f 313px,#190b3c 317px,#170b3a 320px,#160b39 321px,#150a36 325px,#140a34 328px,#140a33 329px,#12092e 336px,#10082a 344px,#0e0726 352px,#0d0724 360px,#0c0621 368px,#0b0620 376px,#0b051e 384px,#0a051d 392px,#0a051c 400px,#09051a 408px,#09041a 416px,#090419 424px,#080418 432px,#080417 440px,#080417 448px,#080416 456px,#070416 464px,#070416 472px,#070415 480px,#070415 493px)"></div><div style="left:338px;width:5px;background:linear-gradient(#04020f 0px,#04020f 8px,#05020f 16px,#05020f 24px,#050310 32px,#060311 40px,#060312 48px,#070314 56px,#080416 64px,#09051a 72px,#09051b 73px,#0b051d 77px,#0c0620 80px,#0c0621 81px,#0d0725 85px,#0f0828 88px,#10082a 89px,#130931 93px,#150b38 96px,#170b3a 97px,#1f0b42 101px,#240b48 104px,#260b4a 105px,#2e0a53 109px,#340a59 112px,#360a5b 113px,#3f0a64 117px,#450b68 120px,#470b69 121px,#4e0e6a 125px,#54106b 128px,#56106b 129px,#5e136c 133px,#65156d 136px,#67166e 137px,#6f196d 141px,#751b6c 144px,#761b6c 145px,#7a1d6b 149px,#7a1d6b 152px,#791d6b 153px,#781c6c 157px,#761b6c 160px,#751b6c 161px,#721a6d 165px,#6f196d 168px,#6f196d 169px,#6b176e 173px,#67166d 176px,#65156d 177px,#5f136c 181px,#5b126c 184px,#59116b 185px,#53106b 189px,#4f0e6a 192px,#4e0e6a 193px,#4a0c69 197px,#460b69 200px,#450b68 201px,#3f0a65 208px,#3d0a62 216px,#3b0a60 224px,#3a0a5f 232px,#390a5e 240px,#380a5e 248px,#380a5d 256px,#370a5d 264px,#360a5c 272px,#360a5b 273px,#340a59 277px,#320a57 280px,#320a56 281px,#2f0a54 285px,#2d0a51 288px,#2c0a51 289px,#290b4d 293px,#270b4b 296px,#260b4a 297px,#220b46 301px,#200b44 304px,#1f0b43 305px,#1c0b40 309px,#1a0b3d 312px,#190b3d 313px,#170b3a 317px,#150b38 320px,#150b37 321px,#140a34 325px,#130a32 328px,#130931 329px,#11082d 336px,#0f0828 344px,#0e0725 352px,#0d0623 360px,#0c0621 368px,#0b061f 376px,#0b051d 384px,#0a051c 392px,#0a051b 400px,#09051a 408px,#090419 416px,#080418 424px,#080418 432px,#080417 440px,#080416 448px,#070416 456px,#070416 464px,#070415 472px,#070415 480px,#070315 488px,#070315 493px)"></div><div style="left:343px;width:5px;background:linear-gradient(#04020f 0px,#04020f 8px,#05020f 16px,#05020f 24px,#050310 32px,#050311 40px,#060312 48px,#070314 56px,#080416 64px,#090419 72px,#09051a 73px,#0a051d 77px,#0b061f 80px,#0c0620 81px,#0d0723 85px,#0f0727 88px,#0f0829 89px,#120930 93px,#150a36 96px,#160b38 97px,#1c0b40 101px,#220b46 104px,#240b48 105px,#2b0b4f 109px,#310a56 112px,#330a58 113px,#3b0a60 117px,#410a67 120px,#430a68 121px,#4a0d69 125px,#4f0e6a 128px,#510f6a 129px,#59116b 133px,#5f146c 136px,#61146d 137px,#69176e 141px,#6e196d 144px,#70196d 145px,#731a6c 149px,#731a6c 153px,#711a6d 157px,#70196d 160px,#6f196d 161px,#6c186e 165px,#69176e 168px,#69176e 169px,#65156d 173px,#61146d 176px,#60146c 177px,#5a126c 181px,#56106b 184px,#54106b 185px,#4f0e6a 189px,#4b0d69 192px,#4a0d69 193px,#460b69 197px,#420a68 200px,#410a67 201px,#3b0a61 208px,#390a5e 216px,#370a5d 224px,#360a5b 232px,#350a5a 240px,#350a5a 256px,#340a59 264px,#330a58 272px,#330a58 273px,#310a56 277px,#2f0a54 280px,#2e0a53 281px,#2c0a51 285px,#2a0b4e 288px,#290b4e 289px,#260b4b 293px,#240b48 296px,#230b47 297px,#200b44 301px,#1e0b41 304px,#1d0b40 305px,#1a0b3d 309px,#180b3b 312px,#170b3b 313px,#150b38 317px,#150a36 320px,#140a35 321px,#130a32 325px,#120930 328px,#12092f 329px,#10082b 336px,#0f0727 344px,#0d0724 352px,#0c0622 360px,#0b0620 368px,#0b051e 376px,#0a051d 384px,#0a051b 392px,#09051a 400px,#090419 408px,#090418 416px,#080418 424px,#080417 432px,#080417 440px,#070416 448px,#070416 456px,#070415 464px,#070415 472px,#070315 480px,#070315 493px)"></div><div style="left:348px;width:5px;background:linear-gradient(#04020f 0px,#04020f 16px,#05020f 24px,#050310 32px,#050311 40px,#060312 48px,#060313 56px,#070416 64px,#090419 72px,#090419 73px,#0a051c 77px,#0b051e 80px,#0b061f 81px,#0d0622 85px,#0e0726 88px,#0f0727 89px,#11092e 93px,#140a34 96px,#150a36 97px,#1a0b3e 101px,#1f0b43 104px,#210b45 105px,#280b4c 109px,#2e0a52 112px,#2f0a54 113px,#370a5c 117px,#3d0a62 120px,#3f0a64 121px,#460b69 125px,#4b0d69 128px,#4c0d6a 129px,#54106b 133px,#5a126c 136px,#5c126c 137px,#64156d 141px,#68166e 144px,#69176e 145px,#6d186e 149px,#6d186e 153px,#6b176e 157px,#69176e 160px,#69176e 161px,#66166d 165px,#64156d 168px,#63156d 169px,#60146c 173px,#5c126c 176px,#5b126c 177px,#55106b 181px,#510f6a 184px,#500e6a 185px,#4b0d69 189px,#470c69 192px,#460b69 193px,#420a68 197px,#3e0a64 200px,#3d0a63 201px,#380a5d 208px,#350a5b 216px,#340a59 224px,#330a57 232px,#320a57 240px,#310a56 248px,#310a56 256px,#310a55 264px,#300a54 272px,#2f0a54 273px,#2e0a52 277px,#2c0b50 280px,#2b0b50 281px,#290b4d 285px,#270b4b 288px,#260b4b 289px,#240b48 293px,#220b45 296px,#210b45 297px,#1e0b41 301px,#1b0b3f 304px,#1b0b3e 305px,#180b3b 309px,#160b39 312px,#160b38 313px,#150a36 317px,#140a34 320px,#130a33 321px,#120930 325px,#12092e 328px,#11092e 329px,#10082a 336px,#0e0726 344px,#0d0623 352px,#0c0621 360px,#0b061f 368px,#0a051d 376px,#0a051c 384px,#09051b 392px,#09051a 400px,#090419 408px,#080418 416px,#080417 424px,#080417 432px,#080416 440px,#070416 448px,#070415 456px,#070415 464px,#070315 472px,#070314 480px,#070314 493px)"></div><div style="left:353px;width:5px;background:linear-gradient(#04020f 0px,#04020f 16px,#05020f 24px,#050210 32px,#050311 40px,#060312 48px,#060313 56px,#070415 64px,#080418 72px,#090419 73px,#0a051b 77px,#0a051d 80px,#0b051e 81px,#0c0621 85px,#0e0725 88px,#0e0726 89px,#11082c 93px,#130932 96px,#140a34 97px,#180b3b 101px,#1d0b41 104px,#1f0b42 105px,#250b49 109px,#2a0b4f 112px,#2c0a51 113px,#330a58 117px,#390a5e 120px,#3b0a60 121px,#420a68 125px,#460b69 128px,#480c69 129px,#4f0e6a 133px,#55106b 136px,#57116b 137px,#5e136c 141px,#62146d 144px,#63156d 145px,#66166d 149px,#66166d 153px,#65156d 157px,#63156d 160px,#63156d 161px,#60146c 165px,#5e136c 168px,#5d136c 169px,#5a126c 173px,#56116b 176px,#55106b 177px,#500f6a 181px,#4c0d6a 184px,#4b0d69 185px,#460b69 189px,#430a68 192px,#420a68 193px,#3d0a63 197px,#3a0a60 200px,#390a5f 201px,#340a59 208px,#320a57 216px,#300a55 224px,#2f0a54 232px,#2e0a53 240px,#2e0a53 248px,#2e0a52 256px,#2d0a52 264px,#2c0a51 272px,#2c0a51 273px,#2a0b4f 277px,#290b4d 280px,#280b4c 281px,#260b4a 285px,#240b48 288px,#240b48 289px,#210b45 293px,#1f0b43 296px,#1e0b42 297px,#1b0b3f 301px,#190b3c 304px,#190b3c 305px,#160b39 309px,#150b37 312px,#150a36 313px,#140a33 317px,#130932 320px,#130931 321px,#12092e 325px,#11082d 328px,#11082c 329px,#0f0828 336px,#0e0725 344px,#0c0622 352px,#0b0620 360px,#0b051e 368px,#0a051c 376px,#0a051b 384px,#09051a 392px,#090419 400px,#080418 408px,#080417 416px,#080417 424px,#080416 432px,#070416 440px,#070415 448px,#070415 456px,#070315 464px,#070314 472px,#070314 493px)"></div><div style="left:358px;width:5px;background:linear-gradient(#04020f 0px,#04020f 16px,#05020f 24px,#050210 32px,#050311 40px,#060312 48px,#060313 56px,#070415 64px,#080418 72px,#080418 73px,#09051a 77px,#0a051c 80px,#0a051d 81px,#0c0620 85px,#0d0623 88px,#0d0724 89px,#10082a 93px,#120930 96px,#130931 97px,#160b39 101px,#1a0b3e 104px,#1c0b3f 105px,#220b46 109px,#270b4b 112px,#290b4d 113px,#2f0a54 117px,#350a5a 120px,#360a5b 121px,#3d0a63 125px,#420a68 128px,#430a68 129px,#4a0d69 133px,#4f0e6a 136px,#510f6a 137px,#58116b 141px,#5c126c 144px,#5d136c 145px,#60146c 149px,#60146c 153px,#5e136c 157px,#5d136c 160px,#5c136c 161px,#5a126c 165px,#58116b 168px,#57116b 169px,#54106b 173px,#510f6a 176px,#500e6a 177px,#4b0d69 181px,#470c69 184px,#460b69 185px,#420a67 189px,#3e0a64 192px,#3d0a63 193px,#390a5e 197px,#360a5b 200px,#350a5a 201px,#300a55 208px,#2e0a53 216px,#2d0a51 224px,#2b0b50 232px,#2b0b4f 240px,#2a0b4f 248px,#2a0b4f 256px,#2a0b4e 264px,#290b4d 272px,#290b4d 273px,#270b4b 277px,#260b4a 280px,#250b49 281px,#230b47 285px,#210b45 288px,#210b44 289px,#1e0b42 293px,#1c0b40 296px,#1c0b3f 297px,#190b3c 301px,#170b3a 304px,#160b39 305px,#150a36 309px,#140a34 312px,#140a34 313px,#130931 317px,#12092f 320px,#12092f 321px,#11082d 325px,#10082b 328px,#10082a 329px,#0e0727 336px,#0d0623 344px,#0c0621 352px,#0b061f 360px,#0a051d 368px,#0a051c 376px,#09051a 384px,#090419 392px,#080418 400px,#080418 408px,#080417 416px,#080416 424px,#070416 432px,#070415 440px,#070315 448px,#070314 456px,#070314 480px,#060314 488px,#060314 493px)"></div><div style="left:363px;width:5px;background:linear-gradient(#04020f 0px,#04020f 16px,#05020f 24px,#050210 32px,#050311 40px,#060311 48px,#060313 56px,#070314 64px,#080417 72px,#080418 73px,#09041a 77px,#0a051b 80px,#0a051c 81px,#0b061f 85px,#0c0622 88px,#0d0623 89px,#0f0828 93px,#11092d 96px,#12092f 97px,#150a36 101px,#180b3b 104px,#190b3c 105px,#1f0b42 109px,#230b47 112px,#250b49 113px,#2b0b50 117px,#300a55 120px,#320a57 121px,#380a5d 125px,#3c0a62 128px,#3e0a64 129px,#450b68 133px,#4a0c69 136px,#4b0d69 137px,#510f6a 141px,#55106b 144px,#56116b 145px,#59116b 149px,#59116b 153px,#58116b 157px,#56116b 160px,#56106b 161px,#53106b 165px,#510f6a 168px,#510f6a 169px,#4e0e6a 173px,#4b0d69 176px,#4a0d69 177px,#450b69 181px,#420a68 184px,#410a67 185px,#3c0a62 189px,#390a5e 192px,#380a5d 193px,#340a59 197px,#310a56 200px,#300a55 201px,#2c0b50 208px,#2a0b4e 216px,#290b4d 224px,#280b4c 232px,#270b4b 240px,#270b4b 248px,#260b4b 256px,#260b4a 264px,#250b49 272px,#250b49 273px,#230b47 277px,#220b46 280px,#220b45 281px,#200b43 285px,#1e0b42 288px,#1e0b41 289px,#1b0b3f 293px,#1a0b3d 296px,#190b3c 297px,#160b39 301px,#150b37 304px,#150a36 305px,#140a34 309px,#130a32 312px,#130931 313px,#12092f 317px,#11092d 320px,#11082d 321px,#10082a 325px,#0f0829 328px,#0f0828 329px,#0e0725 336px,#0c0622 344px,#0b061f 352px,#0b051d 360px,#0a051c 368px,#09051b 376px,#09041a 384px,#090419 392px,#080418 400px,#080417 408px,#080416 416px,#070416 424px,#070415 432px,#070315 440px,#070314 448px,#070314 464px,#060314 472px,#060313 480px,#060313 493px)"></div><div style="left:368px;width:5px;background:linear-gradient(#04020f 0px,#04020f 16px,#05020f 24px,#050210 32px,#050310 40px,#060311 48px,#060312 56px,#070314 64px,#080417 72px,#080417 73px,#090419 77px,#09051a 80px,#0a051b 81px,#0b051e 85px,#0c0620 88px,#0c0621 89px,#0e0727 93px,#10082b 96px,#11082d 97px,#140a33 101px,#160b38 104px,#160b39 105px,#1c0b3f 109px,#200b44 112px,#210b45 113px,#270b4b 117px,#2c0b50 120px,#2d0a52 121px,#330a58 125px,#370a5c 128px,#380a5e 129px,#3f0a65 133px,#440b68 136px,#450b68 137px,#4b0d69 141px,#4f0e6a 144px,#4f0e6a 145px,#520f6a 149px,#520f6a 153px,#510f6a 157px,#4f0e6a 160px,#4f0e6a 161px,#4d0d6a 165px,#4b0d69 168px,#4b0d69 169px,#480c69 173px,#450b68 176px,#440b68 177px,#400a65 181px,#3c0a62 184px,#3b0a61 185px,#370a5c 189px,#340a59 192px,#330a58 193px,#2f0a54 197px,#2d0a51 200px,#2c0b50 201px,#280b4c 208px,#260b4a 216px,#250b49 224px,#240b48 232px,#230b47 240px,#230b47 248px,#230b46 256px,#220b46 264px,#210b45 272px,#210b45 273px,#200b44 277px,#1f0b42 280px,#1e0b42 281px,#1c0b40 285px,#1b0b3e 288px,#1a0b3e 289px,#180b3c 293px,#170b3a 296px,#160b39 297px,#150a36 301px,#140a34 304px,#140a34 305px,#130931 309px,#12092f 312px,#12092f 313px,#11082d 317px,#10082b 320px,#10082a 321px,#0f0828 325px,#0f0727 328px,#0e0727 329px,#0d0723 336px,#0c0620 344px,#0b051e 352px,#0a051c 360px,#0a051b 368px,#09051a 376px,#090419 384px,#080418 392px,#080417 400px,#080416 408px,#070416 416px,#070415 424px,#070315 432px,#070314 440px,#070314 456px,#060313 464px,#060313 493px)"></div><div style="left:373px;width:5px;background:linear-gradient(#04020f 0px,#04020f 16px,#05020f 24px,#050210 32px,#050310 40px,#050311 48px,#060312 56px,#060314 64px,#070416 72px,#080416 73px,#080418 77px,#09041a 80px,#09051a 81px,#0a051d 85px,#0b061f 88px,#0c0620 89px,#0e0725 93px,#0f0829 96px,#10082a 97px,#120930 101px,#140a35 104px,#150a36 105px,#190b3c 109px,#1d0b40 112px,#1e0b41 113px,#230b47 117px,#270b4c 120px,#290b4d 121px,#2e0a53 125px,#320a57 128px,#330a58 129px,#390a5f 133px,#3e0a64 136px,#400a65 137px,#450b68 141px,#480c69 144px,#490c69 145px,#4c0d69 149px,#4c0d69 152px,#4b0d69 153px,#4a0d69 157px,#490c69 160px,#490c69 161px,#470c69 165px,#450b68 168px,#450b68 169px,#420a68 173px,#3f0a65 176px,#3e0a64 177px,#3a0a60 181px,#370a5c 184px,#360a5b 185px,#320a57 189px,#2f0a54 192px,#2e0a53 193px,#2b0b4f 197px,#290b4d 200px,#280b4c 201px,#240b48 208px,#220b46 216px,#210b45 224px,#200b44 232px,#200b43 240px,#1f0b43 248px,#1f0b43 256px,#1f0b42 264px,#1e0b42 272px,#1e0b41 273px,#1d0b40 277px,#1b0b3f 280px,#1b0b3e 281px,#190b3d 285px,#180b3b 288px,#180b3b 289px,#160b39 293px,#150b37 296px,#150a36 297px,#140a33 301px,#130931 304px,#130931 305px,#12092f 309px,#11082d 312px,#11082c 313px,#10082a 317px,#0f0829 320px,#0f0828 321px,#0e0727 325px,#0e0725 328px,#0e0725 329px,#0c0622 336px,#0b061f 344px,#0a051d 352px,#0a051b 360px,#09051a 368px,#090419 376px,#080418 384px,#080417 392px,#080417 400px,#070416 408px,#070415 416px,#070315 424px,#070314 432px,#070314 440px,#060314 448px,#060313 456px,#060313 493px)"></div><div style="left:378px;width:5px;background:linear-gradient(#04020f 0px,#04020f 16px,#05020f 24px,#050210 32px,#050310 40px,#050311 48px,#060312 56px,#060313 64px,#070416 72px,#070416 73px,#080417 77px,#090419 80px,#090419 81px,#0a051c 85px,#0b051e 88px,#0b061f 89px,#0d0724 93px,#0f0727 96px,#0f0829 97px,#12092e 101px,#130a33 104px,#140a34 105px,#160b3a 109px,#1a0b3d 112px,#1b0b3f 113px,#210b44 117px,#240b48 120px,#260b4a 121px,#2b0b4f 125px,#2e0a53 128px,#300a54 129px,#350a5a 133px,#3a0a5f 136px,#3b0a61 137px,#410a67 141px,#440b68 144px,#450b68 145px,#470c69 149px,#470c69 153px,#460b69 157px,#450b68 160px,#440b68 161px,#420a68 165px,#410a67 168px,#400a66 169px,#3e0a64 173px,#3b0a60 176px,#3a0a5f 177px,#360a5b 181px,#330a58 184px,#320a57 185px,#2e0a53 189px,#2c0b50 192px,#2b0b4f 193px,#280b4c 197px,#250b49 200px,#250b49 201px,#210b45 208px,#1f0b43 216px,#1e0b42 224px,#1e0b41 232px,#1d0b41 240px,#1d0b40 248px,#1d0b40 256px,#1c0b40 264px,#1c0b3f 272px,#1b0b3f 273px,#1a0b3d 277px,#190b3c 280px,#190b3c 281px,#170b3a 285px,#160b39 288px,#160b38 289px,#150a36 293px,#140a34 296px,#140a34 297px,#130931 301px,#12092f 304px,#12092f 305px,#11082d 309px,#10082b 312px,#10082b 313px,#0f0829 317px,#0f0727 320px,#0e0727 321px,#0e0725 325px,#0d0724 328px,#0d0723 329px,#0c0621 336px,#0b051e 344px,#0a051c 352px,#09051b 360px,#090419 368px,#080418 376px,#080418 384px,#080417 392px,#070416 400px,#070415 408px,#070415 416px,#070314 424px,#070314 432px,#060314 440px,#060313 448px,#060313 472px,#060312 480px,#060312 493px)"></div><div style="left:383px;width:5px;background:linear-gradient(#04020f 0px,#04020f 16px,#05020f 24px,#050210 32px,#050310 40px,#050311 48px,#060312 56px,#060313 64px,#070415 72px,#070416 73px,#080417 77px,#090419 80px,#090419 81px,#0a051b 85px,#0b051e 88px,#0b061f 89px,#0d0623 93px,#0e0727 96px,#0f0728 97px,#11092d 101px,#130931 104px,#130a33 105px,#160b38 109px,#190b3c 112px,#1a0b3d 113px,#1f0b42 117px,#230b46 120px,#240b48 121px,#290b4d 125px,#2c0a51 128px,#2d0a52 129px,#330a58 133px,#370a5c 136px,#380a5e 137px,#3e0a64 141px,#410a67 144px,#420a68 145px,#440b68 149px,#440b68 153px,#430a68 157px,#420a68 160px,#410a67 161px,#3f0a65 165px,#3e0a64 168px,#3d0a63 169px,#3b0a61 173px,#380a5e 176px,#370a5d 177px,#340a59 181px,#310a55 184px,#300a54 185px,#2c0a51 189px,#2a0b4e 192px,#290b4d 193px,#260b4a 197px,#240b48 200px,#230b47 201px,#1f0b43 208px,#1e0b41 216px,#1d0b40 224px,#1c0b3f 232px,#1c0b3f 240px,#1b0b3f 248px,#1b0b3e 256px,#1b0b3e 264px,#1a0b3d 272px,#1a0b3d 273px,#190b3c 277px,#180b3b 280px,#170b3a 281px,#160b39 285px,#150b37 288px,#150b37 289px,#140a35 293px,#140a33 296px,#130a32 297px,#120930 301px,#12092e 304px,#11092e 305px,#10082c 309px,#10082a 312px,#10082a 313px,#0f0728 317px,#0e0726 320px,#0e0726 321px,#0d0724 325px,#0d0623 328px,#0d0623 329px,#0c0620 336px,#0b051e 344px,#0a051c 352px,#09051a 360px,#090419 368px,#080418 376px,#080417 384px,#080416 392px,#070416 400px,#070415 408px,#070315 416px,#070314 424px,#070314 432px,#060313 440px,#060313 464px,#060312 472px,#060312 493px)"></div><div style="left:388px;width:5px;background:linear-gradient(#04020f 0px,#04020f 16px,#05020f 24px,#050210 32px,#050310 40px,#050311 48px,#060312 56px,#060313 64px,#070415 72px,#070415 73px,#080417 77px,#080418 80px,#090419 81px,#09051b 85px,#0a051d 88px,#0b051e 89px,#0c0622 93px,#0e0726 96px,#0e0727 97px,#11082c 101px,#120930 104px,#130931 105px,#150a36 109px,#170b3a 112px,#180b3c 113px,#1d0b41 117px,#210b44 120px,#220b46 121px,#270b4b 125px,#2a0b4e 128px,#2b0b50 129px,#300a55 133px,#340a59 136px,#360a5b 137px,#3b0a60 141px,#3e0a64 144px,#3f0a65 145px,#410a67 149px,#410a67 153px,#400a66 157px,#3f0a65 160px,#3e0a64 161px,#3c0a62 165px,#3b0a60 168px,#3a0a60 169px,#380a5e 173px,#360a5b 176px,#350a5a 177px,#310a56 181px,#2e0a53 184px,#2d0a52 185px,#2a0b4e 189px,#270b4c 192px,#270b4b 193px,#240b48 197px,#220b45 200px,#210b45 201px,#1e0b41 208px,#1c0b40 216px,#1b0b3e 224px,#1a0b3e 232px,#1a0b3d 240px,#1a0b3d 248px,#190b3d 256px,#190b3c 264px,#190b3c 272px,#180b3c 273px,#170b3a 277px,#160b39 280px,#160b39 281px,#150b37 285px,#150a36 288px,#140a35 289px,#140a33 293px,#130932 296px,#130931 297px,#12092f 301px,#11092d 304px,#11082c 305px,#10082a 309px,#0f0829 312px,#0f0829 313px,#0e0727 317px,#0e0726 320px,#0e0725 321px,#0d0724 325px,#0d0622 328px,#0c0622 329px,#0b061f 336px,#0a051d 344px,#0a051b 352px,#09051a 360px,#090419 368px,#080418 376px,#080417 384px,#080416 392px,#070415 400px,#070415 408px,#070314 416px,#070314 424px,#060314 432px,#060313 440px,#060313 464px,#060312 472px,#060312 493px)"></div><div style="left:393px;width:5px;background:linear-gradient(#04020f 0px,#04020f 16px,#05020f 24px,#05020f 32px,#050210 40px,#050311 48px,#060311 56px,#060313 64px,#070315 72px,#070315 73px,#080416 77px,#080417 80px,#080418 81px,#09051a 85px,#0a051c 88px,#0a051d 89px,#0c0621 93px,#0d0724 96px,#0e0725 97px,#10082a 101px,#11092e 104px,#12092f 105px,#140a34 109px,#150b37 112px,#160b39 113px,#1a0b3d 117px,#1d0b41 120px,#1f0b42 121px,#230b47 125px,#260b4a 128px,#270b4b 129px,#2c0b50 133px,#300a54 136px,#310a56 137px,#360a5b 141px,#390a5e 144px,#390a5f 145px,#3b0a61 149px,#3b0a61 153px,#3a0a60 157px,#390a5f 160px,#390a5e 161px,#370a5c 165px,#360a5b 168px,#350a5a 169px,#330a58 173px,#310a56 176px,#300a55 177px,#2c0a51 181px,#2a0b4e 184px,#290b4d 185px,#260b4a 189px,#240b48 192px,#230b47 193px,#200b44 197px,#1e0b42 200px,#1e0b41 201px,#1a0b3e 208px,#190b3c 216px,#180b3b 224px,#170b3b 232px,#170b3a 240px,#170b3a 256px,#160b39 264px,#160b39 273px,#150b37 277px,#150a36 280px,#150a36 281px,#140a34 285px,#130a33 288px,#130a32 289px,#120931 293px,#12092f 296px,#12092f 297px,#11082c 301px,#10082b 304px,#10082a 305px,#0f0828 309px,#0f0727 312px,#0e0727 313px,#0e0725 317px,#0d0724 320px,#0d0723 321px,#0c0622 325px,#0c0621 328px,#0c0621 329px,#0b051e 336px,#0a051c 344px,#09051a 352px,#090419 360px,#080418 368px,#080417 376px,#080416 384px,#070416 392px,#070415 400px,#070314 408px,#070314 416px,#060314 424px,#060313 432px,#060313 448px,#060312 456px,#060312 493px)"></div><div style="left:398px;width:2px;background:linear-gradient(#04020f 0px,#04020f 16px,#05020f 24px,#05020f 32px,#050210 40px,#050310 48px,#050311 56px,#060312 64px,#070314 72px,#070314 73px,#070416 77px,#080417 80px,#080417 81px,#090419 85px,#09051b 88px,#0a051b 89px,#0b061f 93px,#0c0622 96px,#0d0623 97px,#0f0727 101px,#10082b 104px,#11082c 105px,#120930 109px,#140a34 112px,#140a35 113px,#160b39 117px,#190b3d 120px,#1a0b3e 121px,#1e0b42 125px,#210b45 128px,#220b46 129px,#270b4b 133px,#2a0b4e 136px,#2b0b50 137px,#2f0a54 141px,#320a57 144px,#330a58 145px,#350a5a 149px,#350a5a 153px,#340a59 157px,#330a58 160px,#320a57 161px,#310a56 165px,#300a54 168px,#2f0a54 169px,#2d0a52 173px,#2b0b4f 176px,#2a0b4f 177px,#270b4b 181px,#250b49 184px,#240b48 185px,#210b45 189px,#1f0b43 192px,#1e0b42 193px,#1c0b3f 197px,#1a0b3e 200px,#1a0b3d 201px,#170b3a 208px,#160b39 216px,#150b37 224px,#150b37 232px,#150a36 240px,#150a36 264px,#140a35 272px,#140a35 273px,#140a34 277px,#130a33 280px,#130a32 281px,#130931 285px,#120930 288px,#12092f 289px,#11092d 293px,#11082c 296px,#10082c 297px,#10082a 301px,#0f0828 304px,#0f0728 305px,#0e0726 309px,#0e0725 312px,#0d0724 313px,#0d0623 317px,#0c0622 320px,#0c0622 321px,#0c0620 325px,#0b061f 328px,#0b061f 329px,#0a051d 336px,#09051b 344px,#090419 352px,#080418 360px,#080417 368px,#080416 376px,#070416 384px,#070415 392px,#070314 400px,#070314 408px,#060314 416px,#060313 424px,#060313 440px,#060312 448px,#060312 493px)"></div><div style="left:400px;width:2px;background:linear-gradient(#04020f 0px,#04020f 24px,#05020f 32px,#05020f 40px,#050210 48px,#050310 56px,#050311 64px,#060312 72px,#060312 73px,#060313 77px,#060313 80px,#070314 81px,#070315 85px,#070416 88px,#080416 89px,#080418 93px,#09051a 96px,#0a051b 97px,#0b051e 101px,#0b0620 104px,#0c0620 105px,#0d0623 109px,#0e0725 112px,#0e0726 113px,#0f0829 117px,#10082b 120px,#10082b 121px,#12092e 125px,#120930 128px,#130931 129px,#140a34 133px,#150b37 136px,#150b38 137px,#170b3b 141px,#190b3c 144px,#190b3d 145px,#1b0b3e 149px,#1b0b3e 153px,#1a0b3d 157px,#190b3d 160px,#190b3c 161px,#180b3b 165px,#170b3b 168px,#170b3a 169px,#160b39 173px,#150b37 176px,#150b37 177px,#140a35 181px,#130a33 184px,#130a32 185px,#120930 189px,#12092f 192px,#12092e 193px,#11082d 197px,#10082b 200px,#10082b 201px,#0f0829 208px,#0f0728 216px,#0f0727 224px,#0e0727 232px,#0e0727 240px,#0e0726 248px,#0e0726 273px,#0e0725 277px,#0d0724 280px,#0d0724 281px,#0d0623 285px,#0d0622 288px,#0d0622 289px,#0c0621 293px,#0c0620 296px,#0c0620 297px,#0b061f 301px,#0b051e 304px,#0b051e 305px,#0a051d 309px,#0a051c 312px,#0a051c 313px,#0a051b 317px,#09051a 320px,#09051a 321px,#090419 325px,#090419 328px,#080418 329px,#080417 336px,#070416 344px,#070415 352px,#070314 360px,#070314 368px,#060313 376px,#060313 384px,#060312 392px,#060312 416px,#060311 424px,#050311 432px,#050311 464px,#050310 472px,#050310 493px)"></div><div style="left:402px;width:2px;background:linear-gradient(#04020f 0px,#04020f 24px,#05020f 32px,#05020f 48px,#050210 56px,#050310 64px,#050311 72px,#050311 73px,#060312 77px,#060312 81px,#060313 85px,#070314 88px,#070314 89px,#070416 93px,#080417 96px,#080418 97px,#09051a 101px,#0a051b 104px,#0a051c 105px,#0b051e 109px,#0b061f 112px,#0c0620 113px,#0c0622 117px,#0d0724 120px,#0d0724 121px,#0e0726 125px,#0f0728 128px,#0f0828 129px,#10082b 133px,#11082d 136px,#11092d 137px,#120930 141px,#130931 144px,#130932 145px,#130a33 149px,#130a33 153px,#130a32 157px,#130932 160px,#130931 161px,#120930 165px,#120930 169px,#12092f 173px,#11092d 176px,#11082d 177px,#10082b 181px,#10082a 184px,#10082a 185px,#0f0728 189px,#0e0727 192px,#0e0726 193px,#0e0725 197px,#0d0724 200px,#0d0724 201px,#0d0622 208px,#0c0622 216px,#0c0621 224px,#0c0621 240px,#0c0620 248px,#0c0620 273px,#0b061f 277px,#0b061f 281px,#0b051e 285px,#0b051e 288px,#0b051d 289px,#0a051d 293px,#0a051c 296px,#0a051c 297px,#09051b 301px,#09051a 304px,#09051a 305px,#090419 309px,#090419 313px,#080418 317px,#080417 320px,#080417 325px,#080416 328px,#070416 329px,#070415 336px,#070314 344px,#060313 352px,#060313 360px,#060312 368px,#060312 384px,#060311 392px,#050311 400px,#050311 432px,#050310 440px,#050310 464px,#050210 472px,#050210 493px)"></div><div style="left:404px;width:2px;background:linear-gradient(#04020f 0px,#04020f 24px,#05020f 32px,#05020f 48px,#050210 56px,#050310 64px,#050311 72px,#050311 73px,#060312 77px,#060312 81px,#060313 85px,#070314 88px,#070314 89px,#070416 93px,#080417 96px,#080417 97px,#090419 101px,#09051b 104px,#0a051b 105px,#0a051d 109px,#0b061f 112px,#0b061f 113px,#0c0621 117px,#0d0623 120px,#0d0623 121px,#0e0725 125px,#0e0727 128px,#0f0727 129px,#100829 133px,#10082b 136px,#11082c 137px,#11092e 141px,#12092f 144px,#120930 145px,#130931 149px,#130931 153px,#120930 157px,#120930 161px,#12092f 165px,#11092e 168px,#11092e 169px,#11082d 173px,#11082c 176px,#10082b 177px,#10082a 181px,#0f0829 184px,#0f0828 185px,#0e0727 189px,#0e0726 192px,#0e0725 193px,#0d0724 197px,#0d0623 200px,#0d0623 201px,#0c0621 208px,#0c0621 216px,#0c0620 224px,#0c0620 232px,#0b0620 240px,#0b0620 248px,#0b061f 256px,#0b061f 277px,#0b051e 280px,#0b051e 281px,#0b051d 285px,#0a051d 288px,#0a051d 289px,#0a051c 293px,#0a051b 296px,#0a051b 297px,#09051a 301px,#09041a 304px,#090419 305px,#090419 309px,#080418 312px,#080418 313px,#080417 317px,#080417 321px,#080416 325px,#070416 328px,#070416 329px,#070315 336px,#070314 344px,#060313 352px,#060313 360px,#060312 368px,#060312 384px,#060311 392px,#050311 400px,#050311 424px,#050310 432px,#050310 456px,#050210 464px,#050210 493px)"></div><div style="left:406px;width:2px;background:linear-gradient(#04020f 0px,#04020f 24px,#05020f 32px,#05020f 48px,#050210 56px,#050310 64px,#050311 72px,#050311 73px,#060311 77px,#060312 80px,#060312 81px,#060313 85px,#060314 88px,#070314 89px,#070415 93px,#080417 96px,#080417 97px,#090419 101px,#09051a 104px,#09051b 105px,#0a051c 109px,#0b051e 112px,#0b051e 113px,#0c0620 117px,#0c0622 120px,#0d0622 121px,#0d0724 125px,#0e0726 128px,#0e0726 129px,#0f0828 133px,#10082a 136px,#10082b 137px,#11082d 141px,#11092e 144px,#12092e 145px,#12092f 149px,#12092f 157px,#12092e 160px,#12092e 161px,#11092d 165px,#11082d 168px,#11082d 169px,#10082c 173px,#10082b 176px,#10082a 177px,#0f0829 181px,#0f0727 184px,#0f0727 185px,#0e0726 189px,#0e0725 192px,#0d0724 193px,#0d0623 197px,#0d0622 200px,#0c0622 201px,#0c0620 208px,#0c0620 216px,#0b061f 224px,#0b061f 264px,#0b051e 272px,#0b051e 277px,#0b051d 280px,#0a051d 281px,#0a051d 285px,#0a051c 288px,#0a051c 289px,#0a051b 293px,#09051b 296px,#09051b 297px,#09051a 301px,#090419 304px,#090419 305px,#080418 309px,#080418 313px,#080417 317px,#080417 320px,#080416 321px,#070416 325px,#070415 328px,#070415 329px,#070314 336px,#060314 344px,#060313 352px,#060312 360px,#060312 376px,#060311 384px,#050311 392px,#050311 416px,#050310 424px,#050310 448px,#050210 456px,#050210 493px)"></div><div style="left:408px;width:5px;background:linear-gradient(#04020f 0px,#04020f 24px,#05020f 32px,#05020f 48px,#050210 56px,#050210 64px,#050311 72px,#050311 73px,#060311 77px,#060312 80px,#060312 81px,#060313 85px,#060313 88px,#060314 89px,#070415 93px,#080416 96px,#080417 97px,#080418 101px,#090419 104px,#09051a 105px,#0a051c 109px,#0a051d 112px,#0b051d 113px,#0b061f 117px,#0c0621 120px,#0c0621 121px,#0d0623 125px,#0d0724 128px,#0e0725 129px,#0e0727 133px,#0f0828 136px,#0f0829 137px,#10082b 141px,#11082c 144px,#11082c 145px,#11092d 149px,#11092d 153px,#11082d 157px,#11082c 160px,#11082c 161px,#10082c 165px,#10082b 168px,#10082b 169px,#10082a 173px,#0f0829 176px,#0f0828 177px,#0f0727 181px,#0e0726 184px,#0e0726 185px,#0d0724 189px,#0d0623 192px,#0d0623 193px,#0c0622 197px,#0c0621 200px,#0c0621 201px,#0b061f 208px,#0b061f 216px,#0b051e 224px,#0b051e 264px,#0b051d 272px,#0b051d 273px,#0a051d 277px,#0a051d 280px,#0a051c 281px,#0a051c 285px,#0a051b 288px,#0a051b 289px,#09051b 293px,#09051a 296px,#09051a 297px,#090419 301px,#090419 304px,#080418 305px,#080418 309px,#080417 312px,#080417 313px,#080416 317px,#080416 320px,#070416 321px,#070415 325px,#070415 329px,#070314 336px,#060313 344px,#060313 352px,#060312 360px,#060312 376px,#060311 384px,#050311 392px,#050311 408px,#050310 416px,#050310 440px,#050210 448px,#050210 493px)"></div><div style="left:413px;width:5px;background:linear-gradient(#04020f 0px,#04020f 24px,#05020f 32px,#05020f 48px,#050210 56px,#050210 64px,#050311 72px,#050311 77px,#060312 80px,#060312 85px,#060313 88px,#060313 89px,#070315 93px,#070416 96px,#070416 97px,#080418 101px,#090419 104px,#090419 105px,#09051b 109px,#0a051c 112px,#0a051d 113px,#0b051e 117px,#0b0620 120px,#0c0620 121px,#0c0622 125px,#0d0623 128px,#0d0723 129px,#0e0725 133px,#0e0727 136px,#0f0727 137px,#0f0829 141px,#10082a 144px,#10082b 145px,#10082c 149px,#10082c 153px,#10082b 157px,#10082b 161px,#10082a 165px,#100829 168px,#0f0829 169px,#0f0828 173px,#0f0727 176px,#0f0727 177px,#0e0726 181px,#0e0725 184px,#0d0724 185px,#0d0623 189px,#0c0622 192px,#0c0622 193px,#0c0621 197px,#0c0620 200px,#0c0620 201px,#0b051e 208px,#0b051e 224px,#0a051d 232px,#0a051d 273px,#0a051c 277px,#0a051c 281px,#0a051b 285px,#09051b 288px,#09051a 289px,#09051a 293px,#090419 296px,#090419 297px,#090418 301px,#080418 304px,#080418 305px,#080417 309px,#080417 313px,#070416 317px,#070416 321px,#070415 325px,#070315 328px,#070315 329px,#070314 336px,#060313 344px,#060312 352px,#060312 368px,#060311 376px,#050311 384px,#050311 408px,#050310 416px,#050310 432px,#050210 440px,#050210 493px)"></div><div style="left:418px;width:5px;background:linear-gradient(#04020f 0px,#04020f 24px,#05020f 32px,#05020f 56px,#050210 64px,#050310 72px,#050311 73px,#050311 77px,#060311 80px,#060312 81px,#060312 85px,#060313 88px,#060313 89px,#070314 93px,#070415 96px,#070416 97px,#080417 101px,#090418 104px,#090419 105px,#09051a 109px,#0a051c 112px,#0a051c 113px,#0b051e 117px,#0b061f 120px,#0b061f 121px,#0c0621 125px,#0d0622 128px,#0d0623 129px,#0e0725 133px,#0e0726 136px,#0e0727 137px,#0f0828 141px,#100829 144px,#10082a 145px,#10082b 149px,#10082b 153px,#10082a 157px,#10082a 161px,#0f0829 165px,#0f0828 168px,#0f0828 169px,#0f0727 173px,#0e0726 176px,#0e0726 177px,#0e0725 181px,#0d0724 184px,#0d0723 185px,#0d0622 189px,#0c0621 192px,#0c0621 193px,#0c0620 197px,#0b061f 200px,#0b061f 201px,#0b051e 208px,#0b051d 216px,#0a051d 224px,#0a051d 240px,#0a051c 248px,#0a051c 277px,#0a051b 280px,#0a051b 281px,#09051b 285px,#09051a 288px,#09051a 289px,#090419 293px,#090419 297px,#080418 301px,#080418 304px,#080417 305px,#080417 309px,#080416 312px,#080416 313px,#070416 317px,#070415 320px,#070415 321px,#070315 325px,#070314 328px,#070314 329px,#060314 336px,#060313 344px,#060312 352px,#060312 368px,#060311 376px,#050311 384px,#050311 400px,#050310 408px,#050310 432px,#050210 440px,#050210 493px)"></div><div style="left:423px;width:5px;background:linear-gradient(#04020f 0px,#04020f 24px,#05020f 32px,#05020f 56px,#050210 64px,#050310 72px,#050311 73px,#050311 77px,#060311 80px,#060311 81px,#060312 85px,#060313 88px,#060313 89px,#070314 93px,#070415 96px,#070416 97px,#080417 101px,#080418 104px,#090418 105px,#09051a 109px,#0a051b 112px,#0a051c 113px,#0a051d 117px,#0b051e 120px,#0b061f 121px,#0c0620 125px,#0c0622 128px,#0c0622 129px,#0d0724 133px,#0e0725 136px,#0e0726 137px,#0f0727 141px,#0f0828 144px,#0f0829 145px,#100829 149px,#100829 153px,#0f0829 157px,#0f0829 161px,#0f0728 165px,#0f0727 168px,#0f0727 169px,#0e0726 173px,#0e0726 176px,#0e0725 177px,#0d0724 181px,#0d0623 184px,#0d0623 185px,#0c0621 189px,#0c0621 192px,#0c0620 193px,#0b061f 197px,#0b061f 200px,#0b051e 201px,#0a051d 208px,#0a051d 216px,#0a051c 224px,#0a051c 273px,#0a051b 277px,#09051b 280px,#09051b 281px,#09051a 285px,#09051a 288px,#09041a 289px,#090419 293px,#090419 296px,#080418 297px,#080418 301px,#080417 304px,#080417 309px,#080416 312px,#070416 313px,#070415 317px,#070415 321px,#070315 325px,#070314 328px,#070314 329px,#060313 336px,#060313 344px,#060312 352px,#060312 360px,#060311 368px,#050311 376px,#050311 400px,#050310 408px,#050310 424px,#050210 432px,#050210 493px)"></div><div style="left:428px;width:5px;background:linear-gradient(#04020f 0px,#04020f 24px,#05020f 32px,#05020f 56px,#050210 64px,#050310 72px,#050310 73px,#050311 77px,#050311 80px,#060311 81px,#060312 85px,#060312 88px,#060313 89px,#070314 93px,#070315 96px,#070415 97px,#080417 101px,#080418 104px,#080418 105px,#090419 109px,#09051a 112px,#09051b 113px,#0a051c 117px,#0b051e 120px,#0b051e 121px,#0b061f 125px,#0c0621 128px,#0c0621 129px,#0d0623 133px,#0d0724 136px,#0d0724 137px,#0e0726 141px,#0f0727 144px,#0f0727 145px,#0f0728 149px,#0f0728 157px,#0f0727 160px,#0f0727 161px,#0e0727 165px,#0e0726 168px,#0e0726 169px,#0e0725 173px,#0d0724 176px,#0d0724 177px,#0d0623 181px,#0c0622 184px,#0c0622 185px,#0c0620 189px,#0b0620 192px,#0b061f 193px,#0b061f 197px,#0b051e 200px,#0b051e 201px,#0a051c 208px,#0a051c 224px,#0a051b 232px,#0a051b 264px,#09051b 272px,#09051b 273px,#09051a 277px,#09051a 281px,#09041a 285px,#090419 288px,#090419 289px,#080418 293px,#080418 297px,#080417 301px,#080417 305px,#080416 309px,#070416 312px,#070416 313px,#070415 317px,#070315 320px,#070315 321px,#070314 325px,#070314 329px,#060313 336px,#060312 344px,#060312 360px,#060311 368px,#050311 376px,#050311 392px,#050310 400px,#050310 424px,#050210 432px,#050210 493px)"></div><div style="left:433px;width:5px;background:linear-gradient(#04020f 0px,#04020f 32px,#05020f 40px,#05020f 56px,#050210 64px,#050310 72px,#050310 73px,#050311 77px,#050311 81px,#060312 85px,#060312 88px,#060313 89px,#060314 93px,#070314 96px,#070315 97px,#080416 101px,#080417 104px,#080417 105px,#090419 109px,#09051a 112px,#09051a 113px,#0a051c 117px,#0a051d 120px,#0a051d 121px,#0b061f 125px,#0b0620 128px,#0c0620 129px,#0c0621 133px,#0d0623 136px,#0d0623 137px,#0e0725 141px,#0e0726 144px,#0e0726 145px,#0e0727 149px,#0e0727 153px,#0e0726 157px,#0e0726 161px,#0e0725 165px,#0e0725 169px,#0d0724 173px,#0d0623 176px,#0d0623 177px,#0c0622 181px,#0c0621 184px,#0c0621 185px,#0b0620 189px,#0b061f 192px,#0b061f 193px,#0b051e 197px,#0a051d 200px,#0a051d 201px,#0a051c 208px,#0a051b 216px,#0a051b 224px,#09051b 232px,#09051b 248px,#09051a 256px,#09051a 277px,#090419 280px,#090419 288px,#080418 289px,#080418 296px,#080417 297px,#080417 301px,#080416 304px,#080416 305px,#070416 309px,#070415 312px,#070415 313px,#070315 317px,#070314 320px,#070314 325px,#060314 328px,#060314 329px,#060313 336px,#060312 344px,#060312 352px,#060311 360px,#050311 368px,#050311 392px,#050310 400px,#050310 416px,#050210 424px,#050210 480px,#05020f 488px,#05020f 493px)"></div><div style="left:438px;width:5px;background:linear-gradient(#04020f 0px,#04020f 32px,#05020f 40px,#05020f 56px,#050210 64px,#050310 72px,#050310 73px,#050311 77px,#050311 81px,#060312 85px,#060312 89px,#060313 93px,#070314 96px,#070314 97px,#070416 101px,#080417 104px,#080417 105px,#080418 109px,#090419 112px,#09041a 113px,#0a051b 117px,#0a051c 120px,#0a051c 121px,#0b051e 125px,#0b061f 128px,#0b061f 129px,#0c0621 133px,#0c0622 136px,#0c0622 137px,#0d0724 141px,#0d0725 144px,#0e0725 145px,#0e0725 161px,#0d0724 165px,#0d0724 168px,#0d0723 169px,#0d0623 173px,#0c0622 176px,#0c0622 177px,#0c0621 181px,#0c0620 184px,#0b0620 185px,#0b061f 189px,#0b051e 192px,#0b051e 193px,#0a051d 197px,#0a051c 200px,#0a051c 201px,#0a051b 208px,#09051b 216px,#09051a 224px,#09051a 264px,#09041a 272px,#09041a 273px,#090419 277px,#090419 281px,#080418 285px,#080418 289px,#080417 293px,#080417 297px,#080416 301px,#070416 304px,#070416 305px,#070415 309px,#070415 313px,#070314 317px,#070314 321px,#060314 325px,#060313 328px,#060313 336px,#060312 344px,#060312 352px,#060311 360px,#050311 368px,#050311 384px,#050310 392px,#050310 408px,#050210 416px,#050210 464px,#05020f 472px,#05020f 493px)"></div><div style="left:443px;width:5px;background:linear-gradient(#04020f 0px,#04020f 32px,#05020f 40px,#05020f 56px,#050210 64px,#050310 72px,#050310 77px,#050311 80px,#050311 81px,#060311 85px,#060312 88px,#060312 89px,#060313 93px,#070314 96px,#070314 97px,#070415 101px,#080416 104px,#080417 105px,#080418 109px,#090419 112px,#090419 113px,#09051a 117px,#0a051b 120px,#0a051c 121px,#0a051d 125px,#0b051e 128px,#0b051e 129px,#0b0620 133px,#0c0621 136px,#0c0621 137px,#0d0623 141px,#0d0723 144px,#0d0724 145px,#0d0724 161px,#0d0623 165px,#0d0623 168px,#0d0622 169px,#0c0622 173px,#0c0621 176px,#0c0621 177px,#0c0620 181px,#0b061f 184px,#0b061f 185px,#0b051e 189px,#0a051d 192px,#0a051d 193px,#0a051c 197px,#0a051c 200px,#0a051b 201px,#09051a 208px,#09051a 224px,#09041a 232px,#090419 240px,#090419 277px,#080418 280px,#080418 288px,#080417 289px,#080417 297px,#070416 301px,#070416 304px,#070415 305px,#070415 309px,#070315 312px,#070315 313px,#070314 317px,#070314 321px,#060313 325px,#060313 329px,#060312 336px,#060312 344px,#060311 352px,#050311 360px,#050311 376px,#050310 384px,#050310 408px,#050210 416px,#050210 456px,#05020f 464px,#05020f 493px)"></div><div style="left:448px;width:5px;background:linear-gradient(#04020f 0px,#04020f 32px,#05020f 40px,#05020f 56px,#050210 64px,#050210 72px,#050310 73px,#050310 77px,#050311 80px,#050311 81px,#060311 85px,#060312 88px,#060312 89px,#060313 93px,#060314 96px,#070314 97px,#070415 101px,#070416 104px,#080416 105px,#080417 109px,#080418 112px,#090418 113px,#09051a 117px,#09051b 120px,#0a051b 121px,#0a051c 125px,#0a051d 128px,#0b051d 129px,#0b061f 133px,#0c0620 136px,#0c0620 137px,#0c0622 141px,#0d0622 144px,#0d0623 145px,#0d0623 160px,#0d0622 161px,#0c0622 165px,#0c0622 168px,#0c0621 169px,#0c0621 173px,#0c0620 176px,#0c0620 177px,#0b061f 181px,#0b051e 184px,#0b051e 185px,#0a051d 189px,#0a051c 192px,#0a051c 193px,#0a051b 197px,#0a051b 200px,#09051b 201px,#09051a 208px,#090419 216px,#090419 272px,#090418 273px,#080418 277px,#080418 281px,#080417 285px,#080417 293px,#080416 296px,#080416 297px,#070416 301px,#070415 304px,#070415 305px,#070315 309px,#070314 312px,#070314 317px,#060314 320px,#060314 321px,#060313 325px,#060313 329px,#060312 336px,#060312 344px,#060311 352px,#050311 360px,#050311 376px,#050310 384px,#050310 400px,#050210 408px,#050210 448px,#05020f 456px,#05020f 493px)"></div><div style="left:453px;width:5px;background:linear-gradient(#04020f 0px,#04020f 32px,#05020f 40px,#05020f 56px,#050210 64px,#050210 73px,#050310 77px,#050311 80px,#050311 85px,#060312 88px,#060312 89px,#060313 93px,#060313 96px,#060314 97px,#070315 101px,#070416 104px,#070416 105px,#080417 109px,#080418 112px,#080418 113px,#090419 117px,#09051a 120px,#09051a 121px,#0a051c 125px,#0a051c 128px,#0a051d 129px,#0b051e 133px,#0b061f 136px,#0b061f 137px,#0c0621 141px,#0c0621 144px,#0c0622 145px,#0d0622 149px,#0d0622 153px,#0c0622 157px,#0c0622 161px,#0c0621 165px,#0c0621 169px,#0c0620 173px,#0b061f 176px,#0b061f 177px,#0b051e 181px,#0b051d 184px,#0a051d 185px,#0a051c 189px,#0a051c 193px,#09051b 197px,#09051a 200px,#09051a 201px,#090419 208px,#090419 232px,#080418 240px,#080418 277px,#080417 280px,#080417 289px,#080416 293px,#070416 296px,#070416 297px,#070415 301px,#070415 304px,#070315 305px,#070314 309px,#070314 313px,#060314 317px,#060313 320px,#060313 329px,#060312 336px,#060312 344px,#050311 352px,#050311 368px,#050310 376px,#050310 392px,#050210 400px,#050210 448px,#05020f 456px,#05020f 493px)"></div><div style="left:458px;width:5px;background:linear-gradient(#04020f 0px,#04020f 32px,#05020f 40px,#05020f 64px,#050210 72px,#050210 73px,#050310 77px,#050311 80px,#050311 85px,#060311 88px,#060312 89px,#060312 93px,#060313 96px,#060313 97px,#070314 101px,#070415 104px,#070416 105px,#080417 109px,#080417 112px,#080418 113px,#090419 117px,#09041a 120px,#09051a 121px,#0a051b 125px,#0a051c 128px,#0a051c 129px,#0b051d 133px,#0b051e 136px,#0b061f 137px,#0c0620 141px,#0c0621 144px,#0c0621 161px,#0c0620 165px,#0c0620 169px,#0b061f 173px,#0b061f 176px,#0b051e 177px,#0b051e 181px,#0a051d 184px,#0a051d 185px,#0a051c 189px,#0a051b 192px,#0a051b 193px,#09051a 197px,#09051a 200px,#09041a 201px,#090419 208px,#090419 216px,#080418 224px,#080418 273px,#080417 277px,#080417 285px,#080416 288px,#080416 289px,#070416 293px,#070416 296px,#070415 297px,#070415 301px,#070315 304px,#070315 305px,#070314 309px,#070314 313px,#060313 317px,#060313 328px,#060312 329px,#060312 336px,#060311 344px,#050311 352px,#050311 368px,#050310 376px,#050310 392px,#050210 400px,#050210 440px,#05020f 448px,#05020f 493px)"></div><div style="left:463px;width:5px;background:linear-gradient(#04020f 0px,#04020f 32px,#05020f 40px,#05020f 64px,#050210 72px,#050210 73px,#050310 77px,#050310 80px,#050311 81px,#050311 85px,#060311 88px,#060312 89px,#060312 93px,#060313 96px,#060313 97px,#070314 101px,#070415 104px,#070415 105px,#080416 109px,#080417 112px,#080417 113px,#080418 117px,#090419 120px,#090419 121px,#09051a 125px,#0a051b 128px,#0a051c 129px,#0a051d 133px,#0b051e 136px,#0b051e 137px,#0b061f 141px,#0c0620 144px,#0c0620 145px,#0c0621 149px,#0c0621 153px,#0c0620 157px,#0c0620 161px,#0b0620 165px,#0b061f 168px,#0b061f 173px,#0b051e 176px,#0b051e 177px,#0a051d 181px,#0a051c 184px,#0a051c 185px,#0a051b 189px,#09051b 192px,#09051b 193px,#09051a 197px,#090419 200px,#090419 201px,#080418 208px,#080418 248px,#080417 256px,#080417 281px,#080416 285px,#070416 288px,#070416 293px,#070415 296px,#070415 297px,#070315 301px,#070314 304px,#070314 309px,#060314 312px,#060314 313px,#060313 317px,#060313 325px,#060312 328px,#060312 336px,#060311 344px,#050311 352px,#050311 368px,#050310 376px,#050310 384px,#050210 392px,#050210 432px,#05020f 440px,#05020f 493px)"></div><div style="left:468px;width:5px;background:linear-gradient(#04020f 0px,#04020f 32px,#05020f 40px,#05020f 64px,#050210 72px,#050210 73px,#050310 77px,#050310 81px,#050311 85px,#050311 88px,#060311 89px,#060312 93px,#060313 96px,#060313 97px,#070314 101px,#070315 104px,#070415 105px,#070416 109px,#080417 112px,#080417 113px,#080418 117px,#090419 120px,#090419 121px,#09051a 125px,#09051b 128px,#0a051b 129px,#0a051c 133px,#0a051d 136px,#0b051d 137px,#0b051e 141px,#0b061f 144px,#0b061f 145px,#0c0620 149px,#0c0620 153px,#0b0620 157px,#0b061f 160px,#0b061f 165px,#0b051e 168px,#0b051e 173px,#0b051d 176px,#0a051d 177px,#0a051c 181px,#0a051c 184px,#0a051b 185px,#09051b 189px,#09051a 192px,#09051a 193px,#090419 197px,#090419 201px,#080418 208px,#080418 216px,#080417 224px,#080417 277px,#080416 280px,#080416 281px,#070416 285px,#070416 289px,#070415 293px,#070415 297px,#070314 301px,#070314 309px,#060313 312px,#060313 321px,#060312 325px,#060312 336px,#050311 344px,#050311 360px,#050310 368px,#050310 384px,#050210 392px,#050210 432px,#05020f 440px,#05020f 493px)"></div><div style="left:473px;width:5px;background:linear-gradient(#04020f 0px,#04020f 32px,#05020f 40px,#05020f 64px,#050210 72px,#050210 77px,#050310 80px,#050310 81px,#050311 85px,#050311 88px,#060311 89px,#060312 93px,#060313 96px,#060313 97px,#070314 101px,#070314 104px,#070315 105px,#070416 109px,#080416 112px,#080417 113px,#080418 117px,#080418 120px,#090419 121px,#09041a 125px,#09051a 128px,#09051a 129px,#0a051c 133px,#0a051c 136px,#0a051d 137px,#0b051e 141px,#0b051e 144px,#0b061f 145px,#0b061f 161px,#0b051e 165px,#0b051e 169px,#0a051d 173px,#0a051d 176px,#0a051c 177px,#0a051c 181px,#0a051b 184px,#0a051b 185px,#09051a 189px,#09051a 192px,#09041a 193px,#090419 197px,#090418 200px,#080418 201px,#080418 208px,#080417 216px,#080417 273px,#080416 277px,#070416 280px,#070416 285px,#070415 288px,#070415 293px,#070315 296px,#070315 297px,#070314 301px,#070314 305px,#060313 309px,#060313 321px,#060312 325px,#060312 336px,#050311 344px,#050311 360px,#050310 368px,#050310 384px,#050210 392px,#050210 424px,#05020f 432px,#05020f 493px)"></div><div style="left:478px;width:5px;background:linear-gradient(#04020f 0px,#04020f 32px,#05020f 40px,#05020f 64px,#050210 72px,#050210 77px,#050310 80px,#050310 81px,#050311 85px,#050311 89px,#060312 93px,#060312 96px,#060313 97px,#060314 101px,#070314 104px,#070314 105px,#070415 109px,#070416 112px,#080416 113px,#080417 117px,#080418 120px,#080418 121px,#090419 125px,#09051a 128px,#09051a 129px,#0a051b 133px,#0a051c 136px,#0a051c 137px,#0a051d 141px,#0b051e 144px,#0b051e 161px,#0b051d 165px,#0a051d 168px,#0a051d 173px,#0a051c 176px,#0a051c 177px,#0a051b 181px,#09051b 184px,#09051a 185px,#09051a 189px,#090419 192px,#090419 193px,#090418 197px,#080418 200px,#080418 201px,#080417 208px,#080417 240px,#080416 248px,#080416 273px,#070416 277px,#070416 281px,#070415 285px,#070415 289px,#070315 293px,#070314 296px,#070314 304px,#060314 305px,#060313 309px,#060313 317px,#060312 320px,#060312 329px,#060311 336px,#050311 344px,#050311 352px,#050310 360px,#050310 376px,#050210 384px,#050210 424px,#05020f 432px,#05020f 493px)"></div><div style="left:483px;width:5px;background:linear-gradient(#04020f 0px,#04020f 32px,#05020f 40px,#05020f 64px,#050210 72px,#050210 77px,#050310 80px,#050310 81px,#050311 85px,#050311 89px,#060312 93px,#060312 96px,#060313 97px,#060313 101px,#070314 104px,#070314 105px,#070415 109px,#070416 112px,#070416 113px,#080417 117px,#080418 120px,#080418 121px,#090419 125px,#090419 128px,#09041a 129px,#09051b 133px,#0a051b 136px,#0a051c 137px,#0a051d 141px,#0a051d 144px,#0b051d 145px,#0b051e 149px,#0b051e 157px,#0b051d 160px,#0a051d 161px,#0a051d 169px,#0a051c 173px,#0a051c 176px,#0a051b 177px,#09051b 181px,#09051a 184px,#09051a 185px,#090419 189px,#090419 193px,#080418 197px,#080418 201px,#080417 208px,#080417 216px,#080416 224px,#080416 256px,#070416 264px,#070416 277px,#070415 280px,#070415 288px,#070315 289px,#070314 293px,#070314 301px,#060314 304px,#060313 305px,#060313 313px,#060312 317px,#060312 329px,#060311 336px,#050311 344px,#050311 352px,#050310 360px,#050310 376px,#050210 384px,#050210 416px,#05020f 424px,#05020f 493px)"></div><div style="left:488px;width:5px;background:linear-gradient(#04020f 0px,#04020f 40px,#05020f 48px,#05020f 64px,#050210 72px,#050210 77px,#050310 80px,#050310 81px,#050311 85px,#050311 89px,#060312 93px,#060312 97px,#060313 101px,#070314 104px,#070314 105px,#070315 109px,#070415 112px,#070416 113px,#080417 117px,#080417 121px,#080418 125px,#090419 128px,#090419 129px,#09051a 133px,#09051b 136px,#0a051b 137px,#0a051c 141px,#0a051d 144px,#0a051d 161px,#0a051c 165px,#0a051c 173px,#0a051b 176px,#0a051b 177px,#09051a 181px,#09051a 184px,#09041a 185px,#090419 189px,#080418 192px,#080418 197px,#080417 200px,#080417 208px,#080416 216px,#080416 224px,#070416 232px,#070416 273px,#070415 277px,#070415 285px,#070315 288px,#070315 289px,#070314 293px,#070314 297px,#060314 301px,#060313 304px,#060313 313px,#060312 317px,#060312 329px,#050311 336px,#050311 352px,#050310 360px,#050310 368px,#050210 376px,#050210 416px,#05020f 424px,#05020f 493px)"></div><div style="left:493px;width:5px;background:linear-gradient(#04020f 0px,#04020f 40px,#05020f 48px,#05020f 64px,#050210 72px,#050210 80px,#050310 81px,#050310 85px,#050311 88px,#050311 89px,#060312 93px,#060312 97px,#060313 101px,#060314 104px,#070314 105px,#070315 109px,#070415 112px,#070415 113px,#080416 117px,#080417 120px,#080417 121px,#080418 125px,#090419 128px,#090419 129px,#09041a 133px,#09051a 136px,#09051b 137px,#0a051c 141px,#0a051c 145px,#0a051d 149px,#0a051d 157px,#0a051c 160px,#0a051c 169px,#0a051b 173px,#09051b 176px,#09051a 177px,#09051a 181px,#090419 184px,#090419 189px,#080418 192px,#080418 193px,#080417 197px,#080417 201px,#080416 208px,#070416 216px,#070416 264px,#070415 272px,#070415 281px,#070315 285px,#070314 288px,#070314 297px,#060313 301px,#060313 312px,#060312 313px,#060312 328px,#060311 329px,#050311 336px,#050311 344px,#050310 352px,#050310 368px,#050210 376px,#050210 408px,#05020f 416px,#05020f 493px)"></div><div style="left:498px;width:5px;background:linear-gradient(#04020f 0px,#04020f 40px,#05020f 48px,#05020f 64px,#050210 72px,#050210 80px,#050310 81px,#050310 85px,#050311 88px,#050311 89px,#060311 93px,#060312 96px,#060312 97px,#060313 101px,#060313 104px,#060314 105px,#070314 109px,#070415 112px,#070415 113px,#070416 117px,#080417 120px,#080417 121px,#080418 125px,#080418 129px,#090419 133px,#09051a 136px,#09051a 137px,#0a051b 141px,#0a051c 144px,#0a051c 161px,#0a051b 165px,#0a051b 169px,#09051b 173px,#09051a 176px,#09051a 177px,#090419 181px,#090419 185px,#080418 189px,#080418 193px,#080417 197px,#080417 201px,#070416 208px,#070416 232px,#070415 240px,#070415 277px,#070315 280px,#070315 281px,#070314 285px,#070314 296px,#060314 297px,#060313 301px,#060313 309px,#060312 312px,#060312 325px,#060311 328px,#060311 329px,#050311 336px,#050311 344px,#050310 352px,#050310 368px,#050210 376px,#050210 408px,#05020f 416px,#05020f 493px)"></div><div style="left:503px;width:5px;background:linear-gradient(#04020f 0px,#04020f 40px,#05020f 48px,#05020f 64px,#050210 72px,#050210 81px,#050310 85px,#050311 88px,#050311 89px,#060311 93px,#060312 96px,#060312 97px,#060313 101px,#060313 105px,#070314 109px,#070315 112px,#070415 113px,#070416 117px,#080416 120px,#080417 121px,#080417 125px,#080418 128px,#080418 129px,#090419 133px,#09051a 136px,#09051a 137px,#09051b 141px,#0a051b 144px,#0a051c 145px,#0a051c 160px,#0a051b 161px,#0a051b 165px,#09051b 168px,#09051b 169px,#09051a 173px,#09051a 177px,#090419 181px,#090419 185px,#080418 189px,#080418 192px,#080417 193px,#080417 200px,#080416 201px,#070416 208px,#070416 216px,#070415 224px,#070415 273px,#070315 277px,#070315 281px,#070314 285px,#070314 293px,#060314 296px,#060313 297px,#060313 309px,#060312 312px,#060312 325px,#060311 328px,#060311 329px,#050311 336px,#050311 344px,#050310 352px,#050310 360px,#050210 368px,#050210 400px,#05020f 408px,#05020f 493px)"></div><div style="left:508px;width:5px;background:linear-gradient(#04020f 0px,#04020f 40px,#05020f 48px,#05020f 64px,#050210 72px,#050210 81px,#050310 85px,#050311 88px,#050311 89px,#060311 93px,#060312 96px,#060312 97px,#060313 101px,#060313 105px,#070314 109px,#070315 112px,#070415 113px,#070416 117px,#080416 120px,#080417 121px,#080417 125px,#080418 128px,#080418 129px,#090419 133px,#09051a 136px,#09051a 137px,#09051b 141px,#0a051b 144px,#0a051b 145px,#0a051c 149px,#0a051c 157px,#0a051b 160px,#0a051b 165px,#09051b 168px,#09051b 169px,#09051a 173px,#09051a 177px,#090419 181px,#090419 185px,#080418 189px,#080418 192px,#080417 193px,#080417 200px,#080416 201px,#070416 208px,#070416 216px,#070415 224px,#070415 273px,#070315 277px,#070315 281px,#070314 285px,#070314 293px,#060314 296px,#060313 297px,#060313 309px,#060312 312px,#060312 325px,#060311 328px,#060311 329px,#050311 336px,#050311 344px,#050310 352px,#050310 360px,#050210 368px,#050210 400px,#05020f 408px,#05020f 493px)"></div></div></div>

<svg width="1998" height="693" viewBox="0 0 1998 693">
<defs><linearGradient id="cb" x1="0" x2="1" y1="0" y2="0"><stop offset="0.0000" stop-color="#000004"/><stop offset="0.0246" stop-color="#060311"/><stop offset="0.0493" stop-color="#0b061e"/><stop offset="0.0739" stop-color="#10082c"/><stop offset="0.0985" stop-color="#160b39"/><stop offset="0.1231" stop-color="#210b45"/><stop offset="0.1477" stop-color="#2c0a50"/><stop offset="0.1724" stop-color="#370a5c"/><stop offset="0.1970" stop-color="#420a68"/><stop offset="0.2216" stop-color="#4c0d6a"/><stop offset="0.2462" stop-color="#56106b"/><stop offset="0.2709" stop-color="#60146c"/><stop offset="0.2955" stop-color="#6a176e"/><stop offset="0.3201" stop-color="#741b6c"/><stop offset="0.3448" stop-color="#7e1e6a"/><stop offset="0.3694" stop-color="#892269"/><stop offset="0.3940" stop-color="#932667"/><stop offset="0.4186" stop-color="#9d2a62"/><stop offset="0.4432" stop-color="#a82e5e"/><stop offset="0.4679" stop-color="#b23359"/><stop offset="0.4925" stop-color="#bc3754"/><stop offset="0.5171" stop-color="#c43e4e"/><stop offset="0.5418" stop-color="#cd4447"/><stop offset="0.5664" stop-color="#d54a40"/><stop offset="0.5910" stop-color="#dd513a"/><stop offset="0.6156" stop-color="#e25b32"/><stop offset="0.6402" stop-color="#e86529"/><stop offset="0.6649" stop-color="#ee6e21"/><stop offset="0.6895" stop-color="#f37819"/><stop offset="0.7141" stop-color="#f58315"/><stop offset="0.7388" stop-color="#f88e12"/><stop offset="0.7634" stop-color="#fa9a0e"/><stop offset="0.7880" stop-color="#fca50a"/><stop offset="0.8126" stop-color="#fab119"/><stop offset="0.8372" stop-color="#f9be28"/><stop offset="0.8619" stop-color="#f8ca37"/><stop offset="0.8865" stop-color="#f6d746"/><stop offset="0.9111" stop-color="#f8e15e"/><stop offset="0.9357" stop-color="#f9eb75"/><stop offset="0.9604" stop-color="#faf58c"/><stop offset="0.9850" stop-color="#fcffa4"/><stop offset="0.985" stop-color="#fffff0"/><stop offset="1" stop-color="#ffffff"/></linearGradient></defs>
<rect x="112.2" y="37.3" width="224" height="18" fill="url(#cb)" stroke="#000" stroke-width="2.6"/>
<text transform="translate(110.3 88.8) scale(1 1.04)" font-size="27.5" >0</text>
<text transform="translate(336.5 88.8) scale(1 1.04)" font-size="27.5" text-anchor="end" >Max</text>
<text transform="translate(-1 42.5) scale(1 1.04)" font-size="37" font-weight="bold" >a)</text>
<rect x="109.4" y="103.3" width="500.2" height="479.8" fill="none" stroke="#000" stroke-width="2.9"/>
<line x1="103.9" y1="103.6" x2="109.4" y2="103.6" stroke="#000" stroke-width="2.9" />
<line x1="98.4" y1="147.2" x2="109.4" y2="147.2" stroke="#000" stroke-width="2.9" />
<text transform="translate(90 156.2) scale(1 1.04)" font-size="29.5" text-anchor="end" >2</text>
<line x1="103.9" y1="190.7" x2="109.4" y2="190.7" stroke="#000" stroke-width="2.9" />
<line x1="98.4" y1="234.3" x2="109.4" y2="234.3" stroke="#000" stroke-width="2.9" />
<text transform="translate(90 243.3) scale(1 1.04)" font-size="29.5" text-anchor="end" >1.9</text>
<line x1="103.9" y1="277.9" x2="109.4" y2="277.9" stroke="#000" stroke-width="2.9" />
<line x1="98.4" y1="321.5" x2="109.4" y2="321.5" stroke="#000" stroke-width="2.9" />
<text transform="translate(90 330.5) scale(1 1.04)" font-size="29.5" text-anchor="end" >1.8</text>
<line x1="103.9" y1="365.1" x2="109.4" y2="365.1" stroke="#000" stroke-width="2.9" />
<line x1="98.4" y1="408.7" x2="109.4" y2="408.7" stroke="#000" stroke-width="2.9" />
<text transform="translate(90 417.7) scale(1 1.04)" font-size="29.5" text-anchor="end" >1.7</text>
<line x1="103.9" y1="452.3" x2="109.4" y2="452.3" stroke="#000" stroke-width="2.9" />
<line x1="98.4" y1="495.9" x2="109.4" y2="495.9" stroke="#000" stroke-width="2.9" />
<text transform="translate(90 504.9) scale(1 1.04)" font-size="29.5" text-anchor="end" >1.6</text>
<line x1="103.9" y1="539.5" x2="109.4" y2="539.5" stroke="#000" stroke-width="2.9" />
<line x1="98.4" y1="583.1" x2="109.4" y2="583.1" stroke="#000" stroke-width="2.9" />
<text transform="translate(90 592.1) scale(1 1.04)" font-size="29.5" text-anchor="end" >1.5</text>
<line x1="159.6" y1="583.2" x2="159.6" y2="594.5" stroke="#000" stroke-width="2.9" />
<text transform="translate(159.6 625.8) scale(1 1.04)" font-size="29.5" text-anchor="middle" >0</text>
<line x1="259.6" y1="583.2" x2="259.6" y2="594.5" stroke="#000" stroke-width="2.9" />
<text transform="translate(259.6 625.8) scale(1 1.04)" font-size="29.5" text-anchor="middle" >1</text>
<line x1="359.6" y1="583.2" x2="359.6" y2="594.5" stroke="#000" stroke-width="2.9" />
<text transform="translate(359.6 625.8) scale(1 1.04)" font-size="29.5" text-anchor="middle" >2</text>
<line x1="461.5" y1="583.2" x2="461.5" y2="594.5" stroke="#000" stroke-width="2.9" />
<text transform="translate(461.5 625.8) scale(1 1.04)" font-size="29.5" text-anchor="middle" >10</text>
<line x1="608.8" y1="583.2" x2="608.8" y2="594.5" stroke="#000" stroke-width="2.9" />
<text transform="translate(608.8 625.8) scale(1 1.04)" font-size="29.5" text-anchor="middle" >100</text>
<line x1="109.6" y1="583.2" x2="109.6" y2="589" stroke="#000" stroke-width="2.9" />
<line x1="209.6" y1="583.2" x2="209.6" y2="589" stroke="#000" stroke-width="2.9" />
<line x1="309.6" y1="583.2" x2="309.6" y2="589" stroke="#000" stroke-width="2.9" />
<line x1="384.4" y1="583.2" x2="384.4" y2="589" stroke="#000" stroke-width="2.9" />
<line x1="402.8" y1="583.2" x2="402.8" y2="589" stroke="#000" stroke-width="2.9" />
<line x1="417.1" y1="583.2" x2="417.1" y2="589" stroke="#000" stroke-width="2.9" />
<line x1="428.8" y1="583.2" x2="428.8" y2="589" stroke="#000" stroke-width="2.9" />
<line x1="438.6" y1="583.2" x2="438.6" y2="589" stroke="#000" stroke-width="2.9" />
<line x1="447.2" y1="583.2" x2="447.2" y2="589" stroke="#000" stroke-width="2.9" />
<line x1="454.7" y1="583.2" x2="454.7" y2="589" stroke="#000" stroke-width="2.9" />
<line x1="505.8" y1="583.2" x2="505.8" y2="589" stroke="#000" stroke-width="2.9" />
<line x1="531.7" y1="583.2" x2="531.7" y2="589" stroke="#000" stroke-width="2.9" />
<line x1="550.1" y1="583.2" x2="550.1" y2="589" stroke="#000" stroke-width="2.9" />
<line x1="564.4" y1="583.2" x2="564.4" y2="589" stroke="#000" stroke-width="2.9" />
<line x1="576.1" y1="583.2" x2="576.1" y2="589" stroke="#000" stroke-width="2.9" />
<line x1="585.9" y1="583.2" x2="585.9" y2="589" stroke="#000" stroke-width="2.9" />
<line x1="594.5" y1="583.2" x2="594.5" y2="589" stroke="#000" stroke-width="2.9" />
<line x1="602" y1="583.2" x2="602" y2="589" stroke="#000" stroke-width="2.9" />
<text transform="translate(359.3 679.8) scale(1 1.04)" font-size="35.8" text-anchor="middle" >Time (ps)</text>
<text transform="translate(29.5 343.3) rotate(-90) scale(1 1.04)" font-size="35.2" text-anchor="middle" >Energy (eV)</text>
<text transform="translate(635.5 42.5) scale(1 1.04)" font-size="37" font-weight="bold" >b)</text>
<line x1="734.5" y1="575.5" x2="746.5" y2="575.5" stroke="#000" stroke-width="2.9" />
<text transform="translate(724.5 584.5) scale(1 1.04)" font-size="29.5" text-anchor="end" >0.0</text>
<line x1="740.5" y1="532.6" x2="746.5" y2="532.6" stroke="#000" stroke-width="2.9" />
<line x1="734.5" y1="489.7" x2="746.5" y2="489.7" stroke="#000" stroke-width="2.9" />
<text transform="translate(724.5 498.7) scale(1 1.04)" font-size="29.5" text-anchor="end" >0.2</text>
<line x1="740.5" y1="446.8" x2="746.5" y2="446.8" stroke="#000" stroke-width="2.9" />
<line x1="734.5" y1="404" x2="746.5" y2="404" stroke="#000" stroke-width="2.9" />
<text transform="translate(724.5 413) scale(1 1.04)" font-size="29.5" text-anchor="end" >0.4</text>
<line x1="740.5" y1="361.1" x2="746.5" y2="361.1" stroke="#000" stroke-width="2.9" />
<line x1="734.5" y1="318.2" x2="746.5" y2="318.2" stroke="#000" stroke-width="2.9" />
<text transform="translate(724.5 327.2) scale(1 1.04)" font-size="29.5" text-anchor="end" >0.6</text>
<line x1="740.5" y1="275.3" x2="746.5" y2="275.3" stroke="#000" stroke-width="2.9" />
<line x1="734.5" y1="232.5" x2="746.5" y2="232.5" stroke="#000" stroke-width="2.9" />
<text transform="translate(724.5 241.5) scale(1 1.04)" font-size="29.5" text-anchor="end" >0.8</text>
<line x1="740.5" y1="189.6" x2="746.5" y2="189.6" stroke="#000" stroke-width="2.9" />
<line x1="734.5" y1="146.7" x2="746.5" y2="146.7" stroke="#000" stroke-width="2.9" />
<text transform="translate(724.5 155.7) scale(1 1.04)" font-size="29.5" text-anchor="end" >1.0</text>
<line x1="740.5" y1="103.8" x2="746.5" y2="103.8" stroke="#000" stroke-width="2.9" />
<line x1="746.5" y1="584.4" x2="746.5" y2="596.4" stroke="#000" stroke-width="2.9" />
<line x1="801.5" y1="584.4" x2="801.5" y2="590.4" stroke="#000" stroke-width="2.9" />
<line x1="833.6" y1="584.4" x2="833.6" y2="590.4" stroke="#000" stroke-width="2.9" />
<line x1="856.4" y1="584.4" x2="856.4" y2="590.4" stroke="#000" stroke-width="2.9" />
<line x1="874.1" y1="584.4" x2="874.1" y2="590.4" stroke="#000" stroke-width="2.9" />
<line x1="888.6" y1="584.4" x2="888.6" y2="590.4" stroke="#000" stroke-width="2.9" />
<line x1="900.8" y1="584.4" x2="900.8" y2="590.4" stroke="#000" stroke-width="2.9" />
<line x1="911.4" y1="584.4" x2="911.4" y2="590.4" stroke="#000" stroke-width="2.9" />
<line x1="920.7" y1="584.4" x2="920.7" y2="590.4" stroke="#000" stroke-width="2.9" />
<line x1="929.1" y1="584.4" x2="929.1" y2="596.4" stroke="#000" stroke-width="2.9" />
<line x1="984.1" y1="584.4" x2="984.1" y2="590.4" stroke="#000" stroke-width="2.9" />
<line x1="1016.2" y1="584.4" x2="1016.2" y2="590.4" stroke="#000" stroke-width="2.9" />
<line x1="1039" y1="584.4" x2="1039" y2="590.4" stroke="#000" stroke-width="2.9" />
<line x1="1056.7" y1="584.4" x2="1056.7" y2="590.4" stroke="#000" stroke-width="2.9" />
<line x1="1071.2" y1="584.4" x2="1071.2" y2="590.4" stroke="#000" stroke-width="2.9" />
<line x1="1083.4" y1="584.4" x2="1083.4" y2="590.4" stroke="#000" stroke-width="2.9" />
<line x1="1094" y1="584.4" x2="1094" y2="590.4" stroke="#000" stroke-width="2.9" />
<line x1="1103.3" y1="584.4" x2="1103.3" y2="590.4" stroke="#000" stroke-width="2.9" />
<line x1="1111.7" y1="584.4" x2="1111.7" y2="596.4" stroke="#000" stroke-width="2.9" />
<line x1="1166.7" y1="584.4" x2="1166.7" y2="590.4" stroke="#000" stroke-width="2.9" />
<line x1="1198.8" y1="584.4" x2="1198.8" y2="590.4" stroke="#000" stroke-width="2.9" />
<line x1="1221.6" y1="584.4" x2="1221.6" y2="590.4" stroke="#000" stroke-width="2.9" />
<line x1="1239.3" y1="584.4" x2="1239.3" y2="590.4" stroke="#000" stroke-width="2.9" />
<line x1="1253.8" y1="584.4" x2="1253.8" y2="590.4" stroke="#000" stroke-width="2.9" />
<line x1="1266" y1="584.4" x2="1266" y2="590.4" stroke="#000" stroke-width="2.9" />
<line x1="1276.6" y1="584.4" x2="1276.6" y2="590.4" stroke="#000" stroke-width="2.9" />
<line x1="1285.9" y1="584.4" x2="1285.9" y2="590.4" stroke="#000" stroke-width="2.9" />
<line x1="1294.3" y1="584.4" x2="1294.3" y2="596.4" stroke="#000" stroke-width="2.9" />
<text transform="translate(746.5 627) scale(1 1.04)" font-size="29.5" text-anchor="middle" >0.1</text>
<text transform="translate(929.1 627) scale(1 1.04)" font-size="29.5" text-anchor="middle" >1</text>
<text transform="translate(1111.7 627) scale(1 1.04)" font-size="29.5" text-anchor="middle" >10</text>
<text transform="translate(1294.3 627) scale(1 1.04)" font-size="29.5" text-anchor="middle" >100</text>
<text transform="translate(1020 681) scale(1 1.04)" font-size="35.8" text-anchor="middle" >Time (ps)</text>
<text transform="translate(666.2 343.4) rotate(-90) scale(1 1.04)" font-size="35.1" text-anchor="middle" >Normalized intensity</text>
<text transform="translate(1323.5 42.5) scale(1 1.04)" font-size="37" font-weight="bold" >c)</text>
<line x1="1416.9" y1="562.4" x2="1430.9" y2="562.4" stroke="#000" stroke-width="2.9" />
<text transform="translate(1406.5 571.4) scale(1 1.04)" font-size="29.5" text-anchor="end" >0.0</text>
<line x1="1423.9" y1="520.6" x2="1430.9" y2="520.6" stroke="#000" stroke-width="2.9" />
<line x1="1416.9" y1="478.8" x2="1430.9" y2="478.8" stroke="#000" stroke-width="2.9" />
<text transform="translate(1406.5 487.8) scale(1 1.04)" font-size="29.5" text-anchor="end" >0.2</text>
<line x1="1423.9" y1="437" x2="1430.9" y2="437" stroke="#000" stroke-width="2.9" />
<line x1="1416.9" y1="395.2" x2="1430.9" y2="395.2" stroke="#000" stroke-width="2.9" />
<text transform="translate(1406.5 404.2) scale(1 1.04)" font-size="29.5" text-anchor="end" >0.4</text>
<line x1="1423.9" y1="353.4" x2="1430.9" y2="353.4" stroke="#000" stroke-width="2.9" />
<line x1="1416.9" y1="311.7" x2="1430.9" y2="311.7" stroke="#000" stroke-width="2.9" />
<text transform="translate(1406.5 320.7) scale(1 1.04)" font-size="29.5" text-anchor="end" >0.6</text>
<line x1="1423.9" y1="269.9" x2="1430.9" y2="269.9" stroke="#000" stroke-width="2.9" />
<line x1="1416.9" y1="228.1" x2="1430.9" y2="228.1" stroke="#000" stroke-width="2.9" />
<text transform="translate(1406.5 237.1) scale(1 1.04)" font-size="29.5" text-anchor="end" >0.8</text>
<line x1="1423.9" y1="186.3" x2="1430.9" y2="186.3" stroke="#000" stroke-width="2.9" />
<line x1="1416.9" y1="144.5" x2="1430.9" y2="144.5" stroke="#000" stroke-width="2.9" />
<text transform="translate(1406.5 153.5) scale(1 1.04)" font-size="29.5" text-anchor="end" >1.0</text>
<line x1="1423.9" y1="102.7" x2="1430.9" y2="102.7" stroke="#000" stroke-width="2.9" />
<line x1="1430.9" y1="583.5" x2="1430.9" y2="590.5" stroke="#000" stroke-width="2.9" />
<line x1="1480.7" y1="583.5" x2="1480.7" y2="597.5" stroke="#000" stroke-width="2.9" />
<text transform="translate(1480.7 630) scale(1 1.04)" font-size="29.5" text-anchor="middle" >2.0</text>
<line x1="1530.4" y1="583.5" x2="1530.4" y2="590.5" stroke="#000" stroke-width="2.9" />
<line x1="1580.2" y1="583.5" x2="1580.2" y2="597.5" stroke="#000" stroke-width="2.9" />
<text transform="translate(1580.2 630) scale(1 1.04)" font-size="29.5" text-anchor="middle" >1.9</text>
<line x1="1630" y1="583.5" x2="1630" y2="590.5" stroke="#000" stroke-width="2.9" />
<line x1="1679.7" y1="583.5" x2="1679.7" y2="597.5" stroke="#000" stroke-width="2.9" />
<text transform="translate(1679.7 630) scale(1 1.04)" font-size="29.5" text-anchor="middle" >1.8</text>
<line x1="1729.5" y1="583.5" x2="1729.5" y2="590.5" stroke="#000" stroke-width="2.9" />
<line x1="1779.3" y1="583.5" x2="1779.3" y2="597.5" stroke="#000" stroke-width="2.9" />
<text transform="translate(1779.3 630) scale(1 1.04)" font-size="29.5" text-anchor="middle" >1.7</text>
<line x1="1829" y1="583.5" x2="1829" y2="590.5" stroke="#000" stroke-width="2.9" />
<line x1="1878.8" y1="583.5" x2="1878.8" y2="597.5" stroke="#000" stroke-width="2.9" />
<text transform="translate(1878.8 630) scale(1 1.04)" font-size="29.5" text-anchor="middle" >1.6</text>
<line x1="1928.6" y1="583.5" x2="1928.6" y2="590.5" stroke="#000" stroke-width="2.9" />
<line x1="1978.3" y1="583.5" x2="1978.3" y2="597.5" stroke="#000" stroke-width="2.9" />
<text transform="translate(1978.3 630) scale(1 1.04)" font-size="29.5" text-anchor="middle" >1.5</text>
<line x1="1496.8" y1="102.8" x2="1496.8" y2="96.8" stroke="#000" stroke-width="2.9" />
<line x1="1572.8" y1="102.8" x2="1572.8" y2="90.8" stroke="#000" stroke-width="2.9" />
<text transform="translate(1572.8 73.2) scale(1 1.04)" font-size="29.5" text-anchor="middle" >650</text>
<line x1="1643.1" y1="102.8" x2="1643.1" y2="96.8" stroke="#000" stroke-width="2.9" />
<line x1="1708.4" y1="102.8" x2="1708.4" y2="90.8" stroke="#000" stroke-width="2.9" />
<text transform="translate(1708.4 73.2) scale(1 1.04)" font-size="29.5" text-anchor="middle" >700</text>
<line x1="1769.2" y1="102.8" x2="1769.2" y2="96.8" stroke="#000" stroke-width="2.9" />
<line x1="1825.9" y1="102.8" x2="1825.9" y2="90.8" stroke="#000" stroke-width="2.9" />
<text transform="translate(1825.9 73.2) scale(1 1.04)" font-size="29.5" text-anchor="middle" >750</text>
<line x1="1879" y1="102.8" x2="1879" y2="96.8" stroke="#000" stroke-width="2.9" />
<line x1="1928.7" y1="102.8" x2="1928.7" y2="90.8" stroke="#000" stroke-width="2.9" />
<text transform="translate(1928.7 73.2) scale(1 1.04)" font-size="29.5" text-anchor="middle" >800</text>
<line x1="1975.5" y1="102.8" x2="1975.5" y2="96.8" stroke="#000" stroke-width="2.9" />
<text transform="translate(1705.5 26.6) scale(1 1.04)" font-size="35.5" text-anchor="middle" >Wavelength (nm)</text>
<text transform="translate(1705 685.5) scale(1 1.04)" font-size="35.8" text-anchor="middle" >Energy (eV)</text>
<text transform="translate(1343.6 343.2) rotate(-90) scale(1 1.04)" font-size="35.1" text-anchor="middle" >Normalized intensity</text>
<clipPath id="cpb"><rect x="746.5" y="103.65" width="547.8" height="480.8"/></clipPath>
<line x1="746.5" y1="575.5" x2="1294.3" y2="575.5" stroke="#000" stroke-width="2.9" />
<g clip-path="url(#cpb)">
<path d="M746.5 182.7 L760.4 170.4 L774.9 157.4 L786.4 149.5 L799.4 145.9 L818.2 149.5 L832.6 156.7 L847 165.4 L860 172.5 L868.7 175.5 L880.2 183 L889 190.5 L897 195.5 L903 203.5 L909 208.5 L917.1 218.7 L924 222.5 L932.7 232.5 L940 241.5 L946.6 249.8 L952 253.5 L957 262 L965 270 L972.6 281 L981 292 L990 300.4 L1003.9 317.7 L1017 334.8 L1029.5 356 L1042.5 377.5 L1053 389 L1063.5 403.5 L1070 411 L1078.7 422.9 L1087.3 431.6 L1096 443.7 L1106.4 454.1 L1110.7 464.5 L1115 462.7 L1121.9 469.7 L1130.6 480 L1139.3 490.4 L1144.5 495.6 L1153.1 504.3 L1160 509.8 L1165 518.1 L1176.6 524.7 L1193.2 533.9 L1209.8 541.3 L1226.3 548 L1239.6 555.4 L1252.9 557.9 L1266.2 561.2 L1276.1 561.2 L1294.3 567.5" fill="none" stroke="#fcae32" stroke-width="5.8" stroke-linejoin="round" stroke-linecap="butt" />
<path d="M746.5 156 L760.4 150.9 L778.5 145.6 L789.3 151.6 L800.8 157.4 L818.2 163.9 L832.6 176.2 L845.6 193.5 L857.1 200.7 L865.8 213.7 L873.9 227.3 L882.5 233.4 L892.9 249.8 L901.6 260.2 L906.8 268 L911.9 269.7 L920.6 282.7 L929.3 298.3 L936.2 304.4 L943.1 317.4 L950 327.5 L956.9 337.3 L960.4 347.7 L965.6 348.6 L970.8 359 L976 361.6 L981.2 371.9 L991.6 385.8 L1001.9 399.7 L1012.3 415.2 L1022.7 425.6 L1033.1 437.7 L1050.1 455.9 L1070 476.6 L1080.4 487 L1092.5 499.1 L1104.6 509.5 L1124.9 523.3 L1146.6 538.5 L1160 545.5 L1176.6 551.3 L1193.2 556.2 L1209.8 561.2 L1226.3 565.4 L1242.9 568.7 L1259.5 571.2 L1266.2 572.8 L1294.3 574.5" fill="none" stroke="#c8447a" stroke-width="5.8" stroke-linejoin="round" stroke-linecap="butt" />
<path d="M746.5 162.9 L760.4 158.1 L774.9 153.1 L795.1 146.6 L810.9 150.9 L828.3 155.7 L841.3 162.5 L854.2 169.7 L868.7 180.5 L880 188.5 L890.4 195 L900.8 202 L911.2 211.5 L921.6 221 L931.9 230.2 L942 239.2 L952.7 251.5 L963.1 262 L973.5 273 L983.9 284.5 L994.3 296 L1003.9 307.3 L1016 324.6 L1024.6 335 L1038.5 354.1 L1052.3 373.1 L1066.2 390.4 L1078.3 406.5 L1090.8 422.9 L1101.2 433.3 L1111.6 445.4 L1117.6 452.3 L1122 452.8 L1130.6 461 L1142.7 473.1 L1156.6 485.2 L1170.2 496 L1179.9 503.2 L1193.2 512.3 L1209.8 522.2 L1226.3 530.5 L1242.9 537.2 L1259.5 543 L1276.1 548 L1294.3 552.5" fill="none" stroke="#5b01a6" stroke-width="5.8" stroke-linejoin="round" stroke-linecap="butt" />
</g>
<line x1="869.5" y1="193.2" x2="903" y2="227.3" stroke="#ec7074" stroke-width="2.2" />
<path d="M912.8 237.3 L896.6 230.8 L906.6 221Z" fill="#ec7074"/>
<line x1="1049.9" y1="410.6" x2="1087.4" y2="453.8" stroke="#000" stroke-width="2.2" />
<path d="M1096.6 464.4 L1080.8 456.9 L1091.4 447.7Z" fill="#000"/>
<line x1="1195.8" y1="527.3" x2="1244.7" y2="546.8" stroke="#000" stroke-width="2.2" />
<path d="M1257.7 552 L1240.2 552.6 L1245.4 539.6Z" fill="#000"/>
<text transform="translate(917.5 161.7) scale(1 1.04)" font-size="31" fill="#ec7074" >1.6 ps</text>
<text transform="translate(917.5 199.3) scale(1 1.04)" font-size="31" fill="#ec7074" >(annihilation)</text>
<text transform="translate(1096.8 413) scale(1 1.04)" font-size="31" >8 ps</text>
<text transform="translate(1195.3 495.2) scale(1 1.04)" font-size="31" >47 ps</text>
<text transform="translate(762 427.3) scale(1 1.04)" font-size="24.4" font-weight="bold" >TGPL<tspan x="71" font-size="20.3">(Integrated PL)</tspan></text>
<text transform="translate(762 523) scale(1 1.04)" font-size="24.4" font-weight="bold" >TA<tspan x="37" font-size="20.3">(PIA, 1.5-1.35 eV avgd)</tspan></text>
<line x1="762.1" y1="452.1" x2="816.1" y2="452.1" stroke="#fcae32" stroke-width="5.8" />
<text transform="translate(822.7 460.3) scale(1 1.04)" font-size="24.4" >50 μJ/cm<tspan font-size="16.5" dy="-10">2</tspan></text>
<line x1="762.1" y1="485" x2="816.1" y2="485" stroke="#c8447a" stroke-width="5.8" />
<text transform="translate(822.7 492.6) scale(1 1.04)" font-size="24.4" >240 μJ/cm<tspan font-size="16.5" dy="-10">2</tspan></text>
<line x1="762.1" y1="548.3" x2="816.1" y2="548.3" stroke="#5b01a6" stroke-width="5.8" />
<text transform="translate(822.7 555.6) scale(1 1.04)" font-size="24.4" >53.1 μJ/cm<tspan font-size="16.5" dy="-10">2</tspan></text>
<clipPath id="cpc"><rect x="1430.9" y="102.75" width="547.4" height="480.8"/></clipPath>
<line x1="1430.9" y1="562.4" x2="1978.3" y2="562.4" stroke="#000" stroke-width="2.9" />
<rect x="1573.6" y="134" width="70.5" height="69.7" fill="none" stroke="#111" stroke-width="2" stroke-dasharray="5.5 4"/>
<g clip-path="url(#cpc)">
<path d="M1431.3 556.5 L1433.5 560 L1435.7 563.1 L1437.9 560.7 L1440.1 558 L1442.3 560.4 L1444.5 562.7 L1446.7 565.2 L1448.9 560.3 L1451.1 558.4 L1453.3 562.7 L1455.5 563.6 L1457.7 566.5 L1459.9 565.9 L1462.1 562.9 L1464.3 561.1 L1466.5 567.4 L1468.7 562.1 L1470.9 558.6 L1473.1 556.2 L1475.3 557.9 L1477.5 558.2 L1479.7 556.5 L1481.9 556 L1484.1 556 L1486.3 556.4 L1488.5 556.7 L1490.7 553.7 L1492.9 546.8 L1495.1 549.5 L1497.3 544 L1499.5 544 L1501.7 539.3 L1503.9 539.8 L1506.1 536.3 L1508.3 535.7 L1510.5 541 L1512.7 532 L1514.9 528.3 L1517.1 518.5 L1519.3 514.1 L1521.5 510.9 L1523.7 503.3 L1525.9 496.7 L1528.1 488.1 L1530.3 476.5 L1532.5 470.4 L1534.7 458.7 L1536.9 454.9 L1539.1 441 L1541.3 433.8 L1543.5 421.1 L1545.7 413.8 L1547.9 397 L1550.1 390.8 L1552.3 376.1 L1554.5 369.7 L1556.7 357 L1558.9 343 L1561.1 326.6 L1563.3 320.6 L1565.5 310.2 L1567.7 305 L1569.9 287.5 L1572.1 279.2 L1574.3 269.9 L1576.5 259.6 L1578.7 250 L1580.9 241 L1583.1 228.9 L1585.3 217.5 L1587.5 211 L1589.7 207.8 L1591.9 208.4 L1594.1 200.3 L1596.3 194 L1598.5 186.9 L1600.7 181.2 L1602.9 173.5 L1605.1 172.6 L1607.3 177 L1609.5 163.6 L1611.7 156 L1613.9 171 L1616.1 166.2 L1618.3 170.8 L1620.5 173.6 L1622.7 163.5 L1624.9 185.4 L1627.1 191.1 L1629.3 185.5 L1631.5 190.3 L1633.7 191.2 L1635.9 188.5 L1638.1 196.4 L1640.3 206.3 L1642.5 218.8 L1644.7 224.6 L1646.9 226.5 L1649.1 239.4 L1651.3 228.1 L1653.5 243.5 L1655.7 255 L1657.9 248.6 L1660.1 234.8 L1662.3 240.7 L1664.5 255.9 L1666.7 266 L1668.9 281.1 L1671.1 263.8 L1673.3 268.9 L1675.5 278.3 L1677.7 275.1 L1679.9 254.1 L1682.1 277.7 L1684.3 301 L1686.5 297.3 L1688.7 278 L1690.9 276.3 L1693.1 281.8 L1695.3 305.2 L1697.5 295.6 L1699.7 287.3 L1701.9 298.1 L1704.1 286.2 L1706.3 300.4 L1708.5 281.2 L1710.7 276.5 L1712.9 286.4 L1715.1 296.9 L1717.3 293.7 L1719.5 289.8 L1721.7 268.9 L1723.9 273 L1726.1 276.5 L1728.3 279.6 L1730.5 292.7 L1732.7 290.1 L1734.9 301.6 L1737.1 300.8 L1739.3 298.7 L1741.5 308 L1743.7 315.4 L1745.9 324.5 L1748.1 317.7 L1750.3 320.3 L1752.5 313.4 L1754.7 342.1 L1756.9 353.9 L1759.1 345.8 L1761.3 342.8 L1763.5 337 L1765.7 354.1 L1767.9 364.3 L1770.1 393.5 L1772.3 386.3 L1774.5 376.5 L1776.7 358.6 L1778.9 398.6 L1781.1 402.9 L1783.3 388.3 L1785.5 406.4 L1787.7 396.4 L1789.9 452.1 L1792.1 448.8 L1794.3 444.5 L1796.5 437.6 L1798.7 416.2 L1800.9 433.4 L1803.1 426.1 L1805.3 449.5 L1807.5 429.8 L1809.7 438.5 L1811.9 467 L1814.1 483.5 L1816.3 460 L1818.5 449.7 L1820.7 474.2 L1822.9 484 L1825.1 468.7 L1827.3 467.9 L1829.5 468.9 L1831.7 465 L1833.9 470.4 L1836.1 494.5 L1838.3 497.8 L1840.5 512.3 L1842.7 495.6 L1844.9 490 L1847.1 479.5 L1849.3 486.1 L1851.5 476 L1853.7 468.1 L1855.9 493.2 L1858.1 510.9 L1860.3 511.1 L1862.5 517.3 L1864.7 508.3 L1866.9 495.1 L1869.1 500.1 L1871.3 497.5 L1873.5 489.2 L1875.7 480.8 L1877.9 481 L1880.1 498.2 L1882.3 507 L1884.5 504.2 L1886.7 525.4 L1888.9 520.4 L1891.1 524.6 L1893.3 534.6 L1895.5 517.2 L1897.7 499.9 L1899.9 525.1 L1902.1 519 L1904.3 539.7 L1906.5 536.9 L1908.7 543.7 L1910.9 543.8 L1913.1 512.9 L1915.3 533.1 L1917.5 525 L1919.7 521.4 L1921.9 523.8 L1924.1 537.9 L1926.3 544.1 L1928.5 547.7 L1930.7 519.6 L1932.9 521.5 L1935.1 502.5 L1937.3 520.9 L1939.5 535.1 L1941.7 525.1 L1943.9 532.8 L1946.1 535.4 L1948.3 545.1 L1950.5 528.5 L1952.7 522.8 L1954.9 521.8 L1957.1 549.3 L1959.3 552 L1961.5 539.8 L1963.7 539.8 L1965.9 538.9 L1968.1 539.9 L1970.3 536.1 L1972.5 533.8 L1974.7 523.3 L1976.9 526.8" fill="none" stroke="#f9dcd2" stroke-width="5.5" stroke-linejoin="round" stroke-linecap="butt" />
<path d="M1431.3 557.1 L1434.3 560 L1437.3 560.4 L1440.3 560.5 L1443.3 563.3 L1446.3 562.7 L1449.3 562 L1452.3 565.4 L1455.3 562.3 L1458.3 559.9 L1461.3 558.8 L1464.3 559.6 L1467.3 561.5 L1470.3 561.9 L1473.3 561.9 L1476.3 562.5 L1479.3 561.7 L1482.3 558.7 L1485.3 558 L1488.3 555.5 L1491.3 551.4 L1494.3 551.1 L1497.3 548.1 L1500.3 544.8 L1503.3 545.5 L1506.3 541.1 L1509.3 534.6 L1512.3 529.9 L1515.3 528.7 L1518.3 519 L1521.3 512 L1524.3 502.9 L1527.3 492.1 L1530.3 480.4 L1533.3 466.2 L1536.3 452.7 L1539.3 439.5 L1542.3 424.7 L1545.3 413.6 L1548.3 401.8 L1551.3 379.6 L1554.3 366.4 L1557.3 346.5 L1560.3 330.6 L1563.3 316.7 L1566.3 303.4 L1569.3 287.8 L1572.3 266.8 L1575.3 264.3 L1578.3 249.7 L1581.3 236.1 L1584.3 228.4 L1587.3 214.2 L1590.3 197.4 L1593.3 193.5 L1596.3 186 L1599.3 173.6 L1602.3 174 L1605.3 168.9 L1608.3 158 L1611.3 166.9 L1614.3 163.2 L1617.3 157.6 L1620.3 166 L1623.3 169.9 L1626.3 178.4 L1629.3 174.1 L1632.3 188.4 L1635.3 197.3 L1638.3 204.4 L1641.3 212.1 L1644.3 223.8 L1647.3 230.5 L1650.3 232.3 L1653.3 232.4 L1656.3 250.1 L1659.3 258.6 L1662.3 260.1 L1665.3 262.8 L1668.3 270.3 L1671.3 253.2 L1674.3 269.4 L1677.3 257.2 L1680.3 273.6 L1683.3 285.1 L1686.3 295.1 L1689.3 282.6 L1692.3 285.1 L1695.3 282.4 L1698.3 267 L1701.3 282.1 L1704.3 281.5 L1707.3 281.8 L1710.3 275.2 L1713.3 279.5 L1716.3 282.1 L1719.3 291.8 L1722.3 289.1 L1725.3 311.3 L1728.3 293.4 L1731.3 291 L1734.3 294.2 L1737.3 292.8 L1740.3 314.7 L1743.3 317.9 L1746.3 309.5 L1749.3 320.3 L1752.3 334.7 L1755.3 326.1 L1758.3 338.8 L1761.3 344.9 L1764.3 372 L1767.3 370.7 L1770.3 369.5 L1773.3 373.8 L1776.3 399.9 L1779.3 395.1 L1782.3 420.5 L1785.3 403.3 L1788.3 413.8 L1791.3 421.2 L1794.3 424.2 L1797.3 432.9 L1800.3 446.4 L1803.3 443.4 L1806.3 439.8 L1809.3 463.6 L1812.3 474.6 L1815.3 463.7 L1818.3 470.8 L1821.3 452.8 L1824.3 477.9 L1827.3 468.9 L1830.3 474.1 L1833.3 498.5 L1836.3 480.7 L1839.3 486.7 L1842.3 478.8 L1845.3 472.3 L1848.3 476.8 L1851.3 490.4 L1854.3 483.3 L1857.3 487.7 L1860.3 500.3 L1863.3 498.2 L1866.3 489.5 L1869.3 509.9 L1872.3 506.4 L1875.3 516.5 L1878.3 501.7 L1881.3 519.9 L1884.3 503.3 L1887.3 497 L1890.3 507.5 L1893.3 513.3 L1896.3 522.3 L1899.3 520.5 L1902.3 530.8 L1905.3 540.5 L1908.3 528.6 L1911.3 520 L1914.3 525.4 L1917.3 536.8 L1920.3 540.4 L1923.3 532.5 L1926.3 525.2 L1929.3 530.5 L1932.3 539.8 L1935.3 529.4 L1938.3 542.1 L1941.3 537.6 L1944.3 536.8 L1947.3 529.7 L1950.3 543.3 L1953.3 537.4 L1956.3 524 L1959.3 538.4 L1962.3 533.5 L1965.3 544.2 L1968.3 540.9 L1971.3 534.2 L1974.3 539.1 L1977.3 536" fill="none" stroke="#f9dcd2" stroke-width="5.5" stroke-linejoin="round" stroke-linecap="butt" />
<path d="M1431.3 559.5 L1433.8 561 L1436.3 560.6 L1438.8 560.3 L1441.3 561.5 L1443.8 562.2 L1446.3 562.5 L1448.8 562.7 L1451.3 562.4 L1453.8 562.1 L1456.3 561.8 L1458.8 561.9 L1461.3 561.6 L1463.8 561.9 L1466.3 561.6 L1468.8 560.1 L1471.3 560.3 L1473.8 559.4 L1476.3 559.2 L1478.8 558.7 L1481.3 557.3 L1483.8 555 L1486.3 554.6 L1488.8 552.4 L1491.3 552.3 L1493.8 549.9 L1496.3 548.2 L1498.8 547.2 L1501.3 543.4 L1503.8 541.3 L1506.3 538 L1508.8 534.9 L1511.3 531.1 L1513.8 527.6 L1516.3 522.5 L1518.8 517.1 L1521.3 510.8 L1523.8 502.2 L1526.3 494.8 L1528.8 484.9 L1531.3 474 L1533.8 463.8 L1536.3 453.9 L1538.8 442.9 L1541.3 430.5 L1543.8 418.6 L1546.3 406.3 L1548.8 394.1 L1551.3 380.6 L1553.8 368 L1556.3 354 L1558.8 340.8 L1561.3 328.5 L1563.8 316.1 L1566.3 303.5 L1568.8 291.8 L1571.3 280.1 L1573.8 269.3 L1576.3 258.9 L1578.8 248.4 L1581.3 238.6 L1583.8 228.5 L1586.3 218.9 L1588.8 208.6 L1591.3 200.2 L1593.8 191.4 L1596.3 184 L1598.8 176.8 L1601.3 172.1 L1603.8 167.9 L1606.3 163.6 L1608.8 161.8 L1611.3 160.6 L1613.8 159.2 L1616.3 160.9 L1618.8 164 L1621.3 165.8 L1623.8 169.9 L1626.3 174.3 L1628.8 178.9 L1631.3 182.3 L1633.8 187.5 L1636.3 194.1 L1638.8 201.3 L1641.3 207.1 L1643.8 214.2 L1646.3 221.2 L1648.8 229.2 L1651.3 229.8 L1653.8 240.7 L1656.3 248.1 L1658.8 256.3 L1661.3 258.2 L1663.8 261.2 L1666.3 268.7 L1668.8 269.9 L1671.3 263.9 L1673.8 267.6 L1676.3 277.3 L1678.8 278 L1681.3 277 L1683.8 280.5 L1686.3 297.1 L1688.8 286.2 L1691.3 285.8 L1693.8 285.6 L1696.3 281.9 L1698.8 287.9 L1701.3 287.9 L1703.8 285.5 L1706.3 276.2 L1708.8 286.2 L1711.3 286.8 L1713.8 283.2 L1716.3 269.8 L1718.8 279.2 L1721.3 277.3 L1723.8 282.5 L1726.3 284 L1728.8 284.3 L1731.3 295.1 L1733.8 296 L1736.3 303.9 L1738.8 298.1 L1741.3 306.3 L1743.8 318.2 L1746.3 319.8 L1748.8 318.4 L1751.3 320.6 L1753.8 326.3 L1756.3 334.2 L1758.8 344.4 L1761.3 349.1 L1763.8 358.3 L1766.3 366.1 L1768.8 369.1 L1771.3 381.3 L1773.8 386.7 L1776.3 387.9 L1778.8 393.1 L1781.3 400.1 L1783.8 402.5 L1786.3 404.1 L1788.8 416.5 L1791.3 420.9 L1793.8 432.1 L1796.3 432.2 L1798.8 439.4 L1801.3 445.3 L1803.8 446.2 L1806.3 452.9 L1808.8 452.4 L1811.3 456.4 L1813.8 466.9 L1816.3 470 L1818.8 470.8 L1821.3 468.5 L1823.8 478.1 L1826.3 490 L1828.8 471.7 L1831.3 485.9 L1833.8 486.8 L1836.3 493.4 L1838.8 496.9 L1841.3 484.2 L1843.8 497.7 L1846.3 489.6 L1848.8 490 L1851.3 496 L1853.8 494.6 L1856.3 497.1 L1858.8 494.2 L1861.3 491.2 L1863.8 497.1 L1866.3 493.5 L1868.8 507 L1871.3 505.7 L1873.8 512.8 L1876.3 501 L1878.8 493.8 L1881.3 491.7 L1883.8 503.1 L1886.3 502.8 L1888.8 513.6 L1891.3 508.4 L1893.8 509.1 L1896.3 520.6 L1898.8 521.9 L1901.3 529.8 L1903.8 533.9 L1906.3 533.4 L1908.8 525 L1911.3 524.9 L1913.8 543 L1916.3 534.5 L1918.8 535.1 L1921.3 534.5 L1923.8 533.5 L1926.3 532.4 L1928.8 529.9 L1931.3 529.4 L1933.8 520.8 L1936.3 539 L1938.8 534.4 L1941.3 526.3 L1943.8 534.3 L1946.3 537.7 L1948.8 527 L1951.3 529.2 L1953.8 541.5 L1956.3 540.1 L1958.8 539.4 L1961.3 542.8 L1963.8 537.8 L1966.3 535.8 L1968.8 546.3 L1971.3 539.9 L1973.8 539.1 L1976.3 543.4" fill="none" stroke="#f9dcd2" stroke-width="5.0" stroke-linejoin="round" stroke-linecap="butt" />
<path d="M1431.4 560 L1433.4 558.8 L1435.4 560.8 L1437.4 557.2 L1439.4 558.7 L1441.4 556.3 L1443.4 560.2 L1445.4 560.7 L1447.4 562.8 L1449.4 561 L1451.4 561.7 L1453.4 561.1 L1455.4 560.3 L1457.4 561.3 L1459.4 559.8 L1461.4 560.6 L1463.4 562.6 L1465.4 562.6 L1467.4 561.9 L1469.4 565.5 L1471.4 563.9 L1473.4 562.1 L1475.4 562.2 L1477.4 561 L1479.4 560.4 L1481.4 559.8 L1483.4 562.7 L1485.4 560.5 L1487.4 559.1 L1489.4 558.6 L1491.4 559.7 L1493.4 556.1 L1495.4 552.9 L1497.4 555.3 L1499.4 549.4 L1501.4 547.2 L1503.4 546.6 L1505.4 547.4 L1507.4 541.5 L1509.4 535 L1511.4 534.9 L1513.4 531.1 L1515.4 527.3 L1517.4 524.3 L1519.4 519.7 L1521.4 514.3 L1523.4 506.9 L1525.4 501.7 L1527.4 494.6 L1529.4 484 L1531.4 473.2 L1533.4 464.8 L1535.4 455.2 L1537.4 443.1 L1539.4 432.9 L1541.4 426.8 L1543.4 414.3 L1545.4 401.9 L1547.4 392.2 L1549.4 380.9 L1551.4 369.8 L1553.4 352 L1555.4 350.7 L1557.4 338.6 L1559.4 323.2 L1561.4 316.8 L1563.4 305.5 L1565.4 293.5 L1567.4 285.9 L1569.4 281 L1571.4 267.1 L1573.4 258.9 L1575.4 251.8 L1577.4 232.3 L1579.4 220.6 L1581.4 215.6 L1583.4 201 L1585.4 195.8 L1587.4 198.3 L1589.4 195.5 L1591.4 189.5 L1593.4 172.2 L1595.4 183.6 L1597.4 177.9 L1599.4 174.7 L1601.4 170.4 L1603.4 156.6 L1605.4 151.6 L1607.4 150.7 L1609.4 166.6 L1611.4 160.9 L1613.4 162.4 L1615.4 164.4 L1617.4 171.2 L1619.4 176.1 L1621.4 179.7 L1623.4 176.6 L1625.4 168.8 L1627.4 184.8 L1629.4 195.5 L1631.4 208.2 L1633.4 210.4 L1635.4 213.1 L1637.4 221.2 L1639.4 221.3 L1641.4 226.8 L1643.4 232.9 L1645.4 243.9 L1647.4 259 L1649.4 265 L1651.4 272.8 L1653.4 276.8 L1655.4 282.1 L1657.4 285 L1659.4 289.8 L1661.4 287.1 L1663.4 292.6 L1665.4 297.1 L1667.4 308.5 L1669.4 314.9 L1671.4 321.2 L1673.4 326.9 L1675.4 324.3 L1677.4 329 L1679.4 335.4 L1681.4 332.2 L1683.4 335.4 L1685.4 333.1 L1687.4 327.6 L1689.4 331.6 L1691.4 330.5 L1693.4 333.6 L1695.4 333.1 L1697.4 335.8 L1699.4 328.5 L1701.4 339.9 L1703.4 342.5 L1705.4 337.6 L1707.4 333.4 L1709.4 334.6 L1711.4 337.5 L1713.4 337.8 L1715.4 337.9 L1717.4 329.7 L1719.4 329.1 L1721.4 337.7 L1723.4 338 L1725.4 332.4 L1727.4 332.7 L1729.4 331.3 L1731.4 333 L1733.4 342.2 L1735.4 342.4 L1737.4 348.2 L1739.4 348.8 L1741.4 344.4 L1743.4 346.9 L1745.4 360.1 L1747.4 357.1 L1749.4 356.7 L1751.4 366.9 L1753.4 369.8 L1755.4 373.2 L1757.4 382.5 L1759.4 377.7 L1761.4 385.9 L1763.4 386.8 L1765.4 388.6 L1767.4 394.1 L1769.4 406.2 L1771.4 409.8 L1773.4 408.2 L1775.4 413 L1777.4 427.4 L1779.4 435.1 L1781.4 433.9 L1783.4 448.7 L1785.4 448.1 L1787.4 447.4 L1789.4 453.3 L1791.4 462.1 L1793.4 470.5 L1795.4 474.3 L1797.4 472.6 L1799.4 473.1 L1801.4 471.7 L1803.4 477.6 L1805.4 479.7 L1807.4 485.1 L1809.4 483.4 L1811.4 486.5 L1813.4 487.7 L1815.4 488.3 L1817.4 489.6 L1819.4 491.9 L1821.4 493.3 L1823.4 501.1 L1825.4 503.9 L1827.4 500.9 L1829.4 506.9 L1831.4 509.7 L1833.4 515.9 L1835.4 513.5 L1837.4 513.1 L1839.4 511.9 L1841.4 515 L1843.4 518.4 L1845.4 519.4 L1847.4 518.9 L1849.4 522.3 L1851.4 522.7 L1853.4 524 L1855.4 520.9 L1857.4 524.1 L1859.4 521.8 L1861.4 521.8 L1863.4 525.9 L1865.4 535.2 L1867.4 535.9 L1869.4 533.1 L1871.4 531.6 L1873.4 535.6 L1875.4 539.2 L1877.4 540.6 L1879.4 536.6 L1881.4 536.6 L1883.4 535.1 L1885.4 534.9 L1887.4 533.2 L1889.4 534.9 L1891.4 529.2 L1893.4 530.4 L1895.4 537.1 L1897.4 535.6 L1899.4 540.4 L1901.4 536.4 L1903.4 538.1 L1905.4 541.9 L1907.4 538.8 L1909.4 538.8 L1911.4 550.5 L1913.4 544.7 L1915.4 542.3 L1917.4 541.9 L1919.4 544.1 L1921.4 545.2 L1923.4 549.5 L1925.4 550.9 L1927.4 547.5 L1929.4 546.4 L1931.4 542.3 L1933.4 540.3 L1935.4 542.4 L1937.4 548.7 L1939.4 549.6 L1941.4 552.6 L1943.4 554.6 L1945.4 551.7 L1947.4 558.7 L1949.4 552.6 L1951.4 549.7 L1953.4 549.2 L1955.4 554.7 L1957.4 552.8 L1959.4 549.9 L1961.4 553 L1963.4 557 L1965.4 554.4 L1967.4 552.9 L1969.4 557.1 L1971.4 558.8 L1973.4 559.5 L1975.4 553.8 L1977.4 555.1" fill="none" stroke="#b8b6fa" stroke-width="5.5" stroke-linejoin="round" stroke-linecap="butt" opacity="0.85"/>
<path d="M1431.4 561.8 L1434 561.4 L1436.6 561.1 L1439.3 560.9 L1441.9 560.9 L1444.6 560.9 L1447.4 561 L1450.1 561.2 L1452.8 561.4 L1455.6 561.6 L1458.4 561.8 L1461.1 562 L1463.9 562.1 L1466.6 562.2 L1469.3 562.1 L1472 562 L1474.7 561.7 L1477.4 561.3 L1480 560.8 L1482.6 560 L1485.2 559.1 L1487.7 558.1 L1490.1 556.9 L1492.4 555.6 L1494.7 554.2 L1496.9 552.6 L1499 551 L1501 549.2 L1502.9 547.3 L1504.7 545.3 L1506.4 543.3 L1508 541.1 L1509.5 538.9 L1510.9 536.6 L1512.2 534.2 L1513.4 531.8 L1514.6 529.4 L1515.7 526.9 L1516.7 524.4 L1517.7 521.8 L1518.7 519.2 L1519.6 516.6 L1520.5 514 L1521.3 511.4 L1522.2 508.8 L1523 506.2 L1523.8 503.6 L1524.6 501 L1525.3 498.4 L1526.1 495.8 L1526.8 493.2 L1527.6 490.6 L1528.3 488.1 L1529 485.5 L1529.7 482.9 L1530.3 480.3 L1531 477.7 L1531.6 475.1 L1532.2 472.5 L1532.8 469.9 L1533.4 467.3 L1534 464.7 L1534.6 462 L1535.2 459.4 L1535.7 456.8 L1536.2 454.1 L1536.8 451.5 L1537.3 448.9 L1537.8 446.2 L1538.3 443.6 L1538.8 440.9 L1539.3 438.3 L1539.7 435.6 L1540.2 433 L1540.7 430.3 L1541.1 427.7 L1541.6 425 L1542 422.3 L1542.5 419.7 L1542.9 417 L1543.3 414.3 L1543.7 411.7 L1544.2 409 L1544.6 406.3 L1545 403.7 L1545.4 401 L1545.8 398.3 L1546.3 395.6 L1546.7 393 L1547.1 390.3 L1547.5 387.6 L1547.9 385 L1548.4 382.3 L1548.8 379.6 L1549.2 376.9 L1549.6 374.3 L1550.1 371.6 L1550.5 368.9 L1550.9 366.3 L1551.4 363.6 L1551.8 360.9 L1552.3 358.3 L1552.8 355.6 L1553.2 353 L1553.7 350.3 L1554.2 347.7 L1554.7 345 L1555.2 342.4 L1555.7 339.7 L1556.2 337.1 L1556.7 334.4 L1557.2 331.8 L1557.8 329.1 L1558.3 326.5 L1558.8 323.9 L1559.4 321.2 L1559.9 318.6 L1560.5 315.9 L1561 313.3 L1561.6 310.7 L1562.1 308 L1562.7 305.4 L1563.2 302.8 L1563.8 300.1 L1564.4 297.5 L1564.9 294.9 L1565.5 292.2 L1566 289.6 L1566.6 287 L1567.1 284.3 L1567.6 281.7 L1568.2 279 L1568.7 276.4 L1569.2 273.7 L1569.7 271.1 L1570.3 268.5 L1570.8 265.8 L1571.3 263.2 L1571.8 260.5 L1572.2 257.8 L1572.7 255.2 L1573.2 252.5 L1573.7 249.9 L1574.2 247.2 L1574.7 244.6 L1575.3 241.9 L1575.9 239.3 L1576.5 236.7 L1577.2 234.1 L1577.8 231.5 L1578.5 228.9 L1579.2 226.3 L1579.9 223.7 L1580.6 221.1 L1581.3 218.5 L1582 215.9 L1582.7 213.3 L1583.4 210.6 L1584 208 L1584.6 205.4 L1585.2 202.8 L1585.8 200.1 L1586.4 197.5 L1587 194.9 L1587.6 192.2 L1588.3 189.6 L1589 187 L1589.7 184.4 L1590.6 181.8 L1591.5 179.2 L1592.5 176.7 L1593.6 174.2 L1594.9 171.7 L1596.3 169.2 L1597.9 166.8 L1599.6 164.5 L1601.4 162.4 L1603.4 160.9 L1605.4 160.1 L1607.5 160.3 L1609.6 161.4 L1611.7 163.2 L1613.7 165.3 L1615.5 167.6 L1617.1 169.9 L1618.6 172.3 L1619.9 174.7 L1621.2 177.1 L1622.3 179.6 L1623.4 182 L1624.4 184.5 L1625.4 187 L1626.4 189.5 L1627.3 192 L1628.3 194.6 L1629.3 197.1 L1630.2 199.6 L1631.1 202.1 L1632 204.7 L1632.9 207.2 L1633.8 209.8 L1634.7 212.3 L1635.6 214.9 L1636.5 217.5 L1637.3 220 L1638.2 222.6 L1639 225.1 L1639.8 227.7 L1640.6 230.3 L1641.5 232.9 L1642.3 235.4 L1643.1 238 L1643.8 240.6 L1644.6 243.2 L1645.4 245.7 L1646.2 248.3 L1646.9 250.9 L1647.7 253.5 L1648.5 256 L1649.2 258.6 L1649.9 261.2 L1650.7 263.8 L1651.4 266.3 L1652.2 268.9 L1653 271.4 L1653.7 274 L1654.5 276.6 L1655.3 279.1 L1656.2 281.7 L1657 284.2 L1657.9 286.8 L1658.8 289.3 L1659.8 291.8 L1660.8 294.4 L1661.8 296.9 L1662.8 299.4 L1663.9 302 L1665.1 304.5 L1666.3 307 L1667.6 309.5 L1668.9 311.9 L1670.3 314.3 L1671.7 316.7 L1673.2 319 L1674.8 321.2 L1676.4 323.2 L1678.2 325.2 L1680 327.1 L1681.9 328.8 L1683.9 330.4 L1686 331.8 L1688.2 333 L1690.4 334 L1692.8 334.9 L1695.3 335.5 L1697.9 335.9 L1700.6 336 L1703.4 336 L1706.3 335.8 L1709.3 335.6 L1712.2 335.3 L1715.1 335.2 L1718 335.2 L1720.8 335.5 L1723.4 336.1 L1726 337 L1728.5 338.1 L1730.8 339.5 L1733 341 L1735.1 342.6 L1737.1 344.3 L1739 346.1 L1740.7 348.1 L1742.4 350.1 L1744 352.2 L1745.6 354.4 L1747 356.7 L1748.4 359 L1749.7 361.3 L1751 363.7 L1752.2 366.2 L1753.4 368.7 L1754.6 371.1 L1755.8 373.6 L1756.9 376.1 L1758 378.6 L1759.1 381.1 L1760.2 383.6 L1761.4 386.1 L1762.5 388.5 L1763.5 391 L1764.6 393.4 L1765.7 395.9 L1766.8 398.3 L1767.9 400.8 L1768.9 403.2 L1770 405.7 L1771 408.2 L1772 410.6 L1773 413.1 L1774 415.6 L1775 418.1 L1776 420.6 L1776.9 423.1 L1777.9 425.7 L1778.8 428.2 L1779.8 430.8 L1780.7 433.3 L1781.7 435.9 L1782.6 438.4 L1783.6 441 L1784.5 443.5 L1785.5 446 L1786.5 448.6 L1787.6 451.1 L1788.6 453.6 L1789.7 456.1 L1790.8 458.6 L1792 461 L1793.1 463.4 L1794.3 465.8 L1795.6 468.2 L1796.9 470.6 L1798.3 472.9 L1799.7 475.2 L1801.1 477.4 L1802.6 479.7 L1804.2 481.8 L1805.8 484 L1807.4 486.1 L1809.1 488.2 L1810.9 490.2 L1812.7 492.2 L1814.5 494.2 L1816.4 496.1 L1818.3 498 L1820.2 499.8 L1822.2 501.7 L1824.3 503.4 L1826.3 505.2 L1828.4 506.9 L1830.6 508.5 L1832.7 510.1 L1834.9 511.7 L1837.1 513.2 L1839.4 514.7 L1841.7 516.2 L1844 517.6 L1846.3 519 L1848.7 520.3 L1851.1 521.6 L1853.5 522.8 L1855.9 524 L1858.3 525.2 L1860.8 526.3 L1863.2 527.4 L1865.7 528.4 L1868.2 529.4 L1870.7 530.4 L1873.2 531.4 L1875.8 532.3 L1878.3 533.3 L1880.9 534.1 L1883.4 535 L1886 535.9 L1888.6 536.7 L1891.1 537.5 L1893.7 538.3 L1896.3 539.1 L1898.9 539.9 L1901.5 540.6 L1904.1 541.4 L1906.7 542.1 L1909.3 542.8 L1911.9 543.5 L1914.5 544.1 L1917.1 544.8 L1919.7 545.4 L1922.3 546 L1924.9 546.6 L1927.6 547.2 L1930.2 547.7 L1932.8 548.2 L1935.5 548.8 L1938.1 549.2 L1940.8 549.7 L1943.4 550.2 L1946.1 550.6 L1948.8 551 L1951.4 551.4 L1954.1 551.8 L1956.8 552.1 L1959.5 552.4 L1962.1 552.7 L1964.8 553 L1967.5 553.3 L1970.2 553.5 L1972.9 553.7 L1975.7 553.9 L1978.4 554" fill="none" stroke="#2212f0" stroke-width="4.8" stroke-linejoin="round" stroke-linecap="butt" />
<path d="M1431.4 561.6 L1434 561.3 L1436.7 561.1 L1439.3 561 L1441.9 560.9 L1444.6 561 L1447.2 561.1 L1449.9 561.2 L1452.5 561.3 L1455.2 561.5 L1457.8 561.6 L1460.5 561.7 L1463.1 561.7 L1465.7 561.7 L1468.4 561.6 L1471 561.4 L1473.6 561.1 L1476.2 560.7 L1478.8 560.1 L1481.4 559.4 L1483.9 558.5 L1486.4 557.5 L1488.8 556.3 L1491.2 555.1 L1493.5 553.7 L1495.7 552.2 L1497.8 550.6 L1499.8 548.8 L1501.7 547 L1503.5 545.1 L1505.1 543.1 L1506.6 541 L1508 538.8 L1509.4 536.6 L1510.6 534.3 L1511.8 531.9 L1512.9 529.5 L1513.9 527 L1514.9 524.6 L1515.8 522.1 L1516.7 519.5 L1517.6 517 L1518.5 514.4 L1519.4 511.9 L1520.3 509.4 L1521.1 506.8 L1522 504.3 L1522.9 501.8 L1523.8 499.4 L1524.7 496.9 L1525.6 494.4 L1526.5 491.9 L1527.4 489.4 L1528.2 487 L1529 484.5 L1529.8 482 L1530.6 479.5 L1531.3 476.9 L1532 474.4 L1532.7 471.9 L1533.4 469.3 L1534 466.8 L1534.7 464.2 L1535.3 461.6 L1535.8 459.1 L1536.4 456.5 L1537 453.9 L1537.5 451.3 L1538.1 448.7 L1538.6 446.1 L1539.1 443.6 L1539.6 441 L1540.1 438.4 L1540.6 435.8 L1541.2 433.2 L1541.7 430.6 L1542.2 428 L1542.7 425.4 L1543.2 422.8 L1543.7 420.2 L1544.2 417.6 L1544.8 415 L1545.3 412.4 L1545.8 409.8 L1546.4 407.2 L1546.9 404.6 L1547.4 402 L1547.9 399.4 L1548.5 396.9 L1549 394.3 L1549.5 391.7 L1550.1 389.1 L1550.6 386.5 L1551.1 383.9 L1551.7 381.3 L1552.2 378.8 L1552.7 376.2 L1553.3 373.6 L1553.8 371 L1554.3 368.4 L1554.8 365.8 L1555.3 363.2 L1555.9 360.7 L1556.4 358.1 L1556.9 355.5 L1557.4 352.9 L1557.9 350.3 L1558.4 347.7 L1558.9 345.1 L1559.4 342.5 L1559.9 339.9 L1560.4 337.4 L1560.9 334.8 L1561.3 332.2 L1561.8 329.6 L1562.3 327 L1562.8 324.4 L1563.3 321.8 L1563.7 319.2 L1564.2 316.6 L1564.7 314 L1565.2 311.4 L1565.7 308.8 L1566.2 306.3 L1566.6 303.7 L1567.1 301.1 L1567.6 298.5 L1568.1 295.9 L1568.6 293.3 L1569.1 290.7 L1569.6 288.1 L1570.1 285.5 L1570.7 282.9 L1571.2 280.3 L1571.7 277.7 L1572.3 275.1 L1572.8 272.5 L1573.3 269.9 L1573.9 267.4 L1574.5 264.8 L1575 262.2 L1575.6 259.6 L1576.2 257 L1576.8 254.4 L1577.4 251.8 L1578.1 249.2 L1578.7 246.7 L1579.4 244.1 L1580.1 241.6 L1580.8 239.1 L1581.6 236.6 L1582.3 234.1 L1583.1 231.7 L1583.9 229.2 L1584.7 226.7 L1585.5 224.3 L1586.3 221.8 L1587.1 219.3 L1587.9 216.8 L1588.6 214.3 L1589.4 211.8 L1590.1 209.2 L1590.8 206.6 L1591.4 204 L1592.1 201.4 L1592.7 198.7 L1593.3 196 L1593.9 193.3 L1594.6 190.7 L1595.2 188 L1596 185.4 L1596.8 182.8 L1597.7 180.3 L1598.7 177.8 L1599.8 175.4 L1601 173 L1602.4 170.8 L1603.9 168.6 L1605.5 166.6 L1607.4 164.7 L1609.3 163.2 L1611.4 162.2 L1613.5 161.8 L1615.6 162.2 L1617.7 163.3 L1619.7 164.8 L1621.5 166.6 L1623.2 168.7 L1624.8 170.9 L1626.2 173.2 L1627.4 175.7 L1628.6 178.2 L1629.7 180.7 L1630.8 183.3 L1631.8 185.9 L1632.8 188.5 L1633.8 191.1 L1634.8 193.6 L1635.8 196.1 L1636.8 198.6 L1637.7 201.1 L1638.7 203.5 L1639.7 206 L1640.7 208.4 L1641.6 210.8 L1642.6 213.2 L1643.5 215.6 L1644.5 218.1 L1645.5 220.5 L1646.4 222.9 L1647.4 225.3 L1648.4 227.7 L1649.3 230.1 L1650.3 232.5 L1651.3 235 L1652.2 237.4 L1653.2 239.9 L1654.2 242.3 L1655.2 244.8 L1656.2 247.3 L1657.2 249.8 L1658.3 252.2 L1659.4 254.7 L1660.5 257.1 L1661.7 259.5 L1663 261.8 L1664.3 264.2 L1665.7 266.4 L1667.1 268.6 L1668.7 270.8 L1670.3 272.9 L1672 274.9 L1673.8 276.8 L1675.7 278.6 L1677.8 280.3 L1679.9 281.8 L1682.1 283.1 L1684.4 284.3 L1686.8 285.1 L1689.2 285.8 L1691.8 286.1 L1694.4 286.2 L1697.1 286 L1699.8 285.8 L1702.6 285.6 L1705.3 285.3 L1708 285.2 L1710.7 285.3 L1713.3 285.7 L1715.8 286.3 L1718.2 287.2 L1720.5 288.3 L1722.8 289.6 L1725 291.1 L1727.1 292.8 L1729.2 294.6 L1731.1 296.5 L1733 298.5 L1734.8 300.5 L1736.5 302.6 L1738.1 304.7 L1739.7 306.9 L1741.2 309.1 L1742.6 311.3 L1744.1 313.5 L1745.4 315.7 L1746.8 318 L1748.1 320.2 L1749.3 322.5 L1750.6 324.8 L1751.8 327.1 L1753 329.5 L1754.1 331.8 L1755.3 334.2 L1756.4 336.6 L1757.5 338.9 L1758.6 341.3 L1759.6 343.7 L1760.6 346.2 L1761.7 348.6 L1762.7 351 L1763.6 353.5 L1764.6 355.9 L1765.6 358.4 L1766.5 360.8 L1767.4 363.3 L1768.4 365.8 L1769.3 368.2 L1770.2 370.7 L1771.1 373.2 L1772 375.7 L1772.9 378.2 L1773.8 380.7 L1774.7 383.2 L1775.6 385.7 L1776.5 388.2 L1777.4 390.6 L1778.3 393.1 L1779.2 395.6 L1780.1 398.1 L1781.1 400.6 L1782 403.1 L1783 405.5 L1783.9 408 L1784.9 410.5 L1785.9 412.9 L1786.9 415.3 L1787.9 417.8 L1789 420.2 L1790 422.6 L1791.1 425 L1792.2 427.4 L1793.3 429.8 L1794.5 432.2 L1795.6 434.5 L1796.8 436.9 L1798.1 439.2 L1799.3 441.5 L1800.6 443.8 L1801.9 446.1 L1803.3 448.4 L1804.7 450.7 L1806.1 452.9 L1807.6 455.1 L1809 457.3 L1810.6 459.5 L1812.2 461.7 L1813.8 463.8 L1815.4 465.9 L1817.1 468 L1818.8 470 L1820.6 472 L1822.4 474 L1824.2 475.9 L1826 477.8 L1827.9 479.7 L1829.9 481.5 L1831.8 483.2 L1833.8 485 L1835.8 486.6 L1837.9 488.2 L1840 489.8 L1842.1 491.3 L1844.3 492.7 L1846.5 494.1 L1848.7 495.4 L1851 496.7 L1853.3 497.9 L1855.7 499 L1858.1 500.1 L1860.6 501.1 L1863.1 502 L1865.6 502.9 L1868.1 503.8 L1870.6 504.7 L1873.1 505.7 L1875.4 506.9 L1877.7 508.2 L1879.7 509.7 L1881.7 511.4 L1883.7 513.2 L1885.5 515.1 L1887.4 517 L1889.2 519 L1891.1 521 L1893.1 523 L1895 525 L1897 526.8 L1899.1 528.5 L1901.3 530.1 L1903.5 531.4 L1905.8 532.5 L1908.2 533.5 L1910.6 534.3 L1913.1 534.9 L1915.6 535.4 L1918.2 535.8 L1920.8 536.1 L1923.4 536.2 L1926.1 536.4 L1928.8 536.5 L1931.5 536.5 L1934.1 536.5 L1936.8 536.6 L1939.5 536.7 L1942.2 536.8 L1944.8 536.9 L1947.4 537.1 L1950.1 537.4 L1952.7 537.7 L1955.2 538 L1957.8 538.4 L1960.4 538.9 L1963 539.4 L1965.5 540 L1968.1 540.6 L1970.6 541.3 L1973.2 542 L1975.8 542.8 L1978.3 543.6" fill="none" stroke="#c0390d" stroke-width="4.8" stroke-linejoin="round" stroke-linecap="butt" />
</g>
<path d="M1649.1 169 H1697.1 V215.7 H1759" fill="none" stroke="#000" stroke-width="2.2"/>
<path d="M1773 215.7 L1757.8 208 L1757.8 223.4Z" fill="#000"/>
<line x1="1748.2" y1="139.9" x2="1814.7" y2="139.9" stroke="#2212f0" stroke-width="4.4" />
<line x1="1748.2" y1="176.3" x2="1814.7" y2="176.3" stroke="#c0390d" stroke-width="4.4" />
<text transform="translate(1822.3 150) scale(1 1.04)" font-size="29.3" >1-10 ps</text>
<text transform="translate(1822.3 185.7) scale(1 1.04)" font-size="29.3" >10-100 ps</text>
<clipPath id="cpi"><rect x="1798.5" y="208.8" width="174.2" height="147.9"/></clipPath>
<g clip-path="url(#cpi)">
<path d="M1804.3 369.8 L1806.3 369.3 L1808.3 359.6 L1810.3 353.9 L1812.3 354.1 L1814.3 356.4 L1816.3 350 L1818.3 340 L1820.3 335.8 L1822.3 334.4 L1824.3 334.7 L1826.3 328.9 L1828.3 323.3 L1830.3 319.4 L1832.3 317.1 L1834.3 310.7 L1836.3 308.8 L1838.3 306.7 L1840.3 308.4 L1842.3 300.8 L1844.3 299.8 L1846.3 290.5 L1848.3 292 L1850.3 288 L1852.3 282.5 L1854.3 280.7 L1856.3 281.6 L1858.3 275.9 L1860.3 277.2 L1862.3 277.8 L1864.3 276.8 L1866.3 275.2 L1868.3 263.5 L1870.3 264.3 L1872.3 259.9 L1874.3 263.2 L1876.3 260.2 L1878.3 259 L1880.3 258.7 L1882.3 254.3 L1884.3 254.7 L1886.3 251.6 L1888.3 259.8 L1890.3 253.2 L1892.3 252.6 L1894.3 246.1 L1896.3 245 L1898.3 246.8 L1900.3 252.9 L1902.3 254.7 L1904.3 253.7 L1906.3 250.4 L1908.3 258.2 L1910.3 250.9 L1912.3 249.6 L1914.3 254.3 L1916.3 251 L1918.3 254.9 L1920.3 259 L1922.3 257.3 L1924.3 259.1 L1926.3 259.1 L1928.3 257.4 L1930.3 249.2 L1932.3 254.3 L1934.3 261 L1936.3 258.5 L1938.3 262.5 L1940.3 267.6 L1942.3 274.3 L1944.3 268.3 L1946.3 270.8 L1948.3 275.5 L1950.3 279.5 L1952.3 275.6 L1954.3 287.1 L1956.3 282.9 L1958.3 289.7 L1960.3 288.8 L1962.3 292.1 L1964.3 298.9 L1966.3 299.1 L1968.3 298.5 L1970.3 295.6 L1972.3 297.2" fill="none" stroke="#f8d6cb" stroke-width="5.5" stroke-linejoin="round" stroke-linecap="butt" />
<path d="M1796.1 365 L1798.1 360.8 L1800.1 368.8 L1802.1 360 L1804.1 354.2 L1806.1 351 L1808.1 344.7 L1810.1 339.7 L1812.1 339.6 L1814.1 333.8 L1816.1 333.3 L1818.1 327.2 L1820.1 317.6 L1822.1 313.4 L1824.1 310.7 L1826.1 303.6 L1828.1 304.8 L1830.1 301.8 L1832.1 302.3 L1834.1 294.3 L1836.1 291.6 L1838.1 291 L1840.1 289.2 L1842.1 281.1 L1844.1 284.7 L1846.1 277.1 L1848.1 278.8 L1850.1 272.9 L1852.1 269.2 L1854.1 263.9 L1856.1 264.5 L1858.1 271.3 L1860.1 262.6 L1862.1 265.6 L1864.1 264.9 L1866.1 258.3 L1868.1 260.2 L1870.1 260.9 L1872.1 255.1 L1874.1 252 L1876.1 255.8 L1878.1 254.1 L1880.1 258.9 L1882.1 254.7 L1884.1 248.3 L1886.1 249.8 L1888.1 246.7 L1890.1 251.9 L1892.1 253.5 L1894.1 250.7 L1896.1 248.6 L1898.1 254 L1900.1 252.1 L1902.1 257.1 L1904.1 252.2 L1906.1 253.7 L1908.1 254 L1910.1 253.4 L1912.1 266 L1914.1 267.4 L1916.1 261.6 L1918.1 265.4 L1920.1 259.5 L1922.1 268.6 L1924.1 272 L1926.1 269.9 L1928.1 270.5 L1930.1 274 L1932.1 277.2 L1934.1 277.1 L1936.1 277.1 L1938.1 280.5 L1940.1 282.7 L1942.1 288.8 L1944.1 290.1 L1946.1 292.7 L1948.1 289.2 L1950.1 293.9 L1952.1 297 L1954.1 299.2 L1956.1 302.8 L1958.1 305 L1960.1 303.4 L1962.1 312.2 L1964.1 316.3 L1966.1 314.5 L1968.1 319 L1970.1 316.8 L1972.1 316.4" fill="none" stroke="#b8b6fa" stroke-width="5.5" stroke-linejoin="round" stroke-linecap="butt" opacity="0.85"/>
<path d="M1796.2 363.5 L1797.3 361.9 L1798.4 360.4 L1799.5 358.8 L1800.6 357.3 L1801.6 355.7 L1802.6 354.2 L1803.6 352.6 L1804.6 351.1 L1805.6 349.5 L1806.5 348 L1807.4 346.5 L1808.4 344.9 L1809.3 343.4 L1810.1 341.9 L1811 340.3 L1811.8 338.8 L1812.7 337.3 L1813.5 335.8 L1814.3 334.2 L1815.2 332.7 L1816 331.2 L1816.8 329.7 L1817.6 328.1 L1818.4 326.6 L1819.1 325.1 L1819.9 323.5 L1820.7 322 L1821.5 320.5 L1822.3 318.9 L1823.1 317.4 L1823.9 315.9 L1824.7 314.3 L1825.5 312.8 L1826.3 311.2 L1827.1 309.7 L1827.9 308.1 L1828.7 306.6 L1829.5 305 L1830.4 303.4 L1831.2 301.9 L1832.1 300.3 L1833 298.7 L1833.9 297.2 L1834.8 295.6 L1835.7 294 L1836.7 292.4 L1837.6 290.8 L1838.6 289.2 L1839.6 287.6 L1840.6 286 L1841.7 284.4 L1842.7 282.8 L1843.8 281.3 L1844.9 279.7 L1846 278.2 L1847.1 276.6 L1848.3 275.1 L1849.4 273.7 L1850.6 272.2 L1851.8 270.8 L1853.1 269.4 L1854.3 268 L1855.6 266.7 L1856.8 265.4 L1858.2 264.1 L1859.5 262.9 L1860.8 261.7 L1862.2 260.6 L1863.6 259.5 L1865 258.5 L1866.4 257.5 L1867.9 256.6 L1869.4 255.7 L1870.9 254.9 L1872.4 254.1 L1873.9 253.4 L1875.5 252.8 L1877.1 252.3 L1878.7 251.8 L1880.4 251.4 L1882 251 L1883.7 250.7 L1885.4 250.6 L1887.1 250.4 L1888.8 250.4 L1890.6 250.5 L1892.3 250.6 L1894 250.8 L1895.7 251.1 L1897.4 251.5 L1899.1 251.9 L1900.8 252.4 L1902.4 253.1 L1904 253.8 L1905.6 254.5 L1907.2 255.4 L1908.8 256.3 L1910.3 257.2 L1911.8 258.2 L1913.3 259.3 L1914.8 260.4 L1916.2 261.5 L1917.7 262.7 L1919.1 263.9 L1920.5 265.1 L1921.9 266.3 L1923.2 267.5 L1924.6 268.8 L1925.9 270 L1927.2 271.3 L1928.5 272.6 L1929.8 273.9 L1931.1 275.2 L1932.3 276.4 L1933.6 277.7 L1934.8 279.1 L1936 280.4 L1937.3 281.7 L1938.5 283 L1939.7 284.3 L1940.8 285.7 L1942 287 L1943.2 288.3 L1944.4 289.7 L1945.5 291 L1946.7 292.3 L1947.9 293.7 L1949 295 L1950.2 296.4 L1951.3 297.7 L1952.5 299.1 L1953.6 300.4 L1954.8 301.8 L1955.9 303.1 L1957.1 304.5 L1958.3 305.8 L1959.4 307.1 L1960.6 308.5 L1961.8 309.8 L1963 311.1 L1964.2 312.5 L1965.4 313.8 L1966.6 315.1 L1967.8 316.4 L1969 317.7 L1970.3 319 L1971.5 320.3 L1972.8 321.6 L1974.1 322.9" fill="none" stroke="#2212f0" stroke-width="4.7" stroke-linejoin="round" stroke-linecap="butt" />
<path d="M1804.3 367.1 L1805.2 365.6 L1806.1 364.1 L1807 362.6 L1807.9 361.1 L1808.8 359.6 L1809.7 358.1 L1810.5 356.7 L1811.4 355.2 L1812.2 353.7 L1813 352.3 L1813.8 350.8 L1814.7 349.4 L1815.5 347.9 L1816.3 346.5 L1817.1 345 L1817.8 343.6 L1818.6 342.1 L1819.4 340.7 L1820.2 339.3 L1820.9 337.8 L1821.7 336.4 L1822.5 335 L1823.2 333.5 L1824 332.1 L1824.7 330.7 L1825.5 329.3 L1826.3 327.8 L1827 326.4 L1827.8 325 L1828.5 323.6 L1829.3 322.1 L1830.1 320.7 L1830.8 319.3 L1831.6 317.9 L1832.4 316.4 L1833.2 315 L1834 313.6 L1834.8 312.2 L1835.6 310.7 L1836.4 309.3 L1837.2 307.8 L1838 306.4 L1838.9 305 L1839.7 303.5 L1840.6 302.1 L1841.5 300.6 L1842.3 299.2 L1843.2 297.7 L1844.1 296.2 L1845 294.8 L1846 293.3 L1846.9 291.8 L1847.9 290.4 L1848.8 288.9 L1849.8 287.5 L1850.8 286 L1851.8 284.6 L1852.8 283.1 L1853.9 281.7 L1854.9 280.3 L1856 278.9 L1857 277.6 L1858.1 276.2 L1859.2 274.9 L1860.4 273.5 L1861.5 272.3 L1862.7 271 L1863.8 269.7 L1865 268.5 L1866.2 267.3 L1867.4 266.2 L1868.7 265 L1869.9 263.9 L1871.2 262.9 L1872.5 261.9 L1873.8 260.9 L1875.1 259.9 L1876.4 259 L1877.8 258.1 L1879.1 257.3 L1880.5 256.5 L1881.9 255.8 L1883.3 255.1 L1884.8 254.5 L1886.3 253.9 L1887.7 253.4 L1889.2 252.9 L1890.8 252.5 L1892.3 252.1 L1893.8 251.8 L1895.4 251.6 L1897 251.4 L1898.6 251.3 L1900.2 251.2 L1901.8 251.1 L1903.4 251.2 L1905 251.3 L1906.6 251.4 L1908.2 251.6 L1909.8 251.9 L1911.3 252.2 L1912.9 252.6 L1914.5 253.1 L1916.1 253.5 L1917.6 254.1 L1919.2 254.7 L1920.7 255.3 L1922.2 256 L1923.7 256.8 L1925.2 257.6 L1926.7 258.4 L1928.2 259.2 L1929.6 260.1 L1931 261.1 L1932.4 262.1 L1933.8 263.1 L1935.2 264.1 L1936.6 265.2 L1937.9 266.2 L1939.2 267.4 L1940.5 268.5 L1941.8 269.7 L1943.1 270.8 L1944.3 272 L1945.6 273.2 L1946.8 274.5 L1948 275.7 L1949.2 276.9 L1950.4 278.2 L1951.6 279.4 L1952.8 280.7 L1954 281.9 L1955.1 283.2 L1956.3 284.4 L1957.5 285.6 L1958.6 286.9 L1959.8 288.1 L1960.9 289.3 L1962.1 290.5 L1963.2 291.7 L1964.4 292.8 L1965.6 293.9 L1966.7 295.1 L1967.9 296.1 L1969.1 297.2 L1970.2 298.2 L1971.4 299.2 L1972.6 300.2 L1973.8 301.1" fill="none" stroke="#c0390d" stroke-width="4.7" stroke-linejoin="round" stroke-linecap="butt" />
</g>
<line x1="1798.5" y1="208.8" x2="1798.5" y2="364.7" stroke="#000" stroke-width="1.9" />
<line x1="1798.5" y1="356.7" x2="1972.7" y2="356.7" stroke="#000" stroke-width="1.9" />
<line x1="1790.5" y1="238.5" x2="1798.5" y2="238.5" stroke="#000" stroke-width="1.9" />
<line x1="1794.5" y1="312.7" x2="1798.5" y2="312.7" stroke="#000" stroke-width="1.9" />
<line x1="1875.8" y1="356.7" x2="1875.8" y2="364.7" stroke="#000" stroke-width="1.9" />
<line x1="1953" y1="356.7" x2="1953" y2="364.7" stroke="#000" stroke-width="1.9" />
<line x1="1837.1" y1="356.7" x2="1837.1" y2="360.7" stroke="#000" stroke-width="1.9" />
<line x1="1914.4" y1="356.7" x2="1914.4" y2="360.7" stroke="#000" stroke-width="1.9" />
<text transform="translate(1784 246) scale(1 1.04)" font-size="20" text-anchor="end" >1.0</text>
<text transform="translate(1798.5 387) scale(1 1.04)" font-size="20" text-anchor="middle" >1.92</text>
<text transform="translate(1875.8 387) scale(1 1.04)" font-size="20" text-anchor="middle" >1.88</text>
<text transform="translate(1953 387) scale(1 1.04)" font-size="20" text-anchor="middle" >1.84</text>
<rect x="746.5" y="103.65" width="547.8" height="480.8" fill="none" stroke="#000" stroke-width="2.9"/>
<rect x="1430.9" y="102.75" width="547.4" height="480.8" fill="none" stroke="#000" stroke-width="2.9"/>
</svg>
</body></html>
